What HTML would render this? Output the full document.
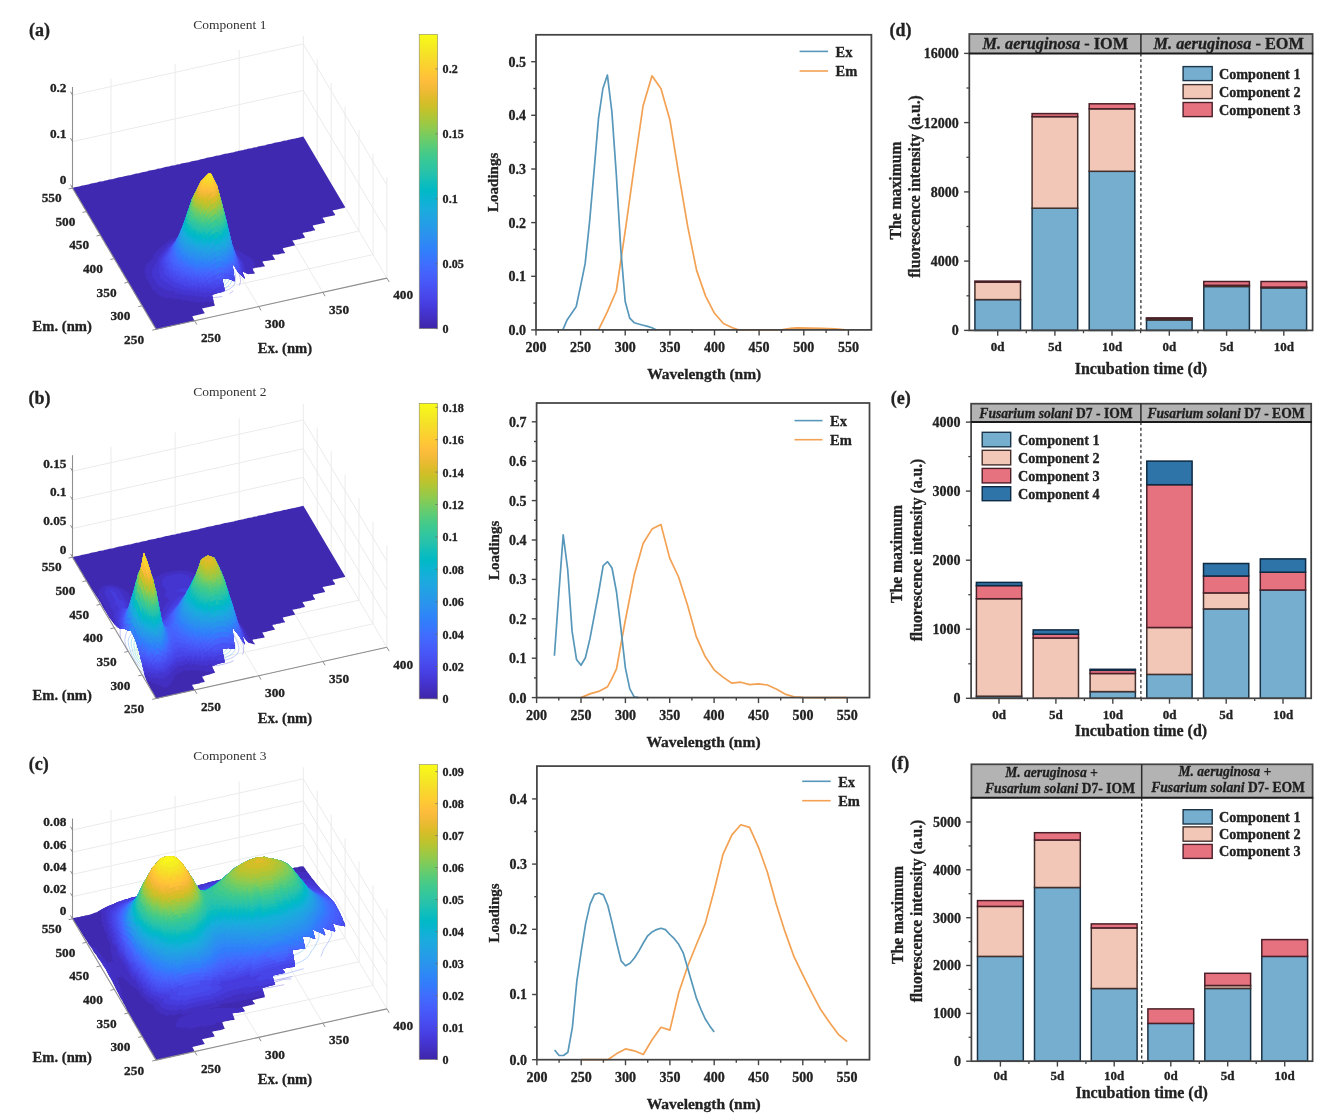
<!DOCTYPE html>
<html><head><meta charset="utf-8"><title>Figure</title>
<style>html,body{margin:0;padding:0;background:#fff;}svg{display:block;filter:blur(0.45px);}text{font-family:"Liberation Serif",serif;stroke:#222;stroke-width:0.3px;}text.n{stroke:none;}</style></head>
<body>
<svg width="1326" height="1119" viewBox="0 0 1326 1119" font-family="Liberation Serif, serif">
<g stroke-width="1"><line x1="111" y1="179.5" x2="111" y2="78.5" stroke="#ebebeb" stroke-width="1" /><line x1="111" y1="179.5" x2="194.6" y2="320.8" stroke="#ebebeb" stroke-width="1" /><line x1="175.1" y1="165.2" x2="175.1" y2="64.2" stroke="#ebebeb" stroke-width="1" /><line x1="175.1" y1="165.2" x2="258.7" y2="306.5" stroke="#ebebeb" stroke-width="1" /><line x1="239.2" y1="151" x2="239.2" y2="50" stroke="#ebebeb" stroke-width="1" /><line x1="239.2" y1="151" x2="322.8" y2="292.3" stroke="#ebebeb" stroke-width="1" /><line x1="303.3" y1="136.8" x2="303.3" y2="35.8" stroke="#ebebeb" stroke-width="1" /><line x1="386.9" y1="278.1" x2="386.9" y2="177.1" stroke="#ebebeb" stroke-width="1" /><line x1="156.1" y1="329.3" x2="386.9" y2="278.1" stroke="#ebebeb" stroke-width="1" /><line x1="373" y1="254.6" x2="373" y2="153.6" stroke="#ebebeb" stroke-width="1" /><line x1="142.2" y1="305.8" x2="373" y2="254.6" stroke="#ebebeb" stroke-width="1" /><line x1="359" y1="231" x2="359" y2="130" stroke="#ebebeb" stroke-width="1" /><line x1="128.2" y1="282.2" x2="359" y2="231" stroke="#ebebeb" stroke-width="1" /><line x1="345.1" y1="207.5" x2="345.1" y2="106.5" stroke="#ebebeb" stroke-width="1" /><line x1="114.3" y1="258.6" x2="345.1" y2="207.5" stroke="#ebebeb" stroke-width="1" /><line x1="331.2" y1="183.9" x2="331.2" y2="82.9" stroke="#ebebeb" stroke-width="1" /><line x1="100.4" y1="235.1" x2="331.2" y2="183.9" stroke="#ebebeb" stroke-width="1" /><line x1="317.2" y1="160.4" x2="317.2" y2="59.4" stroke="#ebebeb" stroke-width="1" /><line x1="86.4" y1="211.6" x2="317.2" y2="160.4" stroke="#ebebeb" stroke-width="1" /><line x1="72.5" y1="188" x2="303.3" y2="136.8" stroke="#ebebeb" stroke-width="1" /><line x1="303.3" y1="136.8" x2="386.9" y2="278.1" stroke="#ebebeb" stroke-width="1" /><line x1="72.5" y1="141.6" x2="303.3" y2="90.4" stroke="#ebebeb" stroke-width="1" /><line x1="303.3" y1="90.4" x2="386.9" y2="231.7" stroke="#ebebeb" stroke-width="1" /><line x1="72.5" y1="95.1" x2="303.3" y2="43.9" stroke="#ebebeb" stroke-width="1" /><line x1="303.3" y1="43.9" x2="386.9" y2="185.2" stroke="#ebebeb" stroke-width="1" /></g>
<g><polyline fill="none" stroke="#9997f1" stroke-width="0.6" points="233.8,264.1 235.8,266.9 237.4,269.7 238,271.7 239.3,274.6 240.2,277.6 240.5,279.7 240.5,281.8 239.8,284.1 239,285.6"/>
<polyline fill="none" stroke="#9997f1" stroke-width="0.6" points="233.4,290.7 231.4,292.3 229.4,293.8"/>
<polyline fill="none" stroke="#9997f1" stroke-width="0.6" points="222.2,296.4 218.3,297.1 214.2,297.5 211.4,297.7 207.5,297.6 204.5,297.3 201.1,297.4 198.2,297.4 195.1,297.2 191.9,296.8 188.7,296.1 185.3,295.3 182.5,294.7 180.2,294 177,292.7 174.2,291.2 171.8,289.6 169.9,287.9 167.9,285.6 166.4,283.3 165.3,281.1 164.2,278.5 163.3,275.5 163,273.4 163.2,271.3 163.7,269 164.3,267.2 165.2,265.5 166.6,263.6 167.8,261.7 168.7,259.9 170.4,257.9 171.9,256.5 173,254.9 174.8,253 176.7,251.4 178.8,250 180.9,248.6 183.2,247.6 186.7,246.1 190.4,245 192.8,244.3 195.7,244.2 199.1,244.1 202.3,244.5 205.6,244.8 208.2,245.3 211.6,246.5 213.6,247.5 216.6,248.8 219.4,250.3 221.9,251.7 224.2,253.4 226.2,255.1 228,256.9 230.4,259.5 232.4,262.3 233.8,264.1"/>
<polyline fill="none" stroke="#97abfd" stroke-width="0.6" points="228.7,263.1 230.8,265.8 232.7,268.6 234.1,271.5 235.2,274.1 235.5,276.5 235.4,278.7 235.3,280.8 234.8,283.1 234.1,284.6 232.5,286.8 230.5,288.3 228.3,289.6 226,290.6 222.4,291.9 218.6,292.8 214.7,293.5 210.6,294 207.9,294.3 203.6,294.2 200.5,294 197.3,293.6 194.6,293.1 192.3,292.4 188.7,291.3 186.8,290.5 184.1,289 181.3,287.5 178.8,285.9 176.8,284.2 174.5,281.5 173.4,278.6 172.8,276.6 172.6,273.9 172.8,271.8 172.9,269.5 173.3,267.6 173.9,265.7 175.1,263.4 175.9,262 177.4,259.9 179.1,258.1 180.7,256.7 182.8,255.2 185.4,253.8 187.8,252.9 191.2,251.4 193.6,250.6 197.4,249.8 200.5,249.9 203.4,249.8 206.4,250.1 209.7,250.7 213,251.7 215.2,252.7 217.6,253.9 220,255.5 222.2,257.2 224.8,259.1 227.2,261.3 228.7,263.1"/>
<polyline fill="none" stroke="#8bbff8" stroke-width="0.6" points="229.4,269.3 230.4,271.2 231.6,274.2 232,276.2 232.1,278.7 231.8,280.7 231,282.9 229.7,284.5 227.8,286.2 225.8,287.7 223.4,288.8 220,290.2 216,290.9 212,291.4 209.2,291.6 205.5,291.7 202.1,291.4 199.3,291 196.8,290.4 193.4,289.4 191.1,288.5 188.1,287 185.4,285.6 183.4,283.8 181.7,282.1 179.9,279.3 179.1,277.3 178.3,274.3 177.9,272.2 178.1,270.1 178.7,267.8 179.4,265.8 180.2,264.3 181.7,262.2 183.2,260.4 184.8,259 186.7,257.5 189.6,256.1 191.9,255 195.6,253.9 199.5,253.1 202.4,253.1 205.9,253.3 208.6,253.8 212,254.7 214.6,255.6 217.4,257.1 219.9,258.7 222,260.3 223.8,262.1 226.1,264.7 228.2,267.5 229.4,269.3"/>
<polyline fill="none" stroke="#82d0ed" stroke-width="0.6" points="225.8,268 227.8,270.8 228.4,272.8 229.4,275.8 229.2,277.9 228.7,280.2 228,281.6 226.3,283.7 224.5,285.4 222.2,286.6 219.9,287.6 216.1,288.6 212.3,289.1 209.3,289.3 206.3,289.4 202.8,289.1 200.2,288.6 196.7,287.7 194.2,286.8 191,285.4 188.7,283.8 186.7,282 184.9,280.3 184.1,278.3 182.9,275.4 182.5,273.4 182.2,270.4 182.6,268.7 183.5,266.7 184.6,264.8 185.9,263 187.1,261.6 189.2,260.1 192.5,258.4 194.8,257.5 198.5,256.3 202.6,255.9 205.6,256 208.8,256.5 211.5,257.3 214.2,258.3 216.6,259.4 219.1,261 221.2,262.6 223.7,265.3 225.3,267.2"/>
<polyline fill="none" stroke="#7cdbd8" stroke-width="0.6" points="222.1,266.7 224.2,269.4 225.8,272.3 226.3,274.3 226.7,277 226.1,278.6 224.8,281 223.9,282.3 222,283.8 219,285.5 216.3,286.4 213,286.8 209.5,287.1 206.6,287.1 202.9,286.9 200.3,286.3 196.7,285.1 194.8,284.4 192.3,282.9 189.8,280.9 187.9,278.6 186.9,275.9 186.3,273.6 186.2,271.5 186.2,269.3 187.3,267 188.1,265.7 189.8,263.6 191.9,262.3 194,261 197.5,259.6 199.9,258.7 202.6,258.4 205.7,258.6 208.9,259 212.3,260.1 214.4,260.9 217.5,262.4 219.4,264.1 221.9,266.5"/>
<polyline fill="none" stroke="#9ae2bc" stroke-width="0.6" points="219.5,267.3 221.7,270 223.3,272.8 223.6,274.9 223.8,277 222.6,279.4 221.7,280.8 219.7,282.3 217.5,283.7 213.8,284.6 211.1,284.9 207.1,285 203.7,284.8 200.8,284.2 198.7,283.6 195.8,282.1 193.7,280.5 191.3,277.8 190.2,274.8 189.9,272.8 189.9,270.7 190.1,268.5 191.4,266.4 193.4,264.9 195.5,263.5 197.8,262.4 201.3,261.1 205,260.9 208.1,261.3 210.8,261.8 214.1,263.1 216.4,264.8 218.5,266.4"/>
<polyline fill="none" stroke="#cae197" stroke-width="0.6" points="218.2,269.7 220.5,272.4 220.6,274.5 220.7,276.7 219.7,279 217.8,280.4 215.7,282 213.7,282.4 209.8,282.8 206.9,282.8 203.7,282.5 200.6,282.1 198.2,280.5 195.9,278.9 194.2,276.1 193.6,274.1 193.3,272 193.6,269.8 195,267.6 197,266 199.2,264.8 202.1,263.7 204.8,263.1 207.7,263.5 210.4,264 213.3,265.5 215.5,267.1 217.7,269.1"/>
<polyline fill="none" stroke="#f3d98d" stroke-width="0.6" points="216.1,271.2 217.7,274.1 217.2,275.7 216.5,277.5 215.1,279.5 213.9,280.2 209.9,280.5 206.9,280.7 203.5,279.5 201.5,278.7 198.1,277.4 197.9,275 197.8,272.3 198.5,270.9 200,268.6 202.1,267.3 204.2,266 207.2,266.1 210.1,267.2 212.9,268.5 215.3,270.4"/>
<polyline fill="none" stroke="#fce78c" stroke-width="0.6" points="213.5,273.9 212.8,275.7 210.7,276.9 207.7,276.7 204.6,276.4 203.7,275 205,272.6 205.9,271.2 207.7,269.4 210.1,271.1 212.5,273.1"/></g>
<g stroke="none"><g transform="scale(.1)"><path fill="#3f29b1" d="M1563 3295l-5-2-6-16-24-34-10-23-20-27-10-23-10-10-23-47-10-10-7-16-6-7-10-23-10-10-20-40-24-34-10-23-10-10-6-17-7-6-10-24-10-10-23-46-10-10-20-40-10-10-7-17-7-7-10-23-10-10-23-47-7-3-23-47-10-10-20-40-10-10-23-46-10-10-10-24-7-6-7-17-10-10-23-47-10-10-20-40-10-10-23-46-10-10-24-47-10-10-23-47-10-10-7-16-23-34-10-23-23-33-10-24-24-33-20-40-10-10-43-80 22-8 46-7 30-10 14 0 3-3 43-7 30-10 60-10 14-7 46-6 17-7 13 0 30-10 30-3 60-17 47-7 13-6 30-4 4-3 26-3 60-17 17 0 43-13 47-7 13-7 77-13 13-7 30-3 60-17 14 0 3-3 13 0 17-7 43-6 17-7 30-3 13-7 77-13 30-10 60-10 30-10 30-4 30-10 60-10 30-10 30-3 60-17 30-3 3-3 57-10 17-7 13 0 17-7 13 0 17-6 13 0 17-7 13 0 17-7 43-6 17-7 30-3 13-7 77-13 13-7 47-7 30-10 60-10 30-10 30-3 16-7 14 0 13-6 47-7 3-3 27-4 46-13 419 708-5 5-10 0-4 4-13 0-60 16-30 4-5 5 23 33 4 7-2 5-123 26 1 9 7 6 17 34-125 28 5 15 20 30-5 5-14 0-30 10-13 0-3 3-57 10-5 5 17 24 8 21-37 7-16 7-14 0-16 6-44 7 29 48-125 29 11 28 14 17-5 5-30 3-34 10-56 3-2 5 3 7 7 7 7 16 10 10-5 5-47 4-3 3-64 7-6 3-2 5 23 40-1 5-34 3-3 4-20 0-23 6-20 0-4 4-20 0 12 28 10 13 2 15-57 0-7 4-56-27-2 8 23 57-1 8-69-71-55-89 25 182-8 2-10-4-17-10-30-10-20 0-3-3-20 0-3-3-15 1 26 127-25 5-10 7-23 3-68 25 0 10 10 27 0 13 6 13 0 10 10 30-1 5-127 27 28 48-125 29 12 28 13 17-8 5-43 6-30 10-60 10-14 7-76 13-14 7-46 7-4 3-10 0-30 10-16 0-17 7-13 0z"/>
<path fill="#422fc1" d="M2017 3032l-7-17-20 10-17 3-10-13-16 10-7 0-7-13-23 10-7-14-23 10-10-13-10 3-7-10-23 10-10-13-10 7-7-17-23 10-7-13-13 10-10 0-3 3-7-13-23 6-7-13-20 10-13-10-24 7-6-10-10 3-7-10-13 3-7-10-10 4-13-20-14 6-18-38-5-5-10 7-5-2-40-77-40-60 0-3 10-7 0-6-23-34 0-3 10-7-10-16 10-4 0-6-7-10 10-7-3-7 10-3-4-7 10-6-3-7 40-33-3-4 1-5 10 0 12-8-3-3 10-7-4-7 10-6-10-14 10-6 2-9 18-8 0-7 10-6-3-4 10-6-2-9 20-6-1-9 18-5 5-5-3-3 10-7-4-3 5-5 14-3 6-14 7 0 12-8-2-5 20-7-2-5 5-5 17-3-2-5 5-5 37-10 7-3 3-7 10 0 22-8 26-57 0-7 20-43 4-17 6-10 4-16 6-10 74-224 6-6 4-14 6-6 7-20 7-7 60-123 68-69 27-3 65 125 6 20 4 23 13 37 3 23 7 14 3 23 17 50 3 23 7 14 0 10 13 43 0 13 4 4 0 10 6 16 0 10 4 4 0 10 6 16 54 224 6 10 7 26 18 12 10 0 7 7 13 0 10 13 14 0 13 17 10 0 13 16 10 0 7 7 13 0 14 17 10-4 13 20 10-3 8 8 10 24 17 23-10 7 2 8-12 2 13 20-5 5-21 1 10 17-10 3 10 20-14 4 5 11-33 0-7 4-23-10-7-7-6 0-17-10-5 2 3 16 20 47-1 8-69-71-55-89 25 182-8 2-10-4-17-10-30-10-60-6-1 8 3 3 0 14 13 46 10 57-25 5-10 7-23 3-67 23-1 12 6 13 4 27 3 3 0 7-5 5-30 7-13 6-7-20z"/>
<path fill="#4435d1" d="M2047 2982l-5-2-5-15-24 10-10-17-20 14-5-2-5-12-6 0-17 10-7-13-13 7-7-14-23 17-7-23-33 16-8-5-2-11-23 13-10-17-10 7-7-17-23 17-10-13-12 5-7-24-5-5-10 10-6-13-17 10-10 0-7-10-10 3-6-10-14 4-6-10-10 3-7-10-13 3-10-23-14 10-13-23-10 6-5-5-10-26-47-70 2-5 12-5-17-24 10-6-10-14 10-6 0-7 10-10-3-3 10-7-4-7 10-6-3-4 10-6-3-7 10-7 0-6 10-10-10-7 0-3 10-7-4-7 10-10-6-10 11-5 9-11 10-7-4-3 10-7-3-7 10-6-3-4 23-13-3-3 10-10-4-4 9-5 10-13 11-5 0-7 10-6-3-4 10-6-2-5 17-7 7-10 26-10 4-7 20-6 11-9 0-6 10-14 30-63 0-7 20-43 4-17 6-10 4-16 6-10 74-224 6-6 4-14 6-6 7-20 7-7 60-123 68-69 27-3 65 125 6 20 4 23 13 37 3 23 7 14 3 23 17 50 3 23 7 14 0 10 13 43 0 13 4 4 0 10 6 16 0 10 4 4 0 10 6 16 54 224 6 10 14 46 10 20 16 17 4 10 23 20 27 47 13 16 10 24-3 10 16 33-1 5-9-2 10 17 0 7-11-2-17-10-5 2 3 16 20 47-1 8-69-71-55-89 25 182-8 2-10-4-17-10-30-10-60-6-1 8 3 3 0 14 13 46 10 57-25 5-10 7-23 3-67 23-1 12 3 7-18 11-9-1-5-19z"/>
<path fill="#463cde" d="M2167 2935l-9-2-3-20-5-5-7 7-26 7-24 13-5-2-5-18-33 20-7 0-1-12-9-5-20 17-5-18-11 5-10-17-24 20-13 3-2-15-5-8-23 17-7-24-20 17-8-5-2-12-26 14-7-17-23 13-7-16-13 6-7-13-10 7-7-14-13 7-7-13-10 10-6-14-14 10-10-26-13 13-13-27-10 4-7-10-13 3-9-22-15 5-16-30-15 5-10-23-10-10 10-13-7-14-13-13 0-3 10-7 0-7-7-10 10-6-10-14 13-6-10-10 10-14-10-13 10-10-6-10 10-10-4-7 10-6-3-7 10-7-3-3 16-20 0-7 10-6-3-4 20-16 17-20-4-4 10-6-3-7 20-17-3-3 11-5 10-13 20-10-1-5 10-7-4-3 19-9 11-15 0-6 10-14 30-63 0-7 20-43 4-17 6-10 4-16 6-10 74-224 6-6 4-14 6-6 7-20 7-7 60-123 68-69 10-3 17 0 5 5 60 120 10 43 6 14 0 10 7 13 3 23 7 14 3 23 7 13 3 24 7 13 3 23 7 14 0 10 13 43 0 13 4 4 0 10 6 16 0 10 4 4 0 10 6 16 54 224 6 10 14 46 16 40 17 17 13 20 34 60 0 3-5-1-2 5 13 30-10 0 10 23-13-3 10 20-3 13 13 37-2 8-55-58-55-89 25 182-8 2-10-4-17-10-30-10-60-6-1 8 3 3 0 14 13 46 10 57-25 5-10 7-23 3z"/>
<path fill="#4744e8" d="M2127 2895l-5-2-4-16-5-5-33 20-5-2 0-10-5-8-23 20-7-24-37 27-6-33-37 30-5-9 0-13-5-5-23 23-7-26-23 20-5-9 0-10-15 9-7-17-23 17-7-20-13 10-2-12-8-5-7 7-7-17-10 10-5-2-5-15-10 10-6-13-14 10-10-30-13 13-8-25-5-5-10 14-5-5 0-7-14-20-5-15-8 12-7 3-10-23-26-37 10-20-24-33 10-17-13-10 0-7 10-10-3-3 10-10 0-3-10-7 10-10-4-3 34-47-4-3 10-7-3-3 10-10-3-4 36-36 17-27 33-30 34-63 0-7 16-30 0-7 20-43 4-17 6-10 4-16 6-10 74-224 6-6 4-14 6-6 7-20 7-7 60-123 68-69 10-3 17 0 5 5 60 120 10 43 6 14 0 10 7 13 3 23 7 14 3 23 7 13 3 24 7 13 3 23 7 14 0 10 13 43 0 13 4 4 0 10 6 16 0 10 4 4 0 10 6 16 54 224 6 10 37 110 13 16 20 44-10 0 14 26-4 7 7 3-3 7 13 33 0 7-7 0 7 23-10-3 3 3-1 12-29-28-55-89 25 182-8 2-10-4-17-10-30-10-60-6-1 8 3 3 0 14 13 46 4 27-9 5-5-2-5-25-36 14-10 0z"/>
<path fill="#484cef" d="M2043 2868l-5-8 0-20-5-12-36 34-5-32-5-2-34 34-6-27-24 23-5-5 0-13-5-5-10 10-5-18-11 8-10-20-10 13-7-20-23 20-10-16-10 13-5-18-12 8-10-17-10 14-8-19 0-13-5-5-10 13-7-13-13 10-17-40-13 13-2-1-17-34 0-6-20-27-3-10-20-23 13-17-23-20 13-13-8-5-2-5 10-10-3-7 17-23 0-4-7-3 27-30 10-17-10 0 33-43 37-40 40-73 0-7 16-30 0-7 20-43 4-17 6-10 4-16 6-10 74-224 6-6 4-14 6-6 7-20 7-7 60-123 68-69 27-3 65 125 6 20 4 23 13 37 3 23 7 14 3 23 17 50 3 23 7 14 0 10 13 43 0 13 4 4 0 10 6 16 0 10 4 4 0 10 6 16 54 224 6 10 14 46 6 10 4 17 6 10 7 27 13 26 17 50-3 10 10 27 0 10-7 0 3 3-1 5-9-5 7 34 3 3-1 5-19-18-55-89 9 75 3 4 3 40 4 3 0 17-10 0 0 20 3 3-2 18-50-20-60-6-1 8 10 33-5 9-20 3-50 20-5-5 0-10-5-8-47 23-5-5 0-10-5-8z"/>
<path fill="#4854f5" d="M2083 2838l-5-1-5-42-50 43-6-36-24 23-5-8 0-17-5-8-23 26-7-30-23 27-5-8-2-15-13 13-2-2-5-21-23 30-5-9-3-26-5-12-14 17-1-12-5-5-5 8-19 15-6-20-10 10-5-1 0-10-9-22-13 10-7-13-10 13-8-15 0-13-5-5-10 13-20-33-10 13-8-12 0-6-27-34 10-16 0-10-12-9-11-15 0-6 10-10-10-7 10-17-10-3 13-13-3-4 10-10-4-3 17-23-3-4 10-13-4-7 7-6 3-14 50-63 34-63 0-7 16-30 0-7 20-43 4-17 6-10 4-16 6-10 74-224 6-6 4-14 6-6 7-20 7-7 60-123 68-69 27-3 65 125 6 20 4 23 13 37 3 23 7 14 3 23 17 50 3 23 7 14 0 10 13 43 0 13 4 4 0 10 6 16 0 10 4 4 0 10 6 16 54 224 6 10 37 110 13 26-3 4 3 3 0 10 7 13 0 10 7 10 0 7-7 0 7 17 0 10-4 0-5-9 2 12-10-3 7 20 0 13 3 3-2 9-60-94 9 75 3 4 3 40 4 3-2 18-47-23 4 50-14-7-60-6 2 21-25 9-5-22-12-2-20 7-73 37z"/>
<path fill="#475cfa" d="M2063 2802l-5-5 0-24-5-11-31 35-5 1-7-36-23 26-7-33-23 27-5-2 0-13-5-9-24 30-5-25-1-1-10 13-5-5 0-13-5-5-10 16-7-23-13 17-2-15-5-5-10 16-5-5-2-11-10 10-5-2 0-10-5-5-10 10-13-37-10 14-5-5-2-12-13 13-13-26-10 13-5-5-17-43-10-17-27-30 14-17-24-20 14-16-4-4 10-13-6-3 16-24-3-3 10-17-10 0 10-13-3-3 13-14-3-3 10-17 36-50 0-6 10-14 30-63 0-7 20-43 4-17 6-10 4-16 6-10 74-224 6-6 4-14 13-20 0-6 7-7 60-123 68-69 27-3 65 125 6 20 4 23 13 37 3 23 7 14 3 23 17 50 3 23 7 14 0 10 13 43 0 13 4 4 0 10 6 16 0 10 4 4 0 10 6 16 54 224 6 10 14 46 6 10 4 17 6 10 14 40-4 10 7-3-3 13 6 17 0 10-3 0-2-5-1 8 6 23-10-6 4 6-2 9-5-12-3 0 6 20 0 17 4 3-2 12-47-74 9 75 3 4 0 16 3 7-8-2-27-20-5 2 4 3 1 35-26-13-34-7 0 57-30-7-20 10-10 0-26 10-7-53-43 23z"/>
<path fill="#4464fd" d="M2100 2775l-7-50-50 47-6-40-37 40-5-12 0-17-5-5-23 30-5-28-4 0-8 12-5-9-2-18-13 17-7-27-23 33-7-23-13 17-2-15-5-9-10 17-5-5-8-35-10 17-5-2 0-7-5-5-10 14-8-35-5-5-10 13-7-17-13 17-17-43-5 8-10 7-7-20-30-37 7-17 7-6-17-10 10-17-10-13 13-14-5-1-1-5 6-7-3-3 10-17-5-2-2-5 7-6 3-7-3-3 10-14-3-6 10-10 3-10 23-34 0-6 10-14 30-63 0-7 20-43 4-17 6-10 4-16 6-10 74-224 6-6 4-14 6-6 7-20 7-7 60-123 68-69 10-3 17 0 5 5 60 120 6 20 4 23 13 37 3 23 7 14 3 23 17 50 3 23 7 14 0 10 13 43 0 13 4 4 0 10 6 16 0 10 4 4 0 10 6 16 54 224 6 10 14 46 16 37 0 13 7 17-3 17 6 16-1 9-5-12-4 0 7 30-3 0-2-5-3 10-2-5-3 0 0 13 6 20-1 19-32-52-3 0 10 63-2 2-20-20 0 40-33-27 0 47-10 0-14-7-13 0-17-6-16 0-10 6-17 4-17 10-13 3z"/>
<path fill="#406dfe" d="M2153 2745l-5-8 0-27-3-3-2-15-23 13-23 20-10 3-17 17-5-12 0-23-5-8-25 31-12 9-1-25-5-12-24 30-6-33-24 33-5-8 0-17-5-5-10 17-6-30-10 16-5-1 0-17-5-5-10 17-7-27-10 17-5-5 0-14-5-5-10 20-7-20-13 24-2-12-6-10 3-7-5-15-13 24-7-20-10 13-5-5 0-10-8-15-10 13-5-1-15-39-5 9-10 6 0-6-10-10 13-17 0-7-13-16-14-10 0-7 10-10 0-7-13-6 10-17-2-5-8-2 13-23-10 0 10-17-6-3 3-10 17-27 0-6 16-24 0-6 10-14 30-63 0-7 20-43 4-17 6-10 4-16 6-10 74-224 6-6 4-14 6-6 7-20 7-7 60-123 68-69 10-3 17 0 5 5 60 120 6 20 4 23 13 37 3 23 7 14 3 23 17 50 3 23 7 14 0 10 13 43 0 13 4 4 0 10 6 16 0 10 4 4 0 10 6 16 54 224 6 10 14 46 10 20-4 7 7 3-3 7 3 17-2 1-3-6-5 11 2 5 1-5 4 0-4 10 0 14 4 3-2 12-2-9-3 0 7 44-10-7 3 30-3 0-19-32 2 25-10-6 0 16 3 4-1 15-34-30 0 40-40-17-8 2 5 51-17-6-16 0z"/>
<path fill="#3876fe" d="M2110 2715l-5-2 0-26-3-4-2-18-23 17-27 30-7-40-23 30-5-12 0-20-5-5-12 22-11 11-2-21-5-12-23 37-5-15 0-17-4 0-11 15-2-18-5-9-10 20-7-26-13 20-5-25-3 0-9 15-5-5-1-15-14 23-8-42-7-3 0 7-8 15-13-44-14 27-11-25 0-10-5-5-9 15-3 0-17-37-23-26 13-17-23-13 13-27-1-5-9 2 7-14-3-13 10-20-4-3 10-7-3-7 7-6 6-20 24-40 0-7 16-30 0-7 20-43 50-150 7-10 10-30 0-10 13-30 14-47 6-6 4-14 6-6 7-20 7-7 60-123 68-69 10-3 17 0 5 5 60 120 6 20 4 23 13 37 3 23 7 14 3 23 17 50 3 23 7 14 0 10 13 43 0 13 4 4 0 10 6 16 0 10 4 4 0 10 6 16 54 224 6 10 7 30 13 33 0 10-6 13 3 24-7-4 7 40-3 0-5-11 1 21-10-6 4 6 0 20 3 4-2 5-8-9-3-13-12-15 0 33-20-20-2 2 0 10 4 3-2 22-23-20-7-3-5 1 5 49-47-17-10 0-33 17-30 10z"/>
<path fill="#317efb" d="M2160 2685l-5-15 0-27-5-11-13 3-57 47-5-2 0-10-3-3-2-29-37 44-5-5 0-24-5-8-23 37-7-40-11 15-12 25-5-12 0-20-3 0-12 15-5-28-3 0-9 15-5-9-1-18-14 23-6-26-10 16-5-5-2-15-13 20-9-25 4-3-4-3 0-14-5-5-8 22-3 0-4-7-1-11-14 26-8-35-10-16 0-10-7-4-6 24-5 1-9-21-6-7 0-7-24-26 14-30-24-10 14-30-10-4 6-10-6-3 5-5 5 2-4-4 7-16-3-4 6-3-3-3 3-10 24-40 0-7 16-30 0-7 20-43 50-150 7-10 10-30 0-10 13-30 14-47 6-6 4-14 6-6 7-20 7-7 60-123 68-69 10-3 17 0 5 5 60 120 6 20 4 23 13 37 3 23 7 14 3 23 17 50 3 23 7 14 0 10 13 43 0 13 4 4 0 10 6 16 0 10 4 4 0 10 6 16 54 224 10 20-4 6 7 4-3 6 6 20-3 17 7-3-7 20 7 40-4 0-5-12-1 12-7-4-2 19-5-12-3 0 3 7 2 31-23-30 0 37-20-23 3 46-13-13-47-20-2 28 4 4 0 20-19-2zM2335 2530l-2-5-1 5z"/>
<path fill="#2e86f7" d="M2117 2652l-5-2 0-27-4-3-1-15-24 17-26 30-7-44-23 30-7-36-23 33-5-5 0-20-5-8-24 43-5-35-3 0-7 13-5 2-1-22-5-5-10 20-7-26-13 23-2-18-5-5-10 20-8-25 0-17-5-8-10 20-5-5-2-15-13 26-15-51-7 3-8 25-2-8-7-7 4-3-10-27-27-33-10-4 13-33-23-7 10-16-3-7 13-23-3-4 6-13 0-10 30-60 0-7 20-43 4-17 6-10 4-16 6-10 74-224 6-6 4-14 6-6 7-20 7-7 60-123 68-69 10-3 17 0 5 5 60 120 6 20 4 23 13 37 3 23 7 14 3 23 17 50 3 23 7 14 0 10 13 43 0 13 4 4 0 10 6 16 0 10 4 4 0 10 6 16 54 224 6 13-3 7 7 20-4 23 7 23-2 9-5-15-3 0 3 10-1 11-5-11-4 0 4 10-2 11-5-11-3 0 0 13 3 3-2 12-18-28-7-4 4 4 3 36-13-10 3 7 2 32-27-27-10-3 2 31 3 4-2 11-6 0-37-20-13 0-54 27-6 0z"/>
<path fill="#2c8ef1" d="M2170 2622l-5-2-3-47-5-5-7 7-23 10-40 37-5-2-5-45-22 22-15 25-5-15 0-24-5-5-20 37-5-2 0-23-5-12-23 40-5-15 0-16-4 0-6 13-5 2-5-29-4 0-8 19-7-27-13 20-2-15-5-8-10 23-5-8-1-15-14 23-1-15-7-10 3-3-3-7 0-17-7 4-8 18-8-22 0-10-5-5-9 25-6 0-17-60-12-8-20-23-11-5 10-17 3-13-17-4 10-20-3-6 13-27 4-20 16-30 0-7 20-43 4-17 6-10 4-16 6-10 74-224 6-6 4-14 6-6 7-20 7-7 60-123 68-69 10-3 17 0 5 5 60 120 6 20 4 23 13 37 3 23 7 14 3 23 17 50 3 23 7 14 0 10 13 43 0 13 4 4 3 23 3 3 27 117 3 3 27 117 3 3 0 14 7 16-3 20 6-3 0 10-3 3 3 24-3 0-2-9-3 14-7-17 0 23-5-15-3 0 3 27-10-7 2 32-20-27 0 37-20-23 0 43-47-27-1 22 3 3 0 27-18-2zM2322 2493l-2-5-2 5z"/>
<path fill="#2895ec" d="M2110 2602l-5-15 0-27-5-8-47 50-5-9 0-26-3-7-3 0-22 35-5-38-7 3-5 12-5-9 0-23-5-5-23 47-5-35-3 0-9 18-5-8-1-22-14 23-5-25-3 0-8 19-5-5-2-19-13 27-9-25 4-3-4-4 0-16-5-5-8 21-3 0-4-6-1-12-14 27-11-32 0-10-7-10 0-10-7-3-8 25-5-2 0-7-13-10 0-10 13-30-18-15-12-1 13-30-16-4 6-13-3-7 7 0-4-3 4-17 16-33 0-7 20-43 4-17 6-10 4-16 6-10 74-224 6-6 4-14 6-6 7-20 7-7 60-123 68-69 10-3 17 0 5 5 60 120 6 20 4 23 13 37 3 23 7 14 3 23 7 13 3 24 7 13 3 23 7 14 0 10 13 43 0 13 4 4 3 23 3 3 27 117 27 97-4 6 7 7-3 10 6 3-6 17 3 30-3 0-2-8-3 16-7-16 2 25-10-7 3 27-10-7 0 13 3 4-1 18-20-27 0 40-10-13-20-13-5 1 0 17 3 3-2 25-30-13-6-7-70 37zM2312 2433l-2-5-2 5z"/>
<path fill="#259ce7" d="M2033 2575l-5-42-6 4-5 11-5-5 0-23-5-12-24 47-5-35-6 3-5 15-5-5 0-20-5-5-10 24-7-34-13 24-2-19-7-3 0 7-8 15-7-24-13 27-8-52-7 4-8 21-9-15-8-35-5 5-8 25-2-8-7-7 4-3-4-13-30-27 0-10 10-23-16-4 13-26-8-2-4 3-1-5 6-13-3-3 13-24 0-10 20-43 14-43 6-10 74-224 6-6 4-14 13-20 0-6 7-7 60-123 68-69 27-3 65 125 10 43 6 14 0 10 7 13 3 23 7 14 3 23 7 13 3 24 7 13 3 23 7 14 0 10 13 43 0 13 4 4 50 210 3 3 0 13 3 4 0 13-3 3 0 10 3 4-1 15-2-9-3 0 3 30 3 4 0 20-3 0-5-15 0 26-18-35-4 0 4 34-4 0-5-12 0 43-18-31-3 0 0 13 3 3-2 32-36-27-10-3 3 53-13-10-37 20-5-51-5-2-30 17-43 40-2-32-3-3-2-15-15 15z"/>
<path fill="#21a3e3" d="M2117 2535l-7-53-50 50-2-15-3-4-2-28-26 40-2-25-5-15-23 43-2-15-3-3 0-17-7 4-3 10-5 1-2-21-5-9-10 24-7-34-13 24-5-25-3 0-9 21-6-26-5 5-9 25-5-35-3-4 0-16-7 3-8 25-8-15 0-10-5-5-10 27-5-5-14-47-8-5-13-17-12-5 10-30-13 0 10-30 0-3-7-3 13-30 4-17 6-10 4-17 6-10 4-16 6-10 74-224 6-6 4-14 6-6 7-20 7-7 60-123 68-69 10-3 17 0 5 5 60 120 10 43 6 14 0 10 7 13 3 23 7 14 3 23 7 13 3 24 7 13 3 23 7 14 10 50 3 3 0 13 4 4 3 23 3 3 27 117 17 57-4 16 7-3-3 23-4 4 0 13 4 3-2 22-2-8-3 0 2 25-5-12-4 0 2 32-23-44 5 42-4 0-8-15 0 40-13-17-14-10-8-1 3 10 0 30 4 3-2 8-40-26-23 16-7 0zM2298 2390l-1-5-2 5z"/>
<path fill="#1ca9df" d="M2157 2512l-5-5 0-34-4-3-1-15-27 13-33 37-5-8 0-30-5-12-19 18-18 32-2-28-3-4-2-15-23 44-5-15 0-20-7 3-8 18-5-38-3 0-9 22-5-12-1-22-14 27-1-22-5-11-10 23-5-5-2-22-13 27-7-27-8 25-5 2-2-18-8-22-5 5-9 28-1-8-7-7 3-3-6-17 0-10-7-10 0-13-5-5-12 32-6-4 13-33-12-8-6-10-9-2 10-37-5-1-10 6-5-1 4-17 10-20 0-10 26-63 30-97 7-10 10-30 0-10 13-30 14-47 6-6 4-14 6-6 7-20 7-7 60-123 68-69 10-3 17 0 5 5 60 120 10 43 6 14 0 10 7 13 3 23 7 14 3 23 7 13 3 24 7 13 3 23 7 14 0 10 13 43 0 13 4 4 3 23 3 3 30 130 4 4 0 16 6 24-1 11-2-8-3 0 6 40-3 0-5-15 0 23-5-11-3 0 0 13 3 3-2 12-5-12-3 0 2 32-9-15-3 0 7 40-4 0-6-10-15-28 3 50-47-37-1 32 3 3 0 20-15-8z"/>
<path fill="#15afd9" d="M2110 2482l-7-57-50 57-5-49-6 4-19 38-5-12 0-23-5-5-8 22-3 0 0-20-4-4-1-15-15 29-7 23-3 0-4-10-1-22-14 27-1-22-5-11-9 15 0 6-6-3 0-20-4-3-3-34-3 0-12 29-2-19-5-8-8 28-5 2-5-12 0-13-7-10 4-3-10-34-4 0-3 7-8 28-5-15-20-13 13-33 0-10-8-9-19 5 10-26 0-7-6 0 0-10 26-63 74-224 6-6 4-14 6-6 7-20 7-7 60-123 68-69 10-3 17 0 5 5 60 120 10 43 6 14 0 10 7 13 3 23 7 14 3 23 7 13 3 24 7 13 3 23 7 14 0 10 13 43 0 13 4 4 3 23 3 3 30 130 4 4 0 13-4 3 4 27-4 0-1-8-4 16-5-15-3 0 3 10-1 15-5-15-4 0 0 14 4 3-2 18-5-15-3 0 3 34-10-7 2 38-9-15-15-11-10-14 0 54-36-30-67 36zM2288 2327l-1-9-2 9zM2285 2347l-2-5-1 5z"/>
<path fill="#08b4d1" d="M2153 2452l-5-2-3-50-5-5-10 10-10 3-40 44-2-15-3-4-2-31-31 35-5 11-5-5 0-26-5-9-9 19-3 0-5-39-8 12 0 7-15 31-5-5 0-23-5-5-9 25-3 0-5-32-5 5-3 17-5 2-2-22-5-5-10 27-12-62-3 0-7 23-5 5-5-28-5-8-13 33-15-52-33-26 10-34-12 5-5-1 10-24-3-10 16-36 74-224 6-6 4-14 6-6 7-20 7-7 60-123 68-69 10-3 17 0 5 5 60 120 10 43 6 14 0 10 7 13 3 23 7 14 3 23 7 13 3 24 7 13 3 23 7 14 0 10 13 43 0 13 4 4 26 116 4 4-4 6 7 7-3 3 0 10 3 4-2 15-1-12-4 0 7 57-3 0-5-15 0 26-5-15-4 0 4 34-4 0-18-42-2 18 4 4 0 16-4 0-6-16-12-12-2 25 4 3 0 20-15-8-20-20-2 22 3 3 0 27-5 1-6-6z"/>
<path fill="#01b9c8" d="M2050 2428l-5-5 0-26-5-15-8 18-4 0-5-42-11 19-10 30-5 1-5-31-4 0-8 21-7-33-5 5-6 20-4 0 0-23-5-9-10 27-5-12-1-18-5 5-9 25-1-18-7-10 3-7-5-15-5 5-8 28-8-18 0-13-9-25-5 5-8 28-5-12-5-1-8-12 13-40-15-12-7 4-5-2 10-30-1-5-7 7-2-5 10-20-3-7 33-100 7-10 10-30 0-10 13-30 14-47 6-6 4-14 6-6 7-20 7-7 60-123 68-69 27-3 65 125 6 20 4 23 13 37 3 23 7 14 3 23 17 50 3 23 7 14 0 10 13 43 0 13 24 84 0 13 6 17 0 13-3 3 3 37-6-3-2 15-5-12-3 0 3 7 0 20-3 0-5-12 0 33-20-40 1 42-23-13 0 16 3 4-1 28-27-27-13-6-47 33-10 3-13 14-5-9 0-30-5-15zM2275 2277l-2-9-1 9zM2272 2310l-2-5-2 5z"/>
<path fill="#09bcbe" d="M2030 2402l-2-15-3-4 0-23-7 3-8 19-5-39-3 0-9 22-5-8-1-25-14 26-6-36-10 26-5-8-2-22-8 12-5 18-2-18-5-12-8 25-5 5-5-25-7-13 0-10-5-8-8 28-7 3-7-33-30-23 10-30-1-5-7 3-5-2 10-23-2-5-5 2 0-7 30-90 7-10 10-30 0-10 13-30 14-47 6-6 4-14 6-6 7-20 7-7 60-123 68-69 27-3 65 125 6 20 4 23 6 14 0 10 7 13 3 23 7 14 3 23 7 13 3 24 7 13 3 23 10 27 0 10 10 30 0 13 24 84 6 43-5 8-5-15-3 0 0 10 3 4-1 11-5-18-4 0 4 27-4 0-5-12-3 23-5-11-3 0 3 10-2 25-8-19-12-11-1 1 5 49-37-34-2 2 4 10 0 30 3 3-2 9-16-10-34 23-5-55-5-2-18 12-23 23-19 25-6-50-22 25zM2275 2277l-2-9-1 9zM2252 2290l-2-5-2 5z"/>
<path fill="#1bc0b4" d="M2100 2365l-7-53-25 28-11 22-5-12 0-30-4-7-3 0-10 14-12 25-5-39-3 0-8 19-5-5 0-24-5-5-24 60-1-21-7-17 3-3-3-30-7-4-8 29-7-30-13 30-10-40-5 5-8 28-9-15 4-7-4-3-6-33-34-24 10-30-10 4 7-20 0-4-5 2-2-5 20-60 7-10 10-30 0-10 13-30 14-47 6-6 4-14 6-6 7-20 7-7 60-123 68-69 10-3 17 0 5 5 60 120 10 43 6 14 0 10 7 13 3 23 7 14 3 23 7 13 3 24 7 13 3 23 7 14 0 10 13 43 0 13 20 70-3 7 7 7-5 8-5-18-4 0 4 30 3 3 0 23 3 4-1 11-5-18-4 0 4 27-4 0-6-14-12-35 0 37-8-22-4 0 4 7 0 30 3 10-27-20 4 10 0 30 3 3-2 9-43-40-33 26-20 10z"/>
<path fill="#29c3aa" d="M2130 2342l-3 0-5-9 0-33-5-12-15 9-32 41-5-1 0-30-5-15-15 25-10 6-5-45-5 5-10 34-8 15-5-5 0-24-5-5-5 19-5 8-2-2 0-16-3-4-2-15-10 24-5-5 0-20-5-5-10 30-5-29-3-3 3-3-7-20-3 0-7 26-5 2-5-25-6-13 3-4-3-3 0-10-7-3-8 31-5-5 0-6-20-14 13-40-12-8-8 5 7-20 0-7-7 0 10-26-3-7 13-30 10-30 0-10 13-30 14-47 6-6 4-14 6-6 7-20 7-7 60-123 68-69 10-3 17 0 5 5 60 120 10 43 6 14 0 10 7 13 3 23 7 14 3 23 7 13 3 24 7 13 3 23 7 14 0 10 13 43 0 13 14 44 3 33 3 3-1 12-5-18-4 0 4 10-2 15-5-15-3 0 0 10 3 3-2 12-5-15-3 0 2 28-5-15-4 0 2 35-8-22-15-15 1 35 4 4-2 11-33-36-2 31 3 4 0 16-18-11z"/>
<path fill="#32c69f" d="M2093 2308l-6-53-37 50-7-47-15 19-8 21-5-1 0-27-5-8-8 25-4 0-5-35-5 5-3 16-7 4 0-24-5-8-10 27-5-12-1-18-5 5-9 28-15-65-3 0-3 7-9 25-8-39-30-16 0-10 10-27-12 8-1-8 10-23-5 1-2-8 10-20 10-30 0-10 13-30 14-47 6-6 4-14 6-6 7-20 7-7 60-123 68-69 27-3 65 125 6 20 4 23 13 37 3 23 7 14 3 23 7 13 3 24 7 13 3 23 7 14 0 10 13 43 0 13 4 4-4 10 7 3-3 7 3 30-3 0-2-9-3 17-5-18-4 0 4 30-4 0-5-15 0 30-5-12-3 0 0 17 3 3-1 18-12-15-10-6 2 45-29-32-11-8-64 43zM2248 2193l-1-5-2 5z"/>
<path fill="#3bc992" d="M2120 2285l-7-57-25 22-11 18-5-8 0-30-5-8-12 21-13 14-7 13-5 2-5-42-3 0-9 22-5-12-1-25-5 5-9 25-1-25-5-15-10 27-5-5-2-25-5 5-8 28-2-12-7-10 4-3-4-3 0-14-6-3-9 32-5-5-3-27-5-8-8 28-5 5-2-12-13-6 0-14 10-30-12-8-8 2 10-30-5 1-2-8 7-13-4-14 7-13 0-10 13-30 14-47 6-6 4-14 13-20 0-6 7-7 60-123 68-69 10-3 17 0 5 5 60 120 10 43 6 14 0 10 7 13 3 23 7 14 3 23 7 13 3 24 7 13 3 23 7 14 10 50 3 3 0 7-6 6 6 60-3 0-5-18 0 33-5-15-3 0 3 27-3 0-7-20-12-12 0 44-33-44 2 55-2 2-2-5-11-8zM2247 2162l0-10 5 5zM2253 2172l-5-2 5-2z"/>
<path fill="#49cb85" d="M2043 2255l-1-28-4-4-1-15-12 15-12 29-5-12-1-25-5 5-9 25-1-25-5-15-9 25-6-3 0-24-9-28-13 33-10-43-5 5-7 30-3 0 0-10-7-10 4-3-4-4 0-13-26-13 13-40-2-5-11 5 6-20 0-4-5 2-1-5 6-13-3-7 7-3-4-7 10-20 14-47 6-6 4-14 6-6 7-20 7-7 60-123 68-69 27-3 65 125 6 20 4 23 13 37 3 23 7 14 3 23 17 50 3 23 7 14-3 6 6 7-3 7 7 6-7 10 7 0-4 10 4 30-4 0-1-8-4 20-5-15-3 0 3 30-3 0-5-15 0 40-18-25-4 0 0 17 4 3-2 25-37-47-36 27-37 33-5-5 0-30-5-11-25 41zM2235 2150l-2-5-1 5z"/>
<path fill="#5ccc76" d="M2113 2228l-6-56-19 15-10 20-8 8-7-47-36 54-5-12 0-27-5-5-10 30-5-38-4 0-8 22-5-5 0-24-5-5-10 34-8-19 0-16-5-9-9 29-5 1-15-65-25-11-8 1 7-20 0-3-5 2-2-5 10-24-3-13 6-10 14-47 6-6 4-14 6-6 7-20 7-7 60-123 68-69 10-3 17 0 5 5 60 120 10 43 6 14 0 10 7 13 3 23 7 14 3 23 7 13 3 24 7 13 0 13 7 17 0 10-4 3 7 4-7 13 4 27-4 0-5-19-1 19 3 10-3 0-5-15-2 28-10-7 3 44-6-4-4-10-25-31-1 8 3 3 0 30 3 10-3 0-12-15zM1905 2073l-2-5-1 5zM2233 2118l-1-8 5-2 1 5zM2215 2127l-2-5-1 5z"/>
<path fill="#6fcd66" d="M2083 2195l-5-15-1-32-24 34-5-5 0-27-5-15-23 40-5-45-7 3-3 17-5 5-2-25-5-12-10 30-5-5 0-10-6 4-9 31-1-11-7-10 3-7-3-3-7-40-3 0-3 6-4 20-5 9-5-19-16-6 10-44-5-5-7 4-2-9 7-13-3-13 6-14-3-10 7-20 6-6 4-14 6-6 7-20 7-7 60-123 68-69 27-3 65 125 6 20 4 23 6 14 0 10 7 13 3 23 7 14 3 23 14 40-4 3 7 7-3 10 6 7-6 13 6 0-3 13 7 4-4 3 4 37-4 0-5-19 0 30-11-35-12-15 5 49-7-4-18-28 2 35 3 3-2 12-26-33-60 46z"/>
<path fill="#84cc56" d="M2110 2168l-5-8 0-30-5-15-15 15-22 35-5-48-6 3-19 32-6-44-15 19-7 23-5 5-8-62-7 4-8 28-9-22 4-3-4-3 0-14-6-3-9 32-8-19 0-16-3-7-30-13 10-30-4-7 4-10-4-10 7 0-3-3 3-10-3-4 6-6 4-14 6-6 7-20 7-7 60-123 68-69 10-3 17 0 5 5 60 120 10 43 6 14 0 10 7 13 3 23 7 14 0 10 13 43 0 13 4 4 0 10-7 10 0 13 3 3-1 15-5-18-4 0 4 30-7-3-15-25-2 28 4 3 0 14-7-4-15-25-2 29 4 3 0 17-4 0-11-15zM2220 2075l-2-8 5-5 2 5z"/>
<path fill="#99c946" d="M2077 2145l-7-53-23 36-5-11-2-32-8 8-15 29-5-2-4-40-3 0-3 7-4 20-5 1-10-43-13 33-10-46-5 5 0 10-8 21-5-18-14-7 14-43-12-5-7 3-1-8 6-13-3-10 7 0-4-4 4-20 6-6 7-20 7-7 60-123 68-69 27-3 65 125 6 20 4 23 6 14 0 10 7 13 3 23 10 27-3 7 7 6-4 10 7 4-3 3 0 10 3 3-3 20 3 4 3 40-3 0-7-20 0-10-11-15 0 40-15-25-7-4 0 20 3 4-1 21-12-18-10-7 3 47-5 5-8 2-3-50-5-2-42 35z"/>
<path fill="#adc638" d="M2107 2112l-5-2-5-48-22 18-15 25-5-5 0-30-5-8-23 43-7-50-8 15-5 2-2-15-5-5-10 33-8-22 0-20-4-6-3 0-8 31-5-5-7-36-23-10 3-20 7-14-2-11-8 5 3-10-3-4 6-6 7-20 7-7 60-123 68-69 10-3 17 0 5 5 60 120 30 107 3 30 3 3-3 20 7-3-5 18-2-8-3 0 0 10 3 3-2 22-20-34 2 42-3 0-19-28-1 18 3 3 0 24-2 1-8-11-5-2z"/>
<path fill="#bfc32d" d="M2073 2085l-5-5 0-30-5-12-23 44-7-50-8 15-5 1-2-15-5-8-10 20-6-23-5 5 0 10-9 21-10-50-5 5-8 32-5-18-7-4 10-43-5-5-10 0-3-3-3 3-2-8 10-30 7-7 60-123 68-69 27-3 65 125 10 43 6 14 0 10 7 13-3 10 6 3-3 14 7 0-4 6 4 27-5 8-5-11-4 0 0 13 4 3-2 25-18-31-4 0 0 13 4 3-2 29-18-32-4 0 4 50 3 3-12 9-5-5-3-47-5-2-20 17z"/>
<path fill="#d1bf27" d="M2053 2055l-1-15-4-3-1-29-14 20-5-25-3 0-8 15-5-5-2-15-13 20-9-48-5-5-10 33-5-18-20-7 14-40-9-1-1-5 60-120 68-69 27-3 65 125 10 43 6 14 4 33 3 3-3 20 3 0 2-5 1 9-5 5-6-10-4 13-5-12-3 0 3 10-1 32-19-32-3 0 3 10 2 42-13-20-37 30-7-53-31 28z"/>
<path fill="#e0bc2b" d="M2137 2025l-2-15-3-3 0-30-5-9-14 17-33 27-5-12 0-30-5-8-23 43-7-27-10 17-5-5 0-13-5-5-10 20-7-24-8 15-5 2-8-48-27-7 13-23-3-7 47-93 68-69 10-3 17 0 5 5 60 120 13 47-3 13 6-3-3 10 3 23-3 0-5-12-2 9 4 10-4 0-5-12 0 20-8-15-3 0 3 7 2 41-19-31-6-4 3 7 3 43z"/>
<path fill="#eeba34" d="M2107 1988l-5-5 0-30-4-3-1-15-29 28-8 19-7-30-13 20-2-19-5-5-10 20-5-25-6 4-9 15-1-15-5-9-10 20-5-21-7-4 0-6 10-20-17-4 14-23-4-7 34-66 68-69 10-3 17 0 5 5 60 120 6 40 4 3-2 15-2-5-6-3 3 3-2 12-5-12-3 0 10 50-7-3-15-32-1 29 3 3 0 17-3 0-4-10-8-9z"/>
<path fill="#fabb3d" d="M2130 1965l-7-53-36 33-5-12-2-18-18 18-9 15-1-18-5-8-10 20-7-27-13 23-5-25-4 0-8 19-5-9 0-13-10-3 13-24-16-6 13-20-7-4 24-46 68-69 10-3 17 0 5 5 60 120 3 23 3 4-1 5-7-10-3 10-7-14 2 19-10-7 6 23 0 17 4 3-2 9-18-35-4 0 4 50z"/>
<path fill="#fec239" d="M2113 1922l-5-5 0-17-5-8-23 23-7-30-18 18-5 12-5-5-2-18-13 20-5-25-3 0-7 13-5 2-2-15-10-7 14-23-17-4 10-20-3-6 10-20 68-69 10-3 17 0 5 5 50 100 0 13 3 4-2 11-5-11-3 0 2 15-5-9-4 0 4 30 3 4-2 11-5-8-3 0 3 17-3 0-8-19z"/>
<path fill="#feca33" d="M2107 1888l-5-11-2-19-23 24-5-5 0-17-5-8-15 15-9 18-6-27-14 20-1-15-4-6-6-4 10-23-14-3 10-20 0-7 62-62 10-3 17 0 5 5 36 73 0 14 4 3-2 8-5-11-3 0 6 46-3 0-5-11 0 20-10-17z"/>
<path fill="#fbd32e" d="M2100 1855l-7-30-23 23-5-11-2-19-18 19-8 18-2-18-3-7-7-3 10-20 0-4-7-3 10-10-3-3 45-49 10-3 17 0 5 5 23 47 0 10 3 3-1 12-5-12-4 0 4 27 3 3 0 17-3 0-9-15z"/>
<path fill="#f7dc2a" d="M2097 1822l-5-5 0-17-5-8-24 23-6-27-14 14-5-2 10-10-3-3 20-24-3-3 10-7-4-3 12-12 27-3 15 25 10 57-4 0-8-19z"/>
<path fill="#f5e526" d="M2090 1788l-5-8 0-17-7-3 10-10-3-3 12-12 10 0 15 25 3 23-3 0-9-15z"/></g></g>
<line x1="72.5" y1="188" x2="72.5" y2="87" stroke="#8e8e8e" stroke-width="1.1" /><line x1="72.5" y1="188" x2="156.1" y2="329.3" stroke="#8e8e8e" stroke-width="1.1" /><line x1="156.1" y1="329.3" x2="386.9" y2="278.1" stroke="#8e8e8e" stroke-width="1.1" /><line x1="72.5" y1="188" x2="70.5" y2="184.6" stroke="#8e8e8e" stroke-width="1" /><line x1="72.5" y1="141.6" x2="70.5" y2="138.1" stroke="#8e8e8e" stroke-width="1" /><line x1="72.5" y1="95.1" x2="70.5" y2="91.7" stroke="#8e8e8e" stroke-width="1" /><line x1="156.1" y1="329.3" x2="152.2" y2="330.2" stroke="#8e8e8e" stroke-width="1" /><line x1="142.2" y1="305.8" x2="138.3" y2="306.6" stroke="#8e8e8e" stroke-width="1" /><line x1="128.2" y1="282.2" x2="124.3" y2="283.1" stroke="#8e8e8e" stroke-width="1" /><line x1="114.3" y1="258.6" x2="110.4" y2="259.5" stroke="#8e8e8e" stroke-width="1" /><line x1="100.4" y1="235.1" x2="96.5" y2="236" stroke="#8e8e8e" stroke-width="1" /><line x1="86.4" y1="211.6" x2="82.5" y2="212.4" stroke="#8e8e8e" stroke-width="1" /><line x1="72.5" y1="188" x2="68.6" y2="188.9" stroke="#8e8e8e" stroke-width="1" /><line x1="194.6" y1="320.8" x2="196.9" y2="324.6" stroke="#8e8e8e" stroke-width="1" /><line x1="258.7" y1="306.5" x2="261" y2="310.4" stroke="#8e8e8e" stroke-width="1" /><line x1="322.8" y1="292.3" x2="325.1" y2="296.2" stroke="#8e8e8e" stroke-width="1" /><line x1="386.9" y1="278.1" x2="389.2" y2="282" stroke="#8e8e8e" stroke-width="1" />
<text x="66.5" y="184.4" font-size="13.3" text-anchor="end" font-weight="bold" font-style="normal" fill="#222" >0</text><text x="66.5" y="138" font-size="13.3" text-anchor="end" font-weight="bold" font-style="normal" fill="#222" >0.1</text><text x="66.5" y="91.5" font-size="13.3" text-anchor="end" font-weight="bold" font-style="normal" fill="#222" >0.2</text><text x="51.7" y="202.1" font-size="13.3" text-anchor="middle" font-weight="bold" font-style="normal" fill="#222" >550</text><text x="65.4" y="225.7" font-size="13.3" text-anchor="middle" font-weight="bold" font-style="normal" fill="#222" >500</text><text x="79.2" y="249.4" font-size="13.3" text-anchor="middle" font-weight="bold" font-style="normal" fill="#222" >450</text><text x="92.9" y="273" font-size="13.3" text-anchor="middle" font-weight="bold" font-style="normal" fill="#222" >400</text><text x="106.6" y="296.7" font-size="13.3" text-anchor="middle" font-weight="bold" font-style="normal" fill="#222" >350</text><text x="120.4" y="320.3" font-size="13.3" text-anchor="middle" font-weight="bold" font-style="normal" fill="#222" >300</text><text x="134.1" y="344" font-size="13.3" text-anchor="middle" font-weight="bold" font-style="normal" fill="#222" >250</text><text x="210.9" y="342.1" font-size="13.3" text-anchor="middle" font-weight="bold" font-style="normal" fill="#222" >250</text><text x="275" y="327.8" font-size="13.3" text-anchor="middle" font-weight="bold" font-style="normal" fill="#222" >300</text><text x="339.1" y="313.6" font-size="13.3" text-anchor="middle" font-weight="bold" font-style="normal" fill="#222" >350</text><text x="403.2" y="299.4" font-size="13.3" text-anchor="middle" font-weight="bold" font-style="normal" fill="#222" >400</text><text x="62.2" y="330.6" font-size="14.6" text-anchor="middle" font-weight="bold" font-style="normal" fill="#222" >Em. (nm)</text><text x="284.9" y="353.4" font-size="14.6" text-anchor="middle" font-weight="bold" font-style="normal" fill="#222" >Ex. (nm)</text><text x="229.9" y="29.1" font-size="13.5" text-anchor="middle" font-weight="normal" font-style="normal" fill="#333" class="n">Component 1</text><text x="39.4" y="35.6" font-size="18" text-anchor="middle" font-weight="bold" font-style="normal" fill="#222" >(a)</text>
<defs><linearGradient id="cba" x1="0" y1="0" x2="0" y2="1"><stop offset="0.0000" stop-color="#f9fb15"/><stop offset="0.0312" stop-color="#f6ef20"/><stop offset="0.0625" stop-color="#f5e327"/><stop offset="0.0938" stop-color="#f9d62d"/><stop offset="0.1250" stop-color="#feca33"/><stop offset="0.1562" stop-color="#febe3c"/><stop offset="0.1875" stop-color="#f1ba37"/><stop offset="0.2188" stop-color="#debc2a"/><stop offset="0.2500" stop-color="#c8c129"/><stop offset="0.2812" stop-color="#afc637"/><stop offset="0.3125" stop-color="#94ca4a"/><stop offset="0.3438" stop-color="#77cc60"/><stop offset="0.3750" stop-color="#5ccc76"/><stop offset="0.4062" stop-color="#44ca8a"/><stop offset="0.4375" stop-color="#34c79c"/><stop offset="0.4688" stop-color="#28c2ab"/><stop offset="0.5000" stop-color="#12beb9"/><stop offset="0.5312" stop-color="#01b9c6"/><stop offset="0.5625" stop-color="#0cb3d3"/><stop offset="0.5938" stop-color="#1aacdd"/><stop offset="0.6250" stop-color="#21a3e3"/><stop offset="0.6562" stop-color="#269ae9"/><stop offset="0.6875" stop-color="#2c90f0"/><stop offset="0.7188" stop-color="#2e85f8"/><stop offset="0.7500" stop-color="#347afd"/><stop offset="0.7812" stop-color="#3f6efe"/><stop offset="0.8125" stop-color="#4562fc"/><stop offset="0.8438" stop-color="#4757f7"/><stop offset="0.8750" stop-color="#484cef"/><stop offset="0.9062" stop-color="#4741e5"/><stop offset="0.9375" stop-color="#4536d5"/><stop offset="0.9688" stop-color="#422ebf"/><stop offset="1.0000" stop-color="#3e26a8"/></linearGradient></defs>
<rect x="419.2" y="34.4" width="18.4" height="294.3" fill="url(#cba)" stroke="#8a8a6a" stroke-width="0.6"/>
<line x1="435.4" y1="328.7" x2="437.6" y2="328.7" stroke="#666" stroke-width="0.7" />
<text x="442.6" y="333.2" font-size="12.1" text-anchor="start" font-weight="bold" font-style="normal" fill="#222" >0</text>
<line x1="435.4" y1="263.8" x2="437.6" y2="263.8" stroke="#666" stroke-width="0.7" />
<text x="442.6" y="268.3" font-size="12.1" text-anchor="start" font-weight="bold" font-style="normal" fill="#222" >0.05</text>
<line x1="435.4" y1="198.8" x2="437.6" y2="198.8" stroke="#666" stroke-width="0.7" />
<text x="442.6" y="203.3" font-size="12.1" text-anchor="start" font-weight="bold" font-style="normal" fill="#222" >0.1</text>
<line x1="435.4" y1="133.9" x2="437.6" y2="133.9" stroke="#666" stroke-width="0.7" />
<text x="442.6" y="138.4" font-size="12.1" text-anchor="start" font-weight="bold" font-style="normal" fill="#222" >0.15</text>
<line x1="435.4" y1="68.9" x2="437.6" y2="68.9" stroke="#666" stroke-width="0.7" />
<text x="442.6" y="73.4" font-size="12.1" text-anchor="start" font-weight="bold" font-style="normal" fill="#222" >0.2</text>
<g stroke-width="1"><line x1="111" y1="548.7" x2="111" y2="446.7" stroke="#ebebeb" stroke-width="1" /><line x1="111" y1="548.7" x2="194.6" y2="690" stroke="#ebebeb" stroke-width="1" /><line x1="175.1" y1="534.4" x2="175.1" y2="432.4" stroke="#ebebeb" stroke-width="1" /><line x1="175.1" y1="534.4" x2="258.7" y2="675.7" stroke="#ebebeb" stroke-width="1" /><line x1="239.2" y1="520.2" x2="239.2" y2="418.2" stroke="#ebebeb" stroke-width="1" /><line x1="239.2" y1="520.2" x2="322.8" y2="661.5" stroke="#ebebeb" stroke-width="1" /><line x1="303.3" y1="506" x2="303.3" y2="404" stroke="#ebebeb" stroke-width="1" /><line x1="386.9" y1="647.3" x2="386.9" y2="545.3" stroke="#ebebeb" stroke-width="1" /><line x1="156.1" y1="698.5" x2="386.9" y2="647.3" stroke="#ebebeb" stroke-width="1" /><line x1="373" y1="623.8" x2="373" y2="521.8" stroke="#ebebeb" stroke-width="1" /><line x1="142.2" y1="675" x2="373" y2="623.8" stroke="#ebebeb" stroke-width="1" /><line x1="359" y1="600.2" x2="359" y2="498.2" stroke="#ebebeb" stroke-width="1" /><line x1="128.2" y1="651.4" x2="359" y2="600.2" stroke="#ebebeb" stroke-width="1" /><line x1="345.1" y1="576.7" x2="345.1" y2="474.7" stroke="#ebebeb" stroke-width="1" /><line x1="114.3" y1="627.9" x2="345.1" y2="576.7" stroke="#ebebeb" stroke-width="1" /><line x1="331.2" y1="553.1" x2="331.2" y2="451.1" stroke="#ebebeb" stroke-width="1" /><line x1="100.4" y1="604.3" x2="331.2" y2="553.1" stroke="#ebebeb" stroke-width="1" /><line x1="317.2" y1="529.6" x2="317.2" y2="427.6" stroke="#ebebeb" stroke-width="1" /><line x1="86.4" y1="580.8" x2="317.2" y2="529.6" stroke="#ebebeb" stroke-width="1" /><line x1="72.5" y1="557.2" x2="303.3" y2="506" stroke="#ebebeb" stroke-width="1" /><line x1="303.3" y1="506" x2="386.9" y2="647.3" stroke="#ebebeb" stroke-width="1" /><line x1="72.5" y1="528.5" x2="303.3" y2="477.3" stroke="#ebebeb" stroke-width="1" /><line x1="303.3" y1="477.3" x2="386.9" y2="618.6" stroke="#ebebeb" stroke-width="1" /><line x1="72.5" y1="499.9" x2="303.3" y2="448.7" stroke="#ebebeb" stroke-width="1" /><line x1="303.3" y1="448.7" x2="386.9" y2="590" stroke="#ebebeb" stroke-width="1" /><line x1="72.5" y1="471.2" x2="303.3" y2="420" stroke="#ebebeb" stroke-width="1" /><line x1="303.3" y1="420" x2="386.9" y2="561.3" stroke="#ebebeb" stroke-width="1" /></g>
<g><polyline fill="none" stroke="#9997f1" stroke-width="0.6" points="120.7,638.7 120.4,636.1 120.1,634 120.2,631.9 120.2,629.7 120.6,627.5 121.1,625.3 121.4,623.1 122,621.3 122.7,619.6 125.6,618.9 128.3,619.6 131.7,620.5 133.9,621.8 136.3,623.3 138.7,624.6 141.1,626.2 143.4,627.8 146.8,629.2 149.2,630.5 151.2,631.4 154.9,632.7 157.9,632.9 161,633.2 162.9,631.5 164.9,630 166.6,628 167.7,626.7 168.9,624.5 169.9,623 171.3,621.2 172.8,619.1 173.8,617.8 175.5,616.1 177.4,614.4 179.2,612.6 180.4,611.1 181.8,609.6 185.2,607.9 187.7,607.2 190.8,606.6 194.3,606.2 197.3,606.4 200.6,607.1 203.9,608 206.2,608.5 209.5,609.7 211.4,610.6 214.4,612 217.1,613.6 219.4,615.2 221.9,616.8 223.9,618.4 225.9,620.4 228.7,622.7 230.4,624.5 232.7,627.2 234.3,628.9 236.7,631.6 237.5,632.6 239,635.3 240.6,638.2 241.9,641.1 243,644.1 243.5,646.1 243.6,648.2 243.4,650.4 243.4,652.5 242.5,654.8"/>
<polyline fill="none" stroke="#9997f1" stroke-width="0.6" points="233.7,660.6 231.5,661.7 227.9,663 224.2,664 220.3,664.9 216.4,665.6 212.6,665.7 209.2,665.7 206.4,665.8 202.2,666.2 199.4,666.3 195.8,666.3 192,666.1 188.9,665.7 185.8,665.3 182.8,665.2 179.8,665 177.6,666.2 174.5,667.8 173.5,669.1 171.7,671 169.7,672.5 167.8,674.2 166,675.9 163.9,677.4 161.7,678.5 157.9,679.4 154.8,679.1 151.4,678.3 148.3,678 145.8,677.3 142.9,675.9"/>
<polyline fill="none" stroke="#97abfd" stroke-width="0.6" points="128.4,651.6 127.4,649.4 126.2,646.5 125.6,644.4 124.9,641.5 124.9,639.4 125.2,637.2 125.7,634.9 126.2,633.3 127,631.4 128.2,629.3 130.5,628.3 133.4,628.9 136.3,629.4 139,630.4 141.2,631.6 143.8,633 146.4,634.6 148.9,636.2 151.6,637.7 154,639.3 156,641 158.3,643.3 160.4,645.3 163.2,646.7 165.6,647.4 168,649 168.9,651.4 169.3,654 169,656.2 168.6,658.4 169,660.5 169.2,662.6 168.9,664.8 167.9,666.9 167.1,668.4 166.2,670.7 165.1,672.1 163.2,673.7 159.7,675.2 157.4,676.1 154.4,676.1 151.4,675.8 148,675.1 145.7,674.2 143.1,672.6 141,670.9 138.5,668.3"/>
<polyline fill="none" stroke="#97abfd" stroke-width="0.6" points="231.3,631.7 233.4,634.5 235,637.3 236.4,640.2 237.3,642.1 238.3,645.1 238.8,647.1 238.9,649.6 238.5,651.5 237.2,653.9 235.8,655.2 233.8,656.8 230.9,658.2 228.5,659.1 224.8,660.2 221.1,661.2 217.2,662 213.2,662.6 210.4,662.8 206.3,662.9 203.2,662.9 200.2,662.7 197.1,662.4 193.8,661.7 191,660.9 188.6,660.2 185.7,658.9 183.2,657.3 180.2,655.9 177.8,654.2 175.6,652.6 173.8,650.9 171.7,648.2 171.6,646 173,643.7 173.8,642.3 173.8,640.1 173.4,637.1 173.6,635 174.1,633.4 174.9,631.5 176,629.2 177,627.8 178.6,626.1 180.5,624.5 182.4,622.8 184.2,621 185.9,619.4 188,617.9 190.6,617.1 194.4,616.1 198.4,615.5 201.1,615.1 204.1,615.4 207.3,615.9 210.8,616.9 213.3,617.6 216.2,618.6 218.4,619.7 220.9,621.3 223.1,623.1 225.7,625.5 227.3,627.3 229.6,630 231.3,631.7"/>
<polyline fill="none" stroke="#8bbff8" stroke-width="0.6" points="159.1,648.8 161.1,651.6 162.6,654.4 163.5,657.1 164.3,659.4 164.2,661.5 164.2,663.7 164.4,665.9 164,668 162.9,670.4 161.6,671.7 158.6,673.3 156.3,674.4 153.2,674 149.9,673.3 147.9,672.6 144.9,671.1 142.5,669.5 140.7,667.8 138.2,665.2 136.2,662.4 134.9,660.6 133.2,657.8 131.6,654.9 131,652.9 130.1,649.9 129.4,647.9 128.5,644.9 128.3,642.9 128.2,640.7 128.7,638.5 129.6,636.6 130.8,634.8 131.8,632.9 135.1,633.5 138.2,634 141,634.7 143.8,636.1 146.2,637.6 148.5,639.5 150.4,641.2 152.7,643.8 154.5,645.6 156.9,647.2 159.1,648.8"/>
<polyline fill="none" stroke="#8bbff8" stroke-width="0.6" points="229.2,633.3 231.2,636 232.7,638.9 233.5,640.8 234.7,643.8 235,645.8 235.1,648.2 234.6,650.2 233.3,652.4 232,654 229.7,655.5 227.2,656.8 224.8,657.7 221.1,658.8 217.2,659.6 213.3,660.3 210.4,660.3 207.4,660.2 204.4,660 201.3,659.6 198,659 194.6,658.1 192.6,657.2 190,655.8 187.4,654.3 185.3,652.2 183,649.9 181,647.2 179.7,645.3 180,643.3 180.4,641.6 180.8,639.7 180.7,637.1 180.7,634.7 181.2,633.1 182.3,630.9 183.3,629.3 185.1,627.3 186.9,625.6 188.7,624.1 190.9,622.6 193.4,621.9 197.2,620.8 201.2,620.3 203.9,619.9 206.9,620.1 210,620.5 213.5,621.4 215.7,622.4 218.5,623.9 220.9,625.5 222.8,627.2 225.4,629.9 227.4,631.5 229.2,633.3"/>
<polyline fill="none" stroke="#82d0ed" stroke-width="0.6" points="153.9,647.8 156.5,650.5 158,653.3 159.5,656.2 160.8,659.1 161.4,661.1 161.8,664.1 161.7,666.3 161.2,667.9 159.5,670 157.5,671.4 155.3,672.6 152,671.9 149.6,671.2 146.4,669.8 144,668.2 142,666.5 140.2,664.7 138.1,662 136.1,659.2 134.3,656.4 133.2,653.5 132.8,651.4 132,648.4 131.5,646.4 131.2,644.1 131.3,641.9 131.6,640 132.7,637.6 133.7,636.2 136.9,636.6 139.7,637.1 142,637.7 144.5,639.3 146.8,640.9 149.5,643.5 151.2,645.2 153.5,647.5"/>
<polyline fill="none" stroke="#82d0ed" stroke-width="0.6" points="227.4,634.7 228.9,637.6 229.9,639.5 230.9,642.5 231.5,644.5 231.4,646.8 231.1,648.8 230,651.2 228.4,652.6 226.1,654.2 223.5,655.4 219.8,656.6 215.9,657.4 212,658.1 208.9,657.8 205.8,657.4 202.6,656.9 199.1,655.9 197.2,655.2 194.2,653.8 191.8,652.2 190,650.5 187.5,647.8 185.5,645.1 185.2,642.3 185.7,640.7 186.6,638.4 186.8,636.3 187.2,634.1 187.9,632.1 189,630.5 190.2,628.7 191.9,626.7 194.1,625.5 197.8,624.4 201.8,623.7 205.9,623.2 209.1,623.9 211.4,624.4 214.3,625.3 216.6,626.5 219.1,628.4 221.7,630.7 224.2,632.3 226.4,633.9"/>
<polyline fill="none" stroke="#7cdbd8" stroke-width="0.6" points="153.8,650 155.7,652.8 157.3,655.6 158.2,657.8 159.2,660.5 159.4,662.6 159.5,665 158.9,667 157.2,668.5 155.2,670 152.5,670.3 149.2,669.1 146.6,667.8 144.2,666 142.2,664.3 140.3,662 138.5,659.8 136.7,657 135.3,654.1 135,652 134.9,649.9 134.2,646.9 133.9,644.8 134.1,642.6 134.7,640.4 135.3,638.8 138.4,639.6 140.4,640.2 144.1,641.5 146.2,643.1 148.1,644.9 150.3,647 152.9,649.1"/>
<polyline fill="none" stroke="#7cdbd8" stroke-width="0.6" points="223.2,634.6 225.4,637.3 226.8,640.2 227.4,642.6 228.1,645.2 227.7,647.4 226.9,649 225.3,651.2 223.3,652.7 220.8,653.5 217.2,654.7 213.2,655.3 209.9,655.7 207,655.2 203.9,654.2 201.4,653.3 198.2,652 195.9,650.2 194,648.5 192,646.3 190.2,644 189.9,642 190.9,639.7 191.6,638.4 192.5,636.1 192.9,633.8 193.5,631.8 194.5,630.3 197.5,628.7 199.9,628 202.6,627.4 206.7,627.1 209.8,627.5 212.3,628.5 215.3,630 218,631.5 220.1,632.6 222.4,634"/>
<polyline fill="none" stroke="#9ae2bc" stroke-width="0.6" points="152.9,651.2 154.1,653.4 155.4,656 156.5,659 157.2,661.2 157.2,663.7 156.4,665.4 155,667.2 153.1,668.9 150.2,667.8 147.6,666.3 145.3,664.7 143.4,662.9 141.1,660.3 139.1,657.5 137.9,655.7 137.2,653.7 137.1,651.6 137.1,649.3 136.7,646.3 136.5,644.2 137,642 138.8,642.4 141.3,643.2 144,644.7 146.5,646.3 148.8,647.9 150.9,649.6 152.9,651.2"/>
<polyline fill="none" stroke="#9ae2bc" stroke-width="0.6" points="221.4,636.1 222.8,639 223.8,641.3 223.9,643.9 223.9,646.2 223.1,647.5 221.5,649.7 219.2,650.6 215.7,652.1 211.6,652.6 208.5,652.8 205.3,651.7 202.9,650.8 200.8,649.2 198.1,647 196.3,644.8 194.2,642.1 195.2,639.7 196,638.4 197.5,636 197.9,634.4 200.8,633.2 203.8,632 206.7,632 210.4,632.1 213,632.9 216.5,634 218.4,634.7 221.4,636.1"/>
<polyline fill="none" stroke="#cae197" stroke-width="0.6" points="150.1,650.8 152.2,653.6 153.6,656.4 154.5,659 154.8,661.5 154,663.1 153,665.1 151.8,666.8 149.7,665.6 147.4,664.1 144.6,661.6 143,659.8 141,657.1 139.1,654.3 139.1,652.2 139.3,650 139.3,647.9 139.2,645.4 141.3,646.5 143.8,647.9 147.3,649.3 149.2,650.1"/>
<polyline fill="none" stroke="#cae197" stroke-width="0.6" points="217.2,637 218,639 219.1,641.9 219,644 218,646.2 216,647.7 213.7,648.8 210.1,649.2 206.7,649.2 204.2,647.3 202,645.7 200.5,643.9 198.4,641.2 199.4,639.3 201.3,637.7 204.4,636.6 207.5,636 210.4,635.8 213.4,635.7 216.8,636.9"/>
<polyline fill="none" stroke="#f3d98d" stroke-width="0.6" points="147.2,651.5 149.6,654.1 150.9,657 151.1,659.1 151.2,661.2 150.6,663.5 148.4,662.9 146.6,661.2 144.1,658.5 142.9,656.7 140.9,653.9 141.1,651.7 141.4,649.5 143.3,649.9 145.5,650.8"/>
<polyline fill="none" stroke="#fce78c" stroke-width="0.6" points="145.6,652.9 146.8,655.8 147.6,657.8 146.9,659 144.7,656.3 142.8,653.5 143.9,652.2"/></g>
<g stroke="none"><g transform="scale(.1)"><path fill="#3f29b1" d="M1563 6987l-5-2-10-16 0-7-10-20-36-60-4-13-23-40-17-50-6-10-14-60-3-4 0-13-13-43 0-14-17-56-3-27-7-13-3-24-17-46-7-34-16-36 0-7-10-17 0-6-30-60-25-2-4 3-36-23-50-3-24-14-35-35-50-66-33-60-27-37-23-47-10-10-10-23-10-10-3-10-10-10-24-40-13-13-3-10-10-10-30-47-10-23-10-10-7-17-23-33-10-24-24-33-20-40-10-10-10-23-23-34-10-23 22-8 46-7 30-10 14 0 3-3 43-7 30-10 60-10 14-7 46-6 17-7 13 0 30-10 30-3 60-17 47-7 13-6 30-4 4-3 26-3 60-17 17 0 43-13 47-7 13-7 77-13 13-7 30-3 60-17 14 0 3-3 13 0 17-7 43-6 17-7 30-3 13-7 77-13 30-10 60-10 30-10 30-4 30-10 60-10 30-10 30-3 60-17 30-3 3-3 57-10 17-7 13 0 17-7 13 0 17-6 13 0 17-7 13 0 17-7 43-6 17-7 30-3 13-7 77-13 13-7 47-7 30-10 60-10 30-10 30-3 16-7 14 0 13-6 47-7 3-3 27-4 46-13 419 708-5 5-10 0-4 4-13 0-60 16-30 4-5 5 23 33 4 7-2 5-123 26 1 9 7 6 17 34-125 28 5 15 20 30-5 5-14 0-30 10-13 0-3 3-57 10-5 5 17 24 8 21-37 7-16 7-14 0-16 6-44 7 22 35 5 15-43 7-4 3-76 17 11 28 14 17-5 5-14 0-3 3-13 0-17 7-40 6-3 4-30 3-2 8 3 7 24 33-82 19-3 3-44 7 25 48-11 5-64 10-3 3-40 4-5 8 10 20 10 10 3 7-1 5-60-17-22-22-38-48 1 18 20 60-1 9-62-95-33-40-29-42-1 12 3 3 0 23 3 4 4 53 3 3 0 24 3 3 0 23 4 4 0 26 3 4 3 40-18 1-3-3-37-3-3-4-65 9 26 133-65 15-61 25 0 7 26 53-1 5-60 20-34 7-23 10-10 0 28 51-5 5-36 7-14 7-70 13-1 8 26 44-8 5-43 6-30 10-60 10-14 7-76 13-14 7-46 7-4 3-10 0-30 10-16 0-17 7-13 0z"/>
<path fill="#422fc1" d="M1650 6877l-7 0-6-10-10 3-7-10-13 4-7-10-10 3-7-10-13 7-7-14-10 4-6-10-14 6-6-13-10 7-14-24-10 7-10-13-15 8-23-63 0-14-3-3-7-40-13-43 0-14-17-56 0-14-10-26-10-47-10-23 0-10-7-14 0-10-16-36 0-7-10-17 0-6-30-60-25-2-4 3-36-23-50-3-24-14-35-35-30-43-13-13-13-27-10-10-7-17-23-33 13-17-23-36-7-17-10-10-10-23-27-37 10-10-6-13 10-7-10-13 10-7-4-3 2-5 20-7-2-8 12-5-2-5 15-9 20-6 44-4 3-3 7 0 6 7 4-4 20 0 6 7 24 0 6 7 14 0 10 13 13 0 7 7 13 0 10 16 13 0 14 17 10 0 25 35 11 25 5-5 7-30 20-57 0-10 10-26 3-24 7-13 13-63 30-67 7-43 7-17 3-33 3-4 7-50 5-5 12 35 6 10 7 27 7 10 10 30 0 10 10 20 35 112 30-7 0-10 10 0 10-7 6 0 5-8 9-5 30-7 8-5-2-5 40-6 17-7 13 0 17-7 27 4 16-7 20 0 4-3 20 0 3-4 7 0 6 7 4-3 53 3 3 7 14 0 6 6 14 0 3 7 13 0 14 17 10 0 5-5 13-44 13-26 24-74 65-41 36 10 7 6 17 4 11 8 4 13 46 90 0 7 27 53 113 340 0 10 17 44 0 10 10 23 3 20 20 27 10 20 9 1 15 15 3 10 17 20 40 77 23 37-5 1-3-3-2 5 13 27-11 1-10-3-22-22-38-48 1 18 20 60-1 9-62-95-33-40-29-42-1 12 3 3 0 23 3 4 4 53 3 3 0 24 3 3 0 23 4 4 0 26 3 4 3 40-18 1-3-3-37-3-3-4-65 9 26 133-65 15-61 25 0 7 26 53-1 5-10 3-10-16-10 6-10 0-14 7-10-13-23 10-7-14-13 4-2-5-8-5-20 10-7-14-23 10-7-16-33 13-3 0-10-13-10 6-10 0-40 14-10-14-4 4-30 3 0 17-46 3 3 17-23 0 0 13-20 3 8 22-10 3 3 4-1 5-9 1 2 12-12-2 7 10-13 4 6 10-13 3 3 7-10 6 4 7-5 5-17 0 0 13-27 4z"/>
<path fill="#4435d1" d="M1623 6797l-6-17-24 10-6-10-14 7-6-13-24 13-6-20-20 13-7 0-7-13-10 10-6-20-10 10-5-2-9-28-13 13-5-1 0-14-3-3-7-40-13-43 0-14-17-56-3-27-7-13-3-24-17-46-7-34-16-36 0-7-10-17 0-6-32-62-23 0-4 3-36-23-50-3-24-14-31-31 13-20-20-24 10-13-13-17 10-13-10-13 13-10-10-10-10-24-30-43 10-13-17-24-23-46-23-34 0-3 10-7-7-6 0-7 10-7-3-6 5-2 5-5-4-3 10-7-3-7 18-8 20 0 7 7 23-4 7 7 10 0 7 7 13 0 32 25 56 96 15 5 12 19 12 8 48-152 0-10 10-26 3-24 7-13 13-63 30-67 7-43 7-17 3-33 3-4 7-50 5-5 12 35 6 10 7 27 7 10 10 30 0 10 10 20 13 40 0 10 30 83 10 54 17 53 0 17 3 3 0 13 3 4 4 30 3 3 3 30 4 3 0 14 3 3 20 113 5 2 5-5-3-7 5-1 5-5-4-4 10-6-6-14 10-6-4-7 10-7-3-6 7-4 3-3-3-3 10-7-4-7 10-6 0-7 10-7-3-3 10-7-3-6 23-10-7-7-10-23-5-5-10 3-18-25 0-3 10-7-3-7 10-3-7-17 10-6-7-7-16-33-5-5-10 3-12-15 2-5 8-2-7-16 10-7-10-17 10-6-3-7 10-3-3-7 21-8-1-5 11-9 14 0 3-3 10 0 30-10 13 0 17-7 17 0 20-6 20 0 3 3 27 0 6 7 30 3 17 20 7 0 11 12 14 26 5 2 35-68 50-144 65-41 36 10 7 6 17 4 11 8 4 13 63 127 0 7 10 16 30 84 0 10 83 246 0 10 17 44 0 10 10 23 0 10 17 50 20 33 11 5 9 12 10 20 0 3-5-1-2 5 27 43 10 20 0 7 6 6 17 37-2 2-18-19-38-48 1 18 20 60-1 9-62-95-33-40-29-42-1 12 3 3 0 23 3 4 4 53 3 3 0 24 3 3 0 23 4 4 0 26 3 4 3 40-18 1-3-3-37-3-3-4-65 9 13 76 3 4 7 43 3 3-1 9-64 13-30 13-16 4-10 6-9-1-5-22-30 10-33 17-7-20-36 16-7-16-23 10-10-17-24 13-6-16-37 20-7-24-20 10-26 7-17 10-63 3-2 5 3 4 2 15-23-4 3 14-20 0-3-4 5 15-14 4 4 13-10 0 3 13-12 2-10-3 0 20-20-4 0 14-20 0-1 5 3 6-5 5-17 0-1 5 3 7z"/>
<path fill="#463cde" d="M1563 6747l-6-23-24 16-10-20-10 14-5-19-11 9-10-17-24 27-6-24-5 9-10 6-17-73-3-3 0-14-17-56-3-27-7-13-3-24-17-46-7-34-16-36 0-7-10-17 0-6-30-60-25-2-4 3-36-23-50-3-29-19 14-20-14-16 10-14 0-3-10-7 14-16-17-14 10-13-7-10 10-10-10-13 14-10-4-4 17-23-7-7-16-33-5-5-14 7-8-12 10-13-7-7 0-7 10-10-16-20-10-23-34-53 10-7-1-8 10 0 16 23 14 0 28 45 3 10-10 3 4 7 15 5 10 13 13 0 7 7 10 0 16 17 12 1 2 9-12 1 17 27-10 3 5 9 23 3 5-5 53-163 0-10 7-14 13-60 7-13 13-63 30-67 7-43 7-17 3-33 3-4 7-50 5-5 12 35 6 10 7 27 7 10 10 30 0 10 10 20 13 40 0 10 30 83 10 54 17 53 6 50 4 3 0 14 3 3 0 13 7 20 0 14 3 3 3 30 4 3 0 14 3 3 10 63 7 20 0 14 5 8 18-8-3-7 5-2 5-5-4-3 14-10-4-3 7-7 0-7 10-6-3-4 10-6-4-7 10-7-3-3 7-7 0-6 13-7-3-7 5-1 5-5-4-4 10-6-3-7 10-7-3-3 23-13-3-7 10-7-2-5 12-5-4-6 19-9 1-8 5-2 7-10 20-10 20-3 0-7 23-3 15-8 22-45-17 3 2 8-10 7 3 7-15 5-10 0-6-10-24 6-6-10-24 7-8-8 5-2 10-13 33-7 4-3 46-7 4 7 13 0 3 3 9-8 70-140 50-144 65-41 60 20 11 8 4 13 46 90 0 7 27 53 113 340 0 10 17 44 0 10 10 23 0 10 17 50 36 60 10 20 0 7 7 6 17 34-4 10 10 16-1 9-22-29-10-6 23 83-3 0-60-93-33-40-29-42-1 12 3 3 0 23 3 4 4 53 3 3 0 24 3 3 0 23 4 4 0 26 3 4 3 40-18 1-3-3-37-3-3-4-64 7-1 12 3 3 10 63 7 17-2 12-33 10-27 3-10 7-5-2-5-22-50 24-5-9 0-10-8-1-44 23-6-20-37 20-10-20-33 23-5-5 0-13-5-12-37 27-7-27-36 24-7-24-50 24-63 3-2 8 3 10-10 0 4 20-35-11 1 28-23-7 3 4 0 10-10-4 4 17-10 0 3 10-2 8-20-10 0 24-56 0-7-4z"/>
<path fill="#4744e8" d="M1570 6714l-7-27-23 20-5-22-15 9-7-20-23 30-5-15 0-17-2-2-8 12-5 2-2-19-5-8-10 17-6-20-12 21-7 0-6-40-17-56-3-27-7-13-3-24-17-46-7-34-16-36 0-7-10-17 0-6-30-60-25-2-4 3-36-23-50-3-5-5 13-27-17-10 14-20-9-2-8-8 10-10 0-7-7-3 10-13-3-4 3-6 7-7-7-10 10-13-10-7 10-10-3-7 13-10-10-6 10-10-3-4 8-8 54 7 11-19 37-113 0-10 13-33 0-10 7-14 0-10 10-26 3-24 7-13 13-63 30-67 7-43 7-17 3-33 3-4 7-50 7-3 10 33 6 10 77 230 10 54 17 53 0 17 3 3 0 13 3 4 0 13 4 3 0 14 3 3 0 13 3 4 0 13 4 3 0 14 3 3 0 13 3 4 0 13 4 3 0 14 3 3 0 13 3 4 0 13 4 3 0 14 3 3 0 13 3 4 0 13 4 3 0 14 3 3 5 28 5-1-2-5 17-7 3-7 10-3 12-12-3-3 10-7-7-10 12-15 18-11-3-4 16-20-3-3 7-7 0-6 11-5-1-5 11-9 17-20 10-3 8-8 0-7 10-7-3-3 10-7-3-3 10-7-4-3 9-8 10-4 6-10 20-6 9-9 43-80 7-6 10-24 6-6 0-7 30-60 7-7 0-6 17-30 13-44 13-26 24-74 65-41 36 10 7 6 23 7 55 108 0 7 17 30 0 7 23 50 17 50 0 10 27 73 0 10 56 163 0 10 17 44 0 10 10 23 0 10 17 50 10 13 0 7 6 7 10 23 7 7 7 20 16 30-1 5-5-2 13 27 0 6-10-6-8-12-2 5 13 37 10 43-3 0-60-93-33-40-29-42-1 12 3 3 3 50 4 3 0 27 3 3 7 80 3 4 0 23 3 3-1 15-17 0-20-6-20 0-3-4-64 7-1 12 3 3 5 38-63 17-37 20-7-23-36 20-10-20-60 36-5-15 0-16-5-5-34 26-5-5 0-16-5-9-36 30-7-26-23 16-7-20-37 24-10-20-36 20-44 0-3-4-2 12 4 10-12 2-10-7-2 12 4 6-5 2-9-5 4 3 1 22-25-12 7 24-2 5-25-15 4 3 1 28-23-16 2 15 3 3-5 2-8-5 6 20-5 1-10-6-10 0 0 23-50-3z"/>
<path fill="#484cef" d="M1567 6684l-5-9 0-13-5-5-12 8-5-21-23 26-5-11 0-24-5-5-24 37-5-32-3 0-8 15-5-8-2-18-13 23-7-23-12 28-6-3 0-14-17-56-3-27-7-13-3-24-17-46-7-34-16-36 0-7-10-17 0-6-30-60-25-2-4 3-36-23-45-5 13-27-2-5-8-1 13-24-1-5-15-1 13-17-10-3 10-20-10-4 13-13-6-3 13-14-3-3 10-10-10-7 13-13-3-3 10-10-4-4 12-11 23 3 15-22 37-113 0-10 13-33 0-10 7-14 0-10 10-26 3-24 7-13 13-63 30-67 7-43 7-17 3-33 3-4 7-50 7-3 10 33 6 10 77 230 10 54 17 53 0 17 3 3 0 13 3 4 4 30 3 3 3 30 4 3 0 14 3 3 0 13 3 4 0 13 7 20 0 13 3 4 17 96 12 32 8-2-3-3 18-25 18-8-3-4 10-10-3-3 13-17 27-23-4-3 10-10-3-4 7-10 10-13 26-23 7-14 10-6-3-4 15-8 5-8 16-14 17-30 33-46 10-24 40-66 0-7 54-103 50-144 65-41 36 10 7 6 23 7 55 108 0 7 17 30 0 7 23 50 17 50 0 10 27 73 0 10 56 163 0 10 17 44 0 10 10 23 0 10 17 50 10 13 0 7 6 7 0 6 24 44 3 13-7 0 17 37-2 5-8-5 7 20-4 16 7 17 0 10-3 0-47-73-33-40-29-42-1 12 3 3 3 50 4 3 0 27 3 3 7 80 3 4 0 23 3 3-1 15-17 0-20-6-20 0-3-4-64 7-1 12 3 3 0 10-8 5-47 10-20 10-5-22-5-1-60 36-7-43-63 47-7-37-36 30-7-27-23 20-5-5 0-13-5-8-24 23-6-23-24 23-10-20-23 13-7-20-23 14-5-15-5-2-7 7-15 1 4 7-2 12-7-4-28 2 7 17-14 3 4 13-10 0 3 7-2 8-21-15 3 24-10-4 0 14 3 3-1 12-7-4-13-16 0 30-20-24 0 40-20-16-2 11 3 10-23 0 0 10 3 4-1 11-24-6-13 0z"/>
<path fill="#4854f5" d="M1530 6654l-5-9 0-23-5-12-23 37-7-40-8 15-5 2-2-22-5-5-10 23-7-30-13 27-10-47-5 5-7 27-6 3-10-53-7-13-3-24-7-13 0-10-10-23 0-10-7-14-6-30-50-106-25-2-4 3-36-23-29-5 14-37-14 0 10-23-8 2-2-5 14-24-9 2-1-5 10-17-4-6 7-7-13-3 10-10 6-20 20-24-3-6 12-12 6 0 15-22 37-113 0-10 13-33 0-10 7-14 0-10 10-26 3-24 7-13 13-63 30-67 7-43 7-17 3-33 3-4 7-50 7-3 10 33 6 10 77 230 10 54 17 53 0 17 3 3 0 13 3 4 4 30 3 3 3 30 4 3 0 14 3 3 0 13 3 4 0 13 7 20 0 13 3 4 17 96 7 24 11 21 10 0 9-8-4-3 10-7-3-3 23-17-3-3 10-7-3-3 10-14-10-3 20-23-4-4 24-20 26-43 37-33 73-110 10-24 40-66 0-7 54-103 50-144 65-41 36 10 7 6 23 7 55 108 0 7 17 30 0 7 23 50 17 50 0 10 27 73 0 10 56 163 0 10 17 44 10 43 20 60 20 40-3 10 13 33-3 7 10 30-2 8-3-6-2 1 7 34-2 1-15-18-20-33-33-40-29-42-1 12 3 3 0 23 3 4 0 23 4 3 0 27 3 3 7 74-9 1-28-8 5 52-33-4-4 4-26 0-4 3-33 0-27 10-23 3-17 14-10 3-5-5-3-40-5-2-33 30-37 24-5-9 0-20-5-8-27 23-10 4-1-19-4-10-5-1-33 36-7-33-23 23-5-8-2-15-23 23-5-5-3-16-12 8-5-5-2-12-13 10-5-15-5-1-20 13-7-20-23 17-10-17-10 7-12 1 4 10-2 9-3-4-32-1 3 16-10 4 4 16-9-5-1 9-7 0 2 18-12-8 3 3 2 22-17-17-8-2 3 20-10-6 4 6 0 17-10-7 0 14 3 3-2 18-15-21-6-4 0 17 3 3-2 25-10-10-36-10 0 27-24-7-10 10-5-8-1-18z"/>
<path fill="#475cfa" d="M1553 6627l-6-53-19 21-18 32-2-18-3-4 0-20-3 0-7 14-5 1-2-25-5-8-10 23-5-11 0-17-6 3-4 14-5 5-1-15-5-9-10 27-5-5-4-27-5-11-5 8-6 30-7-3-3-27-7-13-3-24-7-13 0-10-10-23 0-10-7-14-6-30-50-106-25-2-4 3-36-23-15-2 0-10 13-36-8-2-9 5 10-30-1-5-2 5-3 0 0-7 6-10-5-1-1-5 10-17-7-3 10-17-3-3 3-4-3-6 10-14 0-6 10-10 0-7 20-23 6-14 27-80 0-10 23-66 0-10 7-14 13-60 7-13 13-63 30-67 7-43 7-17 3-33 3-4 7-50 7-3 10 33 6 10 77 230 10 54 17 53 0 17 3 3 0 13 3 4 0 13 4 3 0 14 3 3 0 13 3 4 0 13 4 3 0 14 3 3 0 13 3 4 0 13 4 3 0 14 3 3 0 13 3 4 0 13 4 3 0 14 3 3 13 77 14 26 3 17 5 5 7 0 20 10 11-8-3-7 10-10-7-10 10-10-3-3 10-10-3-4 10-10-4-3 10-13 0-4-6-3 10-13-10-4 6-13 30-33 4-10 16-17 50-67 17-30 33-46 10-24 40-66 0-7 54-103 50-144 65-41 36 10 7 6 23 7 55 108 0 7 17 30 0 7 23 50 17 50 0 10 27 73 0 10 56 163 0 10 17 44 10 43 37 103 0 10 6 14-3 10 3 23-5-2-1 5 3 4 0 13 7 20-7 0-20-33-33-40-29-42-1 12 3 3 3 50 4 3 0 27 3 3 3 50 4 4-2 21-43-10-14-6-66 3-74 23-56 50-7-46-50 40-7-37-36 33-5-11-2-19-23 24-5-5 0-14-5-8-5 8-7 4-5-25-23 26-5-5 0-13-5-5-10 13-2-1-5-22-13 17-2-15-5-5-10 13-7-20-23 17-5-2 0-7-5-5-10 10-5-18-15 5-7-13-10 10-11 1 3 7-2 5-21-2 3 14-10 0 3 16-11-1 1 11-5-1-3 10-5-9-3 0 6 34 4 3-2 8-8-5 3 17-2 2-20-20-1 15-7-4-2 19-5-12-3 0 3 30-10-7 0 10 4 4-2 25-23-27-24-10-1 8 3 4 3 43-5 2-36-14z"/>
<path fill="#4464fd" d="M1590 6604l-7 0-5-5-5-65-36 53-5-15 0-30-7-3-22 41-1-25-5-15-24 50-5-11-6-57-4 0-3 7-5 18-5-2 0-16-7 3-8 28-8-18 0-20-7-7 3-10-5-15-5 5-6 37-5 8-35-125-50-106-25-2-4 3-16-13-25-12 13-46-2-5-6 3-12-2 10-30-7-3 7-17-3-6 6-10-3-7 10-17-5 2-2-5 7-7-3-3 3-7 17-23-5 2-2-5 23-34 27-80 0-10 23-66 0-10 7-14 13-60 7-13 13-63 30-67 7-43 7-17 3-33 3-4 7-50 7-3 10 33 6 10 77 230 10 54 17 53 0 17 3 3 0 13 3 4 0 13 4 3 0 14 3 3 0 13 3 4 0 13 4 3 0 14 3 3 0 13 3 4 0 13 4 3 0 14 3 3 0 13 3 4 0 13 4 3 0 14 3 3 13 77 14 26 3 17 12 8 30 10 10 0 8-8-3-3 10-10-4-4 9-5 11-15-3-6 10-7-10-7 10-16 0-7-5-5-12-2 10-10 4-6-4-4 10-13-10-3 10-10-3-4 10-10 3-10 47-56 47-74 10-10 43-80 7-6 10-24 6-6 0-7 54-103 50-144 65-41 36 10 7 6 23 7 55 108 0 7 17 30 0 7 23 50 17 50 0 10 27 73 0 10 56 163 0 10 17 44 10 43 27 73 0 10 3 4-3 3 6 7-3 6 3 4 7 33-3 0-5-12-4 7-1-5-4 0 10 53-6-3-7-13-33-40-29-42-1 12 3 3 0 23 3 4 4 53 3 3 0 24 3 6-51-18 1 32 4 3-2 15-7-3-66 3-27 10-10 0-20 10-10 0-23 20-5-15 0-27-5-8-10 13-37 30-5-8 0-23-5-9-33 34-5-5 0-20-5-12-22 22-15 21-7-33-23 27-5-9 0-16-2-2-13 13-5-21-12 8-5-8-1-15-27 30-7-20-10 13-5-5-3-23-5-9-5 9-8 5-7-14-10 10-7-16-13 6-7-13-10 10-6-17-14 7-16-37-14 14-6-4-5 2 10 20-10 3 3 4-2 5-8-2 3 13-10 4 4 13-14 0 10 23-1 5-5-1 3 16-7 0-1 12-5-8-4 0 4 3-2 15-2-5-6-3 3 20-10-7 3 10-1 8-5-11-4 0 2 21-5-11-3 0 0 13 3 3-2 12-5-12-6-3 3 3 3 34-6-4-19-28 4 50-37-17-7-6-5 1z"/>
<path fill="#406dfe" d="M1550 6567l-5-12 0-33-5-8-23 43-2-28-3-4-2-15-5 5 0 7-17 37-3 0-3-10-2-22-13 27-2-22-7-13 4-4-4-6 0-17-5-5-10 30-5-8 0-10-3 0-12 38-1-15-7-7 3-10-11-41-12 38 0 13-7-3-26-97-50-106-25-2-4 3-25-18 14-60-27 3 3-20 7-13-2-8-11 8 6-20 0-13 10-20 0-14 10-16-3-7 17-27 33-100 0-10 23-66 0-10 7-14 13-60 7-13 13-63 30-67 7-43 7-17 3-33 3-4 7-50 5-5 12 35 6 10 7 27 7 10 10 30 0 10 10 20 13 40 0 10 30 83 10 54 17 53 0 17 3 3 0 13 3 4 0 13 4 3 0 14 3 3 0 13 3 4 0 13 4 3 0 14 3 3 0 13 3 4 0 13 4 3 0 14 3 3 0 13 3 4 0 13 4 3 0 14 3 3 13 77 14 26 3 17 12 8 25 9 10 16-14 0 10 14 10 23-1 5-9-2 10 20-1 5-7-3-2 5 7 13-3 7 6 0-3 13 7 14-4 20 7 23-2 2-6-10-4 13-1-5-7-3 3 3 2 22-5-9-7-3 4 13-7-3 0 13 3 4 4 30-4 0-5-12-1 15 3 3 0 10-3 0-22-38 2 28 3 4-2 11-18-21-15-12-2 35 4 3 0 17-5 2-34-20zM2097 6437l-5-2 0-23-4-3-1-15-37 36-7-40-36 37-7-33-15 18-12 8-5-25-3 0-8 12-7-27-23 30-5-5 0-13-5-5-2 5-10 7-5-22-8 12-5 1-2-15-5-5-10 17-13-37-10 17-5-5-2-12-13 20-9-28-5-5-10 10-13-27-10 10-5-5-7-20-8-11-10 10-5-5-10-24-7-6-3-14-7-6 10-10-3-4 10-6-3-4 6-6-3-4 13-20-16-10 13-20-8-1-9-9 14-16-4-4 10-13-10 0 17-27-3-3 3-7 13-20 17-16 47-74 10-10 43-80 7-6 10-24 6-6 0-7 54-103 50-144 65-41 36 10 7 6 17 4 11 8 4 13 63 127 0 7 23 50 17 50 0 10 27 73 0 10 73 217 0 10 10 23 0 10 23 70-3 17 7 20-2 8-5-12-3 0 3 7-2 8-5-11-3 0 3 16-10-3 0 13 4 4-2 11-47-63-1 12 3 3 7 67-27-10 3 3 2 42-23-7-7-7-67 0-70 24zM1665 6455l-2-5-1 5z"/>
<path fill="#3876fe" d="M1563 6547l-5-5 0-33-3-4-2-15-23 44-7-50-23 46-5-5 0-23-5-8-8 25-4 0 0-17-3-3-2-15-8 15 0 6-7 4 0-17-3-3 0-17-3-3-2-15-5 5 0 10-8 21-2-15-7-10 4-6-4-4-1-18-5 5-9 38-8-18 0-17-7-6 4-4-12-38-5 12-7 46-6 0-10-40-50-106-30 0 10-64 3-3-25-12-7 4-8-2 13-47-16 7 10-30-4-7 4-13-4-3 7-4-3-3 20-47 33-100 0-10 23-66 0-10 7-14 13-60 7-13 13-63 30-67 7-43 7-17 3-33 3-4 7-50 5-5 12 35 6 10 7 27 7 10 10 30 0 10 10 20 13 40 0 10 30 83 10 54 17 53 0 17 3 3 0 13 3 4 0 13 4 3 0 14 3 3 0 13 3 4 0 13 4 3 0 14 3 3 0 13 3 4 0 13 4 3 0 14 3 3 0 13 3 4 0 13 4 3 0 14 3 3 13 77 14 26 3 17 17 33 0 7 10 17 20 56-2 9-3-7-2 2 7 16-2 9-2-5-3 0 7 33-10-7 3 10-2 9-6-10-4 6-1-8-4 0 7 47-3 0-5-15 0 30-5-15-4 0 4 33-4 0-18-35 0 47-47-34 2 59-12-5zM2133 6404l-6-54-50 54-5-15-2-29-37 40-5-8 0-20-5-8-23 26-7-33-23 33-5-11 0-17-3 0-12 15-5-28-3 0-9 11-5-5-1-18-9 8-6 17-12 12-10-44-13 17-7-20-8 15-5 2-10-34-14 20-15-45-6 4-9 18-28-65-5-5-10 10-12-15 0-7 10-10-10 0 10-20-10-3 14-20-5 2-5-5 10-20-5-5-7 0-2-9 7-6 3-7-3-3 10-14-5-1-2-5 17-30-3-7 13-13 47-74 10-10 43-80 7-6 10-24 6-6 0-7 54-103 50-144 65-41 36 10 7 6 17 4 11 8 4 13 63 127 0 7 23 50 17 50 0 10 27 73 0 10 56 163 0 10 37 110 0 10 3 4-3 6 7 4-4 10 7 16 0 10-3 0-2-5-3 10-4-6-3 10-7-10-1 1 3 24-10-7 0 10 3 3-1 19-29-42-6-3 3 36 3 4 0 23 4 3-2 15-47-26 0 50-3-4-67 0-63 20z"/>
<path fill="#317efb" d="M1543 6507l-6-50-22 42-5 1-2-25-5-11-8 21-3 0-5-38-5 5-9 25-1-18-5-12-9 28-3 0-12-58-5 8-3 24-3 6-4 0 0-16-3-4-5-28-5 8-8 42-2-12-7-6 4-4-14-40 0-13-6-7 3-6-5-15-5 5 0 16-3 4 0 13-4 3-5 29-21-49 0-6-30-60-20-4 13-66-15 1-25-11 13-47-1-5-7 7-8 1 13-43-2-2-8 12-3 0 0-10 6-13-3-4 3-3 0-10 14-27 33-100 10-43 13-33 0-10 7-14 13-60 7-13 13-63 30-67 7-43 7-17 3-33 3-4 7-50 5-5 12 35 6 10 7 27 7 10 10 30 0 10 10 20 13 40 0 10 30 83 10 54 17 53 0 17 3 3 0 13 3 4 0 13 4 3 0 14 3 3 0 13 3 4 0 13 4 3 0 14 3 3 0 13 3 4 0 13 4 3 0 14 3 3 0 13 3 4 0 13 4 3 0 14 3 3 13 77 40 93 0 10 10 13-3 4 3 6 0 10-3 4 3 16-6 0 6 24 0 13-3 0-5-8-5 5 3 30-3 0-2-9-3 17-5-15-3 0 0 10 3 3-2 19-5-12-3 0 3 37-3 0-7-17-11-12 0 54-50-37zM2103 6377l-5-8 0-27-5-12-15 15-10 17-11 8-2-25-5-15-23 30-7-36-23 26-5-1 0-17-5-8-24 33-5-28-3 0-8 11-5-5 0-13-5-5-10 17-7-27-13 20-2-12-5-5-10 17-13-40-10 17-5-5-2-12-13 20-5-22-17-36-3 0-12 18-15-32 0-6-10-14-10-23-13-3 10-17-2-5-3 3-5-1 10-17 3-13 7-7-2-5-10 0-5-5 13-17-10-6 7-14-3-6 10-14-4-3 14-20 0-7 16-20 17-30 33-46 10-24 40-66 0-7 54-103 50-144 65-41 36 10 7 6 17 4 11 8 4 13 46 90 0 7 17 30 0 7 23 50 17 50 0 10 27 73 0 10 83 250-3 3 6 14 0 10-3 3 7 0-4 10 4 20-7-3-2 11-6-13 1 22-10-7 4 27-10-7 3 33-3 0-4-10-15-18 2 32-5 1-18-11 0 20 3 3-2 22-36-20-70 3-60 20zM1655 6392l-2-5-1 5z"/>
<path fill="#2e86f7" d="M1593 6487l-26-20-9 15-3 0 0-10-3-3 0-34-5-5-24 47-5-45-3 0-8 22-5-12-2-28-8 11-5 19-7-37-10 27-5-5 0-20-7 3-8 32-8-29 3-3-3-7 0-16-7-4-8 39-5-5 0-10-4-4 0-16-6-10 3-4-3-3-2-15-5 5 0 10-3 3-4 30-5 2-5-12 0-13-6-7 3-3-3-17-10-16 0-10-7-7-3-20-12-22-13 77-25-48-10-4 3-3 0-17 3-3 7-50-18 8-15-5 3-3 0-13 3-4 7-36-15-5-12 8 7-33 3-4-1-8-12 8 7-16-4-14 7 0-3-6 66-200 0-10 7-14 13-60 7-13 13-63 30-67 7-43 7-17 3-33 3-4 7-50 5-5 12 35 6 10 7 27 7 10 10 30 0 10 10 20 13 40 0 10 30 83 10 54 17 53 0 17 3 3 0 13 3 4 4 30 3 3 3 30 4 3 0 14 3 3 0 13 3 4 0 13 7 20 0 13 3 4 17 96 7 24 10 16 3 17 13 27 7 20-3 3 6 3-3 4 3 16-6-3 3 20-7-3 4 10 0 10-4 3 4 30-4 0-1-8-4 10-3-7-3 17-5-12-4 0 4 10-2 25-5-12-3 0 3 40-37-26zM2127 6350l-7-53-37 43-6-43-37 47-5-12 0-20-5-5-23 30-5-32-2-1-5 8-7 3-5-28-23 33-5-1 0-17-5-8-8 15-4 0-5-22-13 17-7-20-5 11-8 5-8-35-7 4-3 10-5 1-2-15-8-21-14 20-16-44-12 22-3 0-4-17-13-20-10-26-7-10-10-7 14-20-10 0 10-13 0-4-5 2-2-5 10-13-8-2-2-8 10-17-12-5-1-5 16-37-3-3 10-7-3-3 56-83 10-24 40-66 0-7 30-60 7-7 0-6 17-30 13-44 13-26 24-74 65-41 36 10 7 6 17 4 11 8 4 13 63 127 0 7 23 50 17 50 0 10 27 73 0 10 56 163 0 10 17 44 0 10 3 3-3 10 7 3-4 10 7 17 0 10-7-3 4 13-4 0-5-12-1 12 3 7-10-7 2 22-9-15-3 0 3 6 0 20-10-6 4 33 3 3-5 2-8-12 0-6-14-7 0 10 4 3-2 29-47-30 4 50-70 3-60 20z"/>
<path fill="#2c8ef1" d="M1537 6454l-7-54-23 54-5-12-2-28-8 11-5 19-7-37-10 27-5-5 0-20-3-4 0-16-4-4-1-15-9 19 0 10-3 6-3 0 0-16-4-4 0-16-3-4-2-15-5 5 0 14-8 28-8-18 3-4-12-41-5 8-6 47-4 0 0-7-6-7 3-3-3-17-10-16 0-10-7-7 0-10-10-20 0-7-7-6 0-7-16-27 0-10-9-11-20 13-5-2 4-3 10-57-25 2-9-5 14-47-17 10 10-30 0-6-7 0 4-20 56-170 0-10 7-14 13-60 7-13 13-63 30-67 7-43 7-17 3-33 3-4 7-50 5-5 12 35 6 10 7 27 7 10 10 30 0 10 10 20 13 40 0 10 30 83 10 54 17 53 0 17 3 3 0 13 3 4 4 30 3 3 3 30 4 3 0 14 3 3 0 13 3 4 0 13 7 20 0 13 3 4 17 96 37 100-2 9-2-5-3 0 7 20-2 8-5-12-3 0 3 7-3 7 6 6-5 15-1-8-4 0 7 50-7-3-1 15-5-12-4 0 4 33-4 0-6-16-12-12 2 45 3 3-5 2-50-43zM2110 6307l-5-12 0-23-5-8-33 43-5-2 0-23-5-12-24 34-6-37-24 30-5-8 0-17-5-5-5 12-6 3 0-17-5-15-24 37-5-5-1-18-14 20-8-42-5-5-10 20-7-20-13 20-10-37-13 20-12-25-3-16-7 3-8 15-35-75-5-5-5 2 10-20-7 0 7-14-4-6 10-17-10-3 10-20-10-7 10-17-3-10 20-33 0-7 33-46 10-24 40-66 0-7 30-60 7-7 0-6 17-30 13-44 13-26 24-74 65-41 36 10 7 6 17 4 11 8 4 13 46 90 0 7 17 30 0 7 23 50 17 50 0 10 27 73 0 10 56 163 0 10 7 14 0 10 10 30-2 8-1-5-4 0 4 17-7-4 10 54-10-7 2 22-19-32-6-3 3 3 3 30-3 0-8-15 3 40-37-27 4 47-27-17-70 0-37 17-16 3z"/>
<path fill="#2895ec" d="M1587 6427l-27-23-8 18-4 0 0-27-3-3-2-25-5 5-10 33-8 15-5-8 0-30-7-3-8 28-7-40-8 25-5 2-2-25-5-5-10 33-8-28 3-7-3-3 0-17-5-12-10 40-5-5-3-30-4-10-3 0-12 49-5-29-6-13 0-17-7-10 3-3-3-3-2-15-5 5-6 50-5 8-5-8 0-10-7-7 0-10-10-20 0-7-7-6 0-7-16-27 0-10-9-11-13 10-5-2 10-60 3-3-11 8-15-2 10-56-5-2-14 13-1-1 6-34 4-3-2-5-2 5-3 0 7-23-4-10 7 0-3-10 46-140 0-10 7-14 13-60 7-13 13-63 30-67 7-43 7-17 3-33 3-4 7-50 5-5 12 35 6 10 7 27 7 10 10 30 0 10 10 20 13 40 0 10 30 83 10 54 17 53 0 17 3 3 0 13 3 4 4 30 3 3 3 30 4 3 0 14 3 3 0 13 3 4 0 13 7 20 0 13 3 4 17 96 10 27-3 3 6 4 4 10-4 3 10 23 0 10-3 0-2-5-1 5 10 30-4 4 4 3 0 10-4 0-1-8 1 35-3 0-2-9-1 15-7-3 2 28-5-11-4 0 0 26 4 10-7-3-32-35 2 38 3 4zM2123 6294l-5-9 0-30-3-10-3 0-22 32-7-43-36 50-7-37-15 22-12 8-1-22-5-8-9 15-3 0-5-32-8 9-15 28-5-5 0-17-5-5-9 19-3 0 0-10-7-14 4-3-9-22-10 20-6-20-14 24-8-29 0-13-7 3-8 19-8-12 0-10-15-35-9 15-6 3-10-20 0-6-17-27 0-7-7-6 7-14-10 0 10-16-3-7 6-10-1-5-9-2 14-23-10-3 10-17-5 2-2-5 30-54 13-16 10-24 40-66 0-7 30-60 7-7 0-6 17-30 13-44 13-26 24-74 65-41 36 10 7 6 17 4 11 8 4 13 46 90 0 7 17 30 0 7 23 50 17 50 0 10 27 73 0 10 56 163 0 10 7 14 0 10-3 3 6 0-3 10 3 17-6-4 6 37-3 0-5-12 0 27-5-12-3 0 0 14 3 3-2 12-20-37 0 37-25-19 4 4 0 23 3 3-2 12-33-30-2 2 2 51-70 0-37 17-16 3zM1618 6362l-1-5-2 5z"/>
<path fill="#259ce7" d="M1607 6390l-50-53-9 12 0 6-15 32-5-5 0-30-3-10-3 0-9 25-6-40-5 5-9 25-1-25-5-12-10 34-5-12 0-20-7 3-8 35-2-18-3-10-4 0-8 38-5-5-3-30-7-13 3-7-3-3 0-13-5-5-5 28-3 3 0 14-5 5-5-12 0-17-7-10 3-3-3-3 0-14-17-36 0-7-6-7 3-3-3-10-4 0-3 7 0 16-3 4 0 16-4 4-1 15-9-5 0-7-16-27 0-10-9-11-5-2 0-17 4-3 0-17 6-23-1-8-5 8-14 10 10-57-26 4 10-47 3-3-2-2-8 12-3 0 0-10 3-4-3-13 6 0-3-3 3-20 40-120 0-10 7-14 13-60 7-13 13-63 30-67 7-43 7-17 3-33 3-4 7-50 5-5 12 35 6 10 7 27 7 10 10 30 0 10 10 20 13 40 0 10 30 83 10 54 17 53 0 17 3 3 3 30 4 3 0 14 3 3 0 13 7 20 0 14 3 3 0 13 3 4 0 13 7 20 0 13 3 4 17 96 3 4 0 13 10 23-3 10 7 17-4 17 7 0-3 6 3 30-3 0-2-8-3 13-7-20 0 30-5-15-3 0 3 34-13-7 3 3zM2103 6257l-6-43-24 33-5-8 0-24-5-8-23 37-7-37-23 37-5-15 0-20-10 6-5 12-5-32-3 0-9 15-5-8-1-15-14 20-6-20-10 17-5-2-2-15-13 20-9-22 4-3-4-3 0-10-5-5-8 18-7-3-3-14-7-6 4-4-12-28-13 27-35-72 0-7 6-10-6-3 6-10-3-3 7-14-4-6 10-17-1-5-10 0-2-5 10-13-3-4 13-23 0-7 13-16 10-24 40-66 0-7 30-60 7-7 0-6 17-30 13-44 13-26 24-74 65-41 36 10 7 6 17 4 11 8 4 13 46 90 0 7 17 30 0 7 23 50 17 50 0 10 27 73 0 10 46 133 7 40 7 17 0 10-4 3 4 20-4 0-5-11 0 23-5-12-3 0 0 10 3 4-1 15-5-12-4 0 4 27-4 0-3-10-15-19-2 22 4 3 0 17-2 2-15-19-7-3 0 23 4 4-2 18-20-20-10 0-3-3-64 0-16 10-40 13zM2338 6119l-1-5-2 5zM1628 6302l-1-5-2 5z"/>
<path fill="#21a3e3" d="M1513 6367l-6-40-5 5-9 25-1-25-5-12-9 22 0 10-3 0-3-30-4-3 0-27-5-15-8 35-7 3 0-20-3-3-5-28-5 8-7 40-3 0-3-30-12-42-5 12-7 47-3 0 0-14-17-36 0-7-6-7 3-3-7-20-16-33 0-7-10-13-4-14-1-1-15 18-10 7 13-60-15 8-12-2 7-40 3-3-1-8-12 8 7-20-4-17 7-13 0-13 40-124 0-10 10-26 3-24 7-13 13-63 30-67 7-43 7-17 3-33 3-4 7-50 5-5 12 35 6 10 7 27 7 10 10 30 0 10 10 20 13 40 0 10 30 83 10 54 17 53 0 17 3 3 0 13 3 4 4 30 3 3 3 30 4 3 0 14 3 3 0 13 3 4 0 13 7 20 0 13 3 4 7 46 3 4 0 13 7 20 3 30 4 3 0 14 3 3-3 7 6 10-3 6 7 7-5 15-2-12-3 0 6 54-3 0-5-19 0 30-5-15-3 0 0 17 3 3-2 15-33-40-2 25 4 4 0 23-4 0-21-25-9 12 0 6-5 2-1-35-5-15zM2130 6227l-2-15-3-3 0-24-5-8-33 50-5-5 0-23-5-12-24 37-6-37-24 33-5-8 0-20-5-5-5 12-6 3 0-17-5-15-10 17-5-5 0-13-5-5-10 20-7-24-13 20-2-15-5-5-10 20-8-21 3-4-7-20-3 0-12 22-5-18-6-10 0-10-5-5-10 23-9-12-3-16-20-34-7-20-13 7 10-20-3-3 6-10-3-7 7 0-4-3 7-14-3-3 10-17-7-10 10-13-10-3 10-14 30-60 7-6 10-24 6-6 0-7 30-60 7-7 0-6 17-30 13-44 13-26 24-74 65-41 36 10 7 6 17 4 11 8 4 13 46 90 0 7 17 30 0 7 23 50 17 50 0 10 27 73 0 10 46 133-3 10 3 20-6-3 6 33-3 0-5-11 0 26-5-11-3 0 3 10-2 18-5-12-3 0 0 10 3 4-1 21-20-23 0 40-37-33-10 0-2 15 4 3 1 32-60 0-16 10z"/>
<path fill="#1ca9df" d="M1547 6357l-5-2 0-33-4-3 0-10-3 0-8 21-5-15-2-28-5 5-8 28-2-28-5-15-10 30-5-8 0-24-7 4-8 35-7-37-8 35-7 3 0-20-10-33 0-20-5-8-8 28 0 13-5 5-5-28-7-13 0-20-6-7 3-3-5-12-5 5-7 53-6 0-4-13-6-7 3-3-7-20-16-33 0-7-10-13-4-14-13 7 10-60-3 0-12 22-12 1 7-40 7-16-9-2-11 8 0-13 6-17-3-10 3-13-3-3 7-4-4-6 37-114 0-10 10-26 3-24 7-13 13-63 30-67 7-43 7-17 3-33 3-4 7-50 5-5 12 35 6 10 7 27 7 10 10 30 0 10 10 20 13 40 0 10 30 83 10 54 17 53 0 17 3 3 3 30 4 3 0 14 3 3 0 13 7 20 0 14 3 3 0 13 3 4 0 13 7 20 0 13 3 4 17 96 3 4-3 3 7 13-4 4 4 3 3 33 3 4 0 16-3 0 0-10-3 0-2 9-3-10-4 16-5-21-3 0 0 10 3 3-1 28-19-31-3 0 0 16 3 4-1 28-19-25-3 0 3 53-11-8zM2110 6190l-5-41-7 3-18 28-5-11-2-29-26 40-2-25-5-11-23 36-7-33-8 15-5 2-2-15-5-9-10 20-7-26-13 23-2-15-5-8-10 20-5-9-6-36-4 0-6 16-5 2-12-28 0-10-5-5-8 15 0 6-5 2-12-35-20-37-3-13-10 3 6-13-3-3 13-27-6-3 13-24-10 4 10-20-7-4 44-80 6-6 0-7 54-103 50-144 65-41 60 20 6 3 9 12 0 6 46 90 0 7 17 30 0 7 23 50 17 50 0 10 27 73 0 10 33 93 3 27 7 17-2 8-1-5-4 0 4 23-2 2-3-7-4 7-1-5-4 0 2 28-8-18-4 0 4 10-2 22-12-15-10-7 5 42-23-24-2 2 4 10-2 32-10-10-67-4-60 24zM1615 6259l-2-9-1 9z"/>
<path fill="#15afd9" d="M1507 6320l-2-28-5-15-10 30-5-8 0-24-3-3 0-23-4-4-1-18-5 8-4 24-5 5-1-22-7-3-8 41-5-5 0-10-4-3 0-20-6-10 3-7-3-3-2-18-5 5 0 10-3 3-4 30-6-3-4-30-6-7 3-3-13-30 0-14-7-6 3-4-5-11-5 5-6 56-7 4-27-64-10 4 7-40 3-4 0-16 4-4-2-5-17 27-1-12 3-3 7-40-5-2-7 7-8-2 10-46-9 5-5-12 7-3-3-7 6-3-3-4 0-10 30-90 0-10 10-26 3-24 7-13 13-63 30-67 7-43 7-17 3-33 3-4 7-50 5-5 12 35 6 10 7 27 7 10 10 30 0 10 10 20 13 40 0 10 30 83 10 54 17 53 0 17 3 3 3 30 4 3 0 14 3 3 0 13 3 4 10 63 7 20 0 13 3 4 14 80 3 3 0 20 3 3 0 10-5 9-1-9-4 0 7 64-3 0-4-20-15-25 0 43-15-22-6-3 3 47-7-4-18-25-10 24-5-9 0-30-5-5zM2127 6174l-5-2-5-48-24 36-5-8 0-27-5-8-11 25-12 15-2-25-5-15-23 43-5-15 0-20-2-1-13 16-7-26-10 16-5-5-1-15-14 20-6-23-10 20-5-8-7-40-7 3 0 7-8 11-10-30-13 27-19-55-13-27-7 4 0 6-8 15-12-21 10-20-3-7 7-10-4-3 7-10 3-20 10-17-6-3 6-14-6-3 30-57 6-6 0-7 54-103 50-144 65-41 36 10 7 6 17 4 11 8 4 13 46 90 0 7 17 30 0 7 23 50 17 50 0 10 27 73 0 10 23 63 0 10 13 34-1 8-2-5-3 0 6 30-3 0-2-5-3 7-7-14 0 17-5-12-3 0 3 30-1 2-2-5-10-7 3 4 4 33-2 2-2-5-21-22-2 2 3 6 0 24 4 3-2 8-27-26-20-4 0 54-40-4zM2312 6052l-2-5-2 5z"/>
<path fill="#08b4d1" d="M1540 6294l-5-9 0-30-5-5-8 29-4 0 0-24-3-3-2-18-10 30-5-5 0-27-5-5-10 37-6-37-5 8-4 24-6 3 0-20-7-7 3-3 0-10-3-3-2-15-5 5-3 30-3 3 0 10-4 0 0-10-6-10 3-7-3-3 0-17-4-3-5-28-5 8-6 50-4 0 0-13-6-7 3-3-13-30 0-14-7-6 3-4-6-20-32-68-15 18-3 10-4 0 0-16 4-4 3-26-12 5-1-9 10-33 0-13-17 10 0-10 3-4-3-13 7 0-4-7 4-20 23-70 0-10 10-26 3-24 7-13 13-63 30-67 7-43 7-17 3-33 3-4 7-50 5-5 12 35 6 10 7 27 7 10 10 30 0 10 10 20 13 40 0 10 30 83 10 54 17 53 0 17 3 3 3 30 4 3 0 14 3 3 0 13 3 4 10 63 4 3 0 14 3 3 0 13 3 4 0 13 7 20 0 17 7 20 0 10-4 3 7 3-3 17 6 3-5 19-3-10-3 13-2-8-3 0 1 31-21-35-4 0 4 10 0 27 3 3-2 9-18-29-7-3 7 53-3 0-12-15zM2107 6137l-5-2 0-26-5-12-24 40-6-43-24 40-5-9 0-23-10 7-5 11-6-30-10 17-5-5 0-13-5-5-10 20-5-22-4 0-6 13-5 2-2-15-5-5-10 23-8-35-7-13 0-10-7 3-8 19-8-12 0-10-14-33-3 0-12 25-11-25-7-7 0-7-7-6 14-37 10-17-4-6 14-24-10 0 10-13-4-3 10-17-3-3 13-20 0-7 54-103 50-144 65-41 36 10 7 6 17 4 11 8 4 13 46 90 0 7 17 30 0 7 23 50 67 210-2 11-1-8-4 0 4 27-7-4 7 40 3 4-2 8-5-12-3 0 3 30-3 0-18-25 0 37-24-27 2 29 3 3-1 15-14-13-66-7-47 23-13 4z"/>
<path fill="#01b9c8" d="M1570 6244l-27-34-8 29-3 0-4-47-6 3 0 10-9 15-1-28-5-12-10 37-2-15-3-3 0-20-7 3-8 35-2-25-5-12-8 39-5 1-2-15-3-3 0-20-5-12-14 54-5-35-6-17 0-20-7-10 3-3-3-4 0-10-7 4-3 33-8 25-5-8 0-14-7-6 3-4-6-20-7-10 0-6-7-7-10-30-6-7 0-6-10 6-2 5-2-1 9-62-12 28-7 4 0-14 4-3 6-37-20 10 7-23-3-17 6 0-6-10 6-3-3-7 7-13 0-10 13-37 13-60 7-13 13-63 30-67 7-43 7-17 3-33 3-4 7-50 5-5 12 35 6 10 7 27 7 10 10 30 0 10 10 20 13 40 0 10 30 83 10 54 17 53 0 17 3 3 3 30 4 3 0 14 3 3 0 13 3 4 10 63 4 3 0 14 3 3 0 13 3 4 0 13 7 20 0 17 3 6-6 10 0 7 3 0 2-8 5 8-7 7-2 8-5-22-3 0 3 30-10-6 2 41-18-31-7-4 3 4zM2143 6114l-6-54-24 10-8 9-18 35-7-44-12 15-11 25-5-5 0-23-4-7-3 0-8 19-5-12 0-13-7 3-3 10-5 2-2-19-5-8-10 20-7-23-13 20-2-15-5-9-10 20-5-8-3-23-7-10 0-10-6-4-9 22-8-15-8-35-12 18 0 7-5 2-22-49-6-6 16-40 4-17 10-17 0-3-5 2-2-5 17-34-4-3 54-103 50-144 65-41 36 10 7 6 17 4 11 8 4 13 46 90 0 7 17 30 0 7 23 50 17 50 0 10 27 73 0 10 13 33-3 7 6 3-3 7 3 23-6-3 6 40-3 0-5-15 0 23-20-26 0 36-18-21-4 0 0 13 4 3-2 22-10-13-33-4-4-3-1 15 3 3 0 30 3 4-31-2zM1610 6190l-2-5 5-1z"/>
<path fill="#09bcbe" d="M1533 6240l-1-21-4-4 0-23-6 3 0 10-9 15-1-28-5-12-9 35-3 0-5-38-5 5-7 33-3 0 0-23-7-13 4-10-4-4-1-18-5 5-9 42-8-25 3-7-3-3 0-17-5-5-8 48-7 0-3-33-7-10 3-3-13-34 0-10-7-10-1-18-5 5-7 53-3 7-4 0-3-13-7-7 0-7-10-16 0-7-6-7 0-6-10 3 3-7 0-16 3-4 0-16 4-4-2-15-5 12-3 0 6-40-3 0-12 15-5-2 10-46 4-4-12 9-2-5 4-7-4-7 7-3-3-10 6-13 0-10 7-14 13-60 7-13 13-63 30-67 7-43 7-17 3-33 3-4 7-50 5-5 12 35 6 10 7 27 7 10 10 30 0 10 10 20 13 40 0 10 30 83 10 54 17 53 0 17 3 3 3 30 4 3 0 14 3 3 0 13 7 20 10 64 3 3-3 3 10 30-4 7 7 10-7 10 2 5 5-2-3 10 3 30-3 0-5-21 0 33-20-33 0 43-20-30-2 28 3 4 0 16-3 0-12-15zM2100 6090l-5-15 0-26-2-2-8 12-7 3 0-23-3-4-2-15-23 47-5-8-2-19-13 24-5-29-3 0-9 15-5-8-1-15-14 23-6-26-10 20-14-44-13 27-15-48-3 0-12 21-2-11-10-14-6-23-17-27 27-63-4-10 17-33-3-4 40-76 50-144 65-41 36 10 7 6 17 4 11 8 4 13 46 90 0 7 17 30 0 7 23 50 54 170-2 15-2-9-3 0 7 40-7-3-2 12-5-9-3 0 3 24-10-7-11-22 0 44-19-25-3 0 0 13 3 3-1 29-64-10-23 13-37 13z"/>
<path fill="#1bc0b4" d="M1563 6187l-23-40-5 5-7 30-3 0 0-33-5-15-10 33-5-12-2-28-5 5-6 37-4 0 0-27-5-15-8 35-5 5-10-57-5 9 0 13-8 28-5-38-7-20 0-17-5-11-5 11-7 50-3 0 0-10-7-10-3-20-7-10 0-16-6-10-4-17-6-7-4-16-18-32-12 28-3 0 7-40-4 0-5 12-1-12 3-3 0-13 7-24-20 14 3-10-3-10 6-4-3-10 7-3-4-10 4-3 6-37 7-13 3-24 7-13 13-63 30-67 7-43 7-17 3-33 3-4 7-50 5-5 12 35 6 10 7 27 7 10 10 30 0 10 10 20 13 40 0 10 30 83 10 54 17 53 0 17 3 3 20 113 3 4 0 16 4 4 0 13-4 3 7 4-3 16 5-1 1 8-5 12-1-12-4 0 0 10 4 3-2 22-5-12-3 0 0 17 3 3-2 19-18-32-3 0 0 20 3 3zM2187 6047l-7-3-10 3-8-2-5-48-54 23-10 20-6-43-24 43-5-8-1-18-12 21-3 0 0-16-5-15-10 20-5-2 0-17-5-5-9 22-3 0-5-28-5 5-3 13-5 2-2-19-8-21-12 21-3 0-15-51-5 5-7 20-3 0-4-17-13-20-10-30-7-7 27-63-3-3 6-14-3-3 37-73 50-144 65-41 36 10 7 6 17 4 11 8 4 13 46 90 0 7 17 30 0 7 23 50 17 50 0 10 20 53 3 23 4 4-4 6 7 4-3 3 0 10 3 3-2 19-1-9-4 0 4 20-4 0-5-8-3 17-7-10-1 1 3 7-2 18-15-21-6-4 0 10 3 4-2 28-5-8-11-9-45-5 3 4 0 26 3 4zM1355 5969l-2-5-1 5z"/>
<path fill="#29c3aa" d="M1527 6184l-5-49-4 0-8 32-5-12-2-28-5 5-6 37-4 0 0-27-6-17 3-3-3-7 0-20-5-5-10 44-9-25 0-24-5-8-8 28 0 14-7 0-3-34-7-13 0-13-5-5-5 31-3 4 0 16-3 10-4 0-3-20-7-10 0-16-6-10-4-17-6-7-4-16-18-32-5 15-3 0 6-47-3 0-5 19-2-12 10-33-16 10 6-24 0-13 4-3-2-9-2 5-6 4 6-20-3-4 10-26 3-24 7-13 13-63 30-67 7-43 7-17 3-33 3-4 7-50 5-5 12 35 6 10 7 27 7 10 10 30 0 10 10 20 13 40 0 10 30 83 10 54 17 53 0 17 3 3 20 113 3 4 0 10-3 3 7 7 0 6-7 10 0 7 3 0 2-5 5 2-7 10 4 46-4 0-18-38 0 47-20-37-2 18 4 4 0 23-4 0-8-15-5 5zM2107 6020l-7-50-23 44-5-5 0-17-5-8-9 18-3 0-5-25-13 20-2-18-5-9-10 24-7-27-13 20-10-43-13 26-9-18 4-3-7-14-3-20-7 4-8 21-2-8-7-7 0-10-16-26 0-10-10-17 16-37 0-6 10-17-3-3 7-10-4-4 30-63 44-127 65-41 36 10 7 6 17 4 11 8 4 13 46 90 0 7 17 30 0 7 23 50 24 73 0 10 6 13-3 10 7 4-4 16 7 24-2 8-5-8-3 0 0 10 3 3-1 12-5-9-4 0 2 22-20-27 0 27-13-17-12 2 3 7 0 26 4 4-2 11-30-3-20-7z"/>
<path fill="#32c69f" d="M1557 6127l-24-40-5 8-3 20-7-3 0-30-5-5-10 40-6-43-14 43-10-67-5 9-8 41-2-15-6-10 3-10-3-3-2-22-5 5-8 49-9-22 0-13-6-7 3-3-7-17 0-10-6-10 0-13-7-4-7 54-5 11-5-18-6-7-4-16-20-34 0-16 4-4 3-26-3 0-5 15-2-12 3-3 0-10-10 3 10-50-3 0-8 15-2-12 3-6-3-4 7-6-4-4 4-3 6-37 7-13 13-63 30-67 7-43 7-17 3-33 3-4 7-50 5-5 12 35 6 10 7 27 7 10 10 30 0 10 10 20 13 40 0 10 30 83 10 54 17 53 0 17 3 3 13 80 4 3-4 7 7 10-3 10 6 7-3 6 3 27-5 12-5-12-3 0 3 10-1 28-19-38-3 0 0 13 3 4zM2090 5987l-5-2 0-16-5-12-8 18-4 0-5-28-13 23-2-18-5-12-10 24-5-9-1-18-14 27-8-45-7-4 0 7-8 15-8-15 0-13-5-5-10 23-5-5-4-20-20-43-3 0-12 28-11-25 16-37 0-6 10-17 4-17 26-63 7-27 13-26 24-74 65-41 36 10 7 6 17 4 11 8 4 13 46 90 0 7 27 53 43 130-3 7 3 20-10-7 4 20-10-6 3 23-10-7 0 10 3 4-1 11-20-30 0 30-44-6-3-4-23 0-54 27zM1362 5922l-2-5-2 5zM1587 6100l-2-5 5-8 2 8z"/>
<path fill="#3bc992" d="M1523 6117l-5-5 0-30-5-5-8 38-3 0 0-20-4-3-1-18-9 21 0 14-3 6-3 0 0-20-4-3 0-20-3-3-2-19-8 22-3 27-4 0 0-14-6-10 3-10-3-3 0-20-4-3 0-20-5-15-5 8-6 50-4 0-6-10 3-3-7-17 0-10-6-10 0-13-7-7 3-3-3-4 0-10-10-16 0-7-7-7-1-11-5 5-7 56-5 9-8-15 6-60-3 0-5 18-2-12 7-20-3-16 6 0-3-4 3-23-1-2-14 17-1-2 0-13 6-17-3-13 7 0-4-3 0-10 4-4 16-76 30-67 7-43 7-17 3-33 3-4 7-50 5-5 12 35 6 10 7 27 7 10 10 30 0 10 10 20 13 40 0 10 30 83 10 54 17 53 6 50 4 3 0 17 3 3 3 37 4 3-4 20 7 0-5 15-5-15-3 0-2 19-5-12-3 0 3 10-2 32-18-39-3 0 6 54-3 0-12-22zM2113 5964l-6-40-15 8-9 18-5-8-1-22-12 22-3 0 0-17-5-15-9 19-5 1-3-23-13 23-7-26-13 23-15-52-4 0-6 20-5 2-12-42-5-5-13 27-22-48 30-70 7-27 26-63 24-74 65-41 36 10 7 6 17 4 11 8 4 13 46 90 0 7 27 53 27 74 0 10 3 3-3 3 6 7-3 3 7 17-2 8-2-5-3 0-2 15-5-11-3 0 3 26-3 0-5-11-2 11 4 4 0 10-10-7 0 10 3 3-2 15-10-16-33-7-3-3-2 11 3 4 2 25-33-4zM1372 5922l-2-5-2 5z"/>
<path fill="#49cb85" d="M1480 6077l-5-8-3-44-5-11-5 11-4 30-3 7-3 0-4-43-3-4-3-23-7-10 0-17-7 4-6 50-5 1-5-8 0-13-7-7 3-3-3-4 0-10-10-16 0-7-7-7 0-10-15-28-5 18-3 0 3-26 4-4-4-20 7 0-5-8-8 5 6-40 4-3-2-5-8 15-4 0 20-90 30-67 7-43 7-17 3-33 3-4 7-50 5-5 12 35 6 10 7 27 7 10 10 30 0 10 10 20 13 40 0 10 30 83 10 54 17 53 6 50 4 3 0 17 3 3 0 14-3 3 6 3 0 7-5 5-5-12-3 0 2 22-5-12-4 0 0 14 4 3-2 12-5-12-3 0 1 42-26-47-9 35-3 0-5-45-5 8-8 39-2-22-5-8-2 1zM2097 5930l-5-11 0-20-7-4-8 19-5-29-4 0-6 14-5 1-2-18-5-8-10 23-7-27-13 27-10-37-13 27-5-8-10-44-7 4-8 21-9-15 0-6-10-14 0-6-6-7 0-10-4-3 17-40 7-27 6-10 7-27 13-26 24-74 65-41 36 10 7 6 17 4 11 8 4 13 63 127 0 7 23 50 7 33 3 3 0 7-6 0 6 13 0 7-6 0 3 20-3 0-9-15 0 27-5-12-3 0 3 10-1 18-10-16-24-4 4 37-24-3-3-4-20 0z"/>
<path fill="#5ccc76" d="M1517 6064l-7-47-5 8-7 37-3 0 0-20-7-10 4-3 0-14-4-3-1-22-5 5-7 44-3 0 0-14-7-13 3-7-3-3 0-20-5-5-8 48-4 0-6-33-7-10-3-30-12-32-5 15 0 17-3 3 0 17-4 3 0 10-3 0 0-10-10-16 0-7-7-7 0-10-10-16 0-7-6-7 3-30-5-8-5 2 7-34 3-3-2-12-8 5 0-10 7-16-4-10 4-4 10-46 26-57 7-43 7-17 3-33 3-4 7-50 5-5 12 35 6 10 7 27 7 10 10 30 0 10 10 20 13 40 0 10 30 83 10 54 17 53 0 17 6 20-3 6 7 10-4 14 7 6-3 4 3 26-3 0-5-11 0 23-5-12-4 0 4 27-4 0-18-42-2 29 4 3 0 13-7-3-8-15zM2090 5890l-2-15-3-3 0-17-7 4-3 13-5 2-2-19-5-11-10 23-5-8-1-19-14 27-8-18 3-4-3-3 0-10-7-3-8 25-8-15 0-14-5-5-10 27-5-5-14-40-16-33 10-37 26-63 24-74 65-41 36 10 7 6 17 4 11 8 4 13 46 90 0 7 27 53 3 10-3 4 7 3-4 7 7 16 0 10-3 4 3 20-7-4 4 24-10-7 1 25-8-15-15-8 2 25 3 3-2 8-26-3-14-7-13 0zM1378 5869l-1-5-2 5z"/>
<path fill="#6fcd66" d="M1540 6047l-12-18-5-65-5 5-8 38-5-28-3 0-9 38-5-5 0-20-3-3 0-20-3-4-2-15-5 9-7 43-3 0 0-20-7-7 4-3 0-13-4-4-1-18-5 5-7 50-7-3-6-37-7-13 0-10-7-10 0-17-10-17 0-6-6-7-2-12-5 5-7 54-5 8-5-15-6-7 6-20 0-16 4-4 0-13-4 0-1 12-5-12 6-7-3-10 7-6-4-4 4-10-2-8-5 12-7 3 4-23 3-4-3-20 3-3 7-33 26-57 7-43 7-17 3-33 3-4 7-50 5-5 12 35 6 10 7 27 7 10 10 30 0 10 10 20 13 40 0 10 30 83 10 54 17 53 6 63-3 0-5-15 2 25-4 0-5-15 0 27-5-12-3 0 0 14 3 3-1 12-5-12-4 0zM2147 5864l-9-2 0-20-5-15-43 23-7 0-5-35-3 0-8 19-5-5-2-22-12 18 0 7-3 0-5-15-13 27-15-59-4 0-3 14-8 11-2-11-17-27 0-10-10-17 0-6-6-7 26-63 24-74 65-41 36 10 7 6 17 4 11 8 4 13 46 90 7 24 17 33-4 13 7 24-3 0-2-5-2 5 7 23-3 0-5-12 0 27-5-12-4 0 4 30-5 2-37-13-20-4 2 39zM1378 5782l-1-5-2 5zM1385 5845l-2-5-1 5z"/>
<path fill="#84cc56" d="M1510 6007l-5-28-3-4 3-6-3-7 0-23-7-4 0 14-8 28-9-28 0-30-3-7-3 0 0 10-4 3-3 30-5 2-5-35-7-10 0-13-5-5-8 51-5 5-5-21-7-10 0-17-10-17 0-6-6-7 0-10-10-17 0-6-5-5-4 6-5-15 7-3-3-7 3-10-5 2-2-5 10-33-1-9-7 10-2-11 4-4 3-23 23-50 7-43 7-17 3-33 3-4 7-50 5-5 12 35 6 10 7 27 7 10 10 30 0 10 10 20 13 40 0 10 30 83 10 54 17 53 0 20-7-3 0 13-7-3-1 15-5-12-4 0 4 10-2 18-5-15-3 0 3 30-3 0 0-6-9-15-5 5zM2067 5834l-5-5 0-20-9-25-13 26-10-36-8 11-5 19-9-35-16-40-7-4-3 17-9 12-5-15-6-7 26-63 24-74 35-25 30-16 6 0 30 10 7 6 17 4 11 8 4 13 46 90-3 4 20 46-7 0 4 17-7 0 7 23-10-6 3 10-2 18-46-13 1 35-15 1-20 10-5-15 0-20-5-1-36 20zM1548 5932l-1-5-2 5z"/>
<path fill="#99c946" d="M1540 5970l-8-25-15-28-5 8 0 14-7 23-3 0 0-23-4-4 0-23-3-3-2-19-8 22-3 30-4 0 0-23-5-9-5 29-3 3 0 13-5 2-5-35-7-10 0-13-3-4-10-46-3 0-4 10 0 16-3 4 0 16-3 4-2 15-2-12-10-17 0-6-6-7 0-10-10-17 0-6-5-5-2 5-3 0 3-10 0-10-3-4 6-3-3-13 7-7-4-3 0-10 4-4-4-3 7-23-3 0-9 15-1-5 3-4 7-40 16-33 7-43 7-17 3-33 3-4 7-50 5-5 65 182 0 10 30 83 10 54 10 26-2 9-1-5-4 0 4 10-2 8-5-15-3 0 6 60-3 0-5-12zM2093 5807l-5-8 0-20-5-12-15 8-8 25-8-18 0-10-7-10 3-3-3-4 0-13-7 3-8 22-8-18 0-14-7-6 0-10-7 3-8 25-25-52 13-26 24-74 65-41 36 10 7 6 17 4 11 8 4 13 43 87 0 10 10 27 0 10-7-4 7 20-2 9-1-5-4 0 2 11-38-11 3 6 0 20 3 4-1 8-30-7z"/>
<path fill="#adc638" d="M1480 5944l-2-25-6-10 3-4-3-33-7-23-3 0-4 6 0 17-3 3-5 32-12-38 0-10-6-14 0-13-7-7 3-6-18-35-13 70-5-15-7-7 3-7 0-16 4-4 0-13-4-3 2-12 2 8 3 0-3-10 3-26-3 0-2 5-2-12 4-3 3-27 17-43 23-134 5-5 12 35 6 10 7 27 7 10 10 30 0 10 10 20 13 40 0 10 30 83 7 40 3 4 0 10-3 3 6 0-3 13 3 4 4 26-4 0-5-15-1 15 3 10-3 0-5-15-2 22-7-3 0 16-3 0-7-13-3-40-5-8-10 43-5-8-2-19-5 9zM2100 5760l-5-8 0-10-5-5-23 17-7-24-13 27-15-62-4 0-3 7-8 25-12-32-7-6 0-10-10-17 24-67 65-41 36 10 7 6 17 4 11 8 4 13 33 67-3 3 10 27-4 20-10 0 2 22-20-7 0 20-7 0-10-7-10 0zM1528 5912l-1-5-2 5z"/>
<path fill="#bfc32d" d="M1500 5917l-5-8-7-60-3 0-3 10-4 30-5 5-1-22-15-48-5 15-4 33-5 12-5-25-6-14 0-13-7-7 3-6-13-24 0-6-7-7 4-3-10-20-4 0-1 5-5-5 6-10-6-4 0-6 3-4 3-26 10-27 7-43 7-17 0-17 6-20 7-50 5-5 12 35 6 10 7 27 7 10 10 30 0 10 10 20 13 40 0 10 30 83 0 10-3 4 6 0-3 13 7 0-7 17 3 23-3 0-5-15-2 12 4 3 0 13-4 0-5-15 0 30-8-21-7-4zM2143 5720l-6-3-17 3-10-20-13 10-24 10-5-18-13 0-5-18-5 5-8 25-5-22-20-47-7-3-8 28-4 0-5-8 24-67 65-41 36 10 7 6 23 7 9 12 0 6 26 57-3 7 3 10-13 0 3 3 2 15-17-7-8 2 7 17-14 0z"/>
<path fill="#d1bf27" d="M1493 5877l-5-28-3-4 3-6-3-7 0-23-7-4-6 50-5 2-5-12 0-13-7-10 3-3-11-42-5 12-9 51-1-8-7-7 3-6-13-24 0-6-7-7 4-3-17-34 7-6-4-7 4-7-4-3 7-3-3-4 3-6-3-4 3-3 10-63 7-17 0-17 6-20 7-50 5-5 35 92 7 30 23 60 0 10 13 33 4 24 6 16 0 7-6 10 3 27-3 0-5-19 0 34-9-25-6 3 0 13-4 4zM2097 5684l-5-5 0-10-5-9-37 24-5-25-10-17 0-7-7 4-8 25-18-39 10-30 5-5 10-3 20-17 30-16 36 10 7 6 23 7 22 48-2 5-8 2 3 3-1 5-9-1 2 21-20-10-2 12 4 10-15-2zM1527 5820l-2-8 5-8 2 8z"/>
<path fill="#e0bc2b" d="M1517 5854l-12-29 0-26-3-4-2-15-13 54-2-25-7-7 4-10-4-3 0-10-3 0-7 23 0 13-3 4 0 16-3 0-7-13 3-3-3-4-3-26-7-14 0-16-7-10 0-10-10-17 0-7-5-5-13 67-12-22 4-26 3-4-3-10 6-10-3-6 3-7-3-3 3-4 7-46 7-17 0-17 6-20 7-50 5-5 65 182 0 10 13 33-3 7 7 7-4 3 4 10-4 17 7 0-3 6 3 34-3 0-5-19zM2083 5637l-6-13-10 6-5-5-9-21-13 6-7-13-10 7-5-5 0-7 5-5 54-33 36 10 9 8 6 17-1 5-9-2 10 23-13 0 7 10-19-1z"/>
<path fill="#eeba34" d="M1487 5834l-2-25-7-7 4-10-7-17 0-13-7-10 0-20-6-3-7 53-5 5-5-12 0-16-7-10 0-10-10-17 0-7-6-6-4-20-5-9-3 7-2-2 0-13 4-3 6-44 4-3 0-17 6-20 7-50 5-5 35 92 7 30 23 60 3 23 10 30-3 17-7-3 4 6-2 19-8-22-4 0z"/>
<path fill="#fabb3d" d="M1480 5790l-5-28-7-10 0-20-3-3-3-24-2-1-5 8-8 55-9-18 0-10-10-17 0-7-6-6-4-20-10-14 7-13-3-3 3-4 3-30 4-3 0-17 6-20 7-50 5-5 62 172-4 10 7 0-3 13 6 0-3 7 3 20-5 5-5-18-6-4-7 47zM1507 5767l-2-5 5-8 2 8z"/>
<path fill="#fec239" d="M1477 5767l-9-15 0-20-10-30 0-13-13-37-3 0-4 7-8 55-8-5-4-20-6-10 3-10-3-10 6-10-3-7 10-30-3-7 6-20 0-16 4-4 3-30 5-5 12 35 6 10 7 27 7 10 26 87 0 10-3 3 3 17-3 0-5-19-5 5z"/>
<path fill="#feca33" d="M1463 5717l-15-58-6-10-7-24-7-6 4-4-4-6-6 0 6-24 7-50 5-5 12 35 6 10 7 27 7 10 13 50 10 20 0 10-5 8-13-43-9 48z"/>
<path fill="#fbd32e" d="M1460 5690l-5-5-7-26-23-54 7-53 3-3 0-14 5-5 35 92 0 7-7 6zM1483 5670l-8-25 2-15 8 29z"/>
<path fill="#f7dc2a" d="M1440 5640l-15-35 7-53 3-3 0-14 5-5 15 39-7 43-3 3 0 17z"/></g></g>
<line x1="72.5" y1="557.2" x2="72.5" y2="455.2" stroke="#8e8e8e" stroke-width="1.1" /><line x1="72.5" y1="557.2" x2="156.1" y2="698.5" stroke="#8e8e8e" stroke-width="1.1" /><line x1="156.1" y1="698.5" x2="386.9" y2="647.3" stroke="#8e8e8e" stroke-width="1.1" /><line x1="72.5" y1="557.2" x2="70.5" y2="553.8" stroke="#8e8e8e" stroke-width="1" /><line x1="72.5" y1="528.5" x2="70.5" y2="525.1" stroke="#8e8e8e" stroke-width="1" /><line x1="72.5" y1="499.9" x2="70.5" y2="496.5" stroke="#8e8e8e" stroke-width="1" /><line x1="72.5" y1="471.2" x2="70.5" y2="467.8" stroke="#8e8e8e" stroke-width="1" /><line x1="156.1" y1="698.5" x2="152.2" y2="699.4" stroke="#8e8e8e" stroke-width="1" /><line x1="142.2" y1="675" x2="138.3" y2="675.8" stroke="#8e8e8e" stroke-width="1" /><line x1="128.2" y1="651.4" x2="124.3" y2="652.3" stroke="#8e8e8e" stroke-width="1" /><line x1="114.3" y1="627.9" x2="110.4" y2="628.7" stroke="#8e8e8e" stroke-width="1" /><line x1="100.4" y1="604.3" x2="96.5" y2="605.2" stroke="#8e8e8e" stroke-width="1" /><line x1="86.4" y1="580.8" x2="82.5" y2="581.6" stroke="#8e8e8e" stroke-width="1" /><line x1="72.5" y1="557.2" x2="68.6" y2="558.1" stroke="#8e8e8e" stroke-width="1" /><line x1="194.6" y1="690" x2="196.9" y2="693.8" stroke="#8e8e8e" stroke-width="1" /><line x1="258.7" y1="675.7" x2="261" y2="679.6" stroke="#8e8e8e" stroke-width="1" /><line x1="322.8" y1="661.5" x2="325.1" y2="665.4" stroke="#8e8e8e" stroke-width="1" /><line x1="386.9" y1="647.3" x2="389.2" y2="651.2" stroke="#8e8e8e" stroke-width="1" />
<text x="66.5" y="553.6" font-size="13.3" text-anchor="end" font-weight="bold" font-style="normal" fill="#222" >0</text><text x="66.5" y="524.9" font-size="13.3" text-anchor="end" font-weight="bold" font-style="normal" fill="#222" >0.05</text><text x="66.5" y="496.3" font-size="13.3" text-anchor="end" font-weight="bold" font-style="normal" fill="#222" >0.1</text><text x="66.5" y="467.6" font-size="13.3" text-anchor="end" font-weight="bold" font-style="normal" fill="#222" >0.15</text><text x="51.7" y="571.3" font-size="13.3" text-anchor="middle" font-weight="bold" font-style="normal" fill="#222" >550</text><text x="65.4" y="594.9" font-size="13.3" text-anchor="middle" font-weight="bold" font-style="normal" fill="#222" >500</text><text x="79.2" y="618.6" font-size="13.3" text-anchor="middle" font-weight="bold" font-style="normal" fill="#222" >450</text><text x="92.9" y="642.2" font-size="13.3" text-anchor="middle" font-weight="bold" font-style="normal" fill="#222" >400</text><text x="106.6" y="665.9" font-size="13.3" text-anchor="middle" font-weight="bold" font-style="normal" fill="#222" >350</text><text x="120.4" y="689.5" font-size="13.3" text-anchor="middle" font-weight="bold" font-style="normal" fill="#222" >300</text><text x="134.1" y="713.2" font-size="13.3" text-anchor="middle" font-weight="bold" font-style="normal" fill="#222" >250</text><text x="210.9" y="711.3" font-size="13.3" text-anchor="middle" font-weight="bold" font-style="normal" fill="#222" >250</text><text x="275" y="697" font-size="13.3" text-anchor="middle" font-weight="bold" font-style="normal" fill="#222" >300</text><text x="339.1" y="682.8" font-size="13.3" text-anchor="middle" font-weight="bold" font-style="normal" fill="#222" >350</text><text x="403.2" y="668.6" font-size="13.3" text-anchor="middle" font-weight="bold" font-style="normal" fill="#222" >400</text><text x="62.2" y="700.4" font-size="14.6" text-anchor="middle" font-weight="bold" font-style="normal" fill="#222" >Em. (nm)</text><text x="284.9" y="723.2" font-size="14.6" text-anchor="middle" font-weight="bold" font-style="normal" fill="#222" >Ex. (nm)</text><text x="229.9" y="396.3" font-size="13.5" text-anchor="middle" font-weight="normal" font-style="normal" fill="#333" class="n">Component 2</text><text x="39.4" y="403.5" font-size="18" text-anchor="middle" font-weight="bold" font-style="normal" fill="#222" >(b)</text>
<defs><linearGradient id="cbb" x1="0" y1="0" x2="0" y2="1"><stop offset="0.0000" stop-color="#f9fb15"/><stop offset="0.0312" stop-color="#f6ef20"/><stop offset="0.0625" stop-color="#f5e327"/><stop offset="0.0938" stop-color="#f9d62d"/><stop offset="0.1250" stop-color="#feca33"/><stop offset="0.1562" stop-color="#febe3c"/><stop offset="0.1875" stop-color="#f1ba37"/><stop offset="0.2188" stop-color="#debc2a"/><stop offset="0.2500" stop-color="#c8c129"/><stop offset="0.2812" stop-color="#afc637"/><stop offset="0.3125" stop-color="#94ca4a"/><stop offset="0.3438" stop-color="#77cc60"/><stop offset="0.3750" stop-color="#5ccc76"/><stop offset="0.4062" stop-color="#44ca8a"/><stop offset="0.4375" stop-color="#34c79c"/><stop offset="0.4688" stop-color="#28c2ab"/><stop offset="0.5000" stop-color="#12beb9"/><stop offset="0.5312" stop-color="#01b9c6"/><stop offset="0.5625" stop-color="#0cb3d3"/><stop offset="0.5938" stop-color="#1aacdd"/><stop offset="0.6250" stop-color="#21a3e3"/><stop offset="0.6562" stop-color="#269ae9"/><stop offset="0.6875" stop-color="#2c90f0"/><stop offset="0.7188" stop-color="#2e85f8"/><stop offset="0.7500" stop-color="#347afd"/><stop offset="0.7812" stop-color="#3f6efe"/><stop offset="0.8125" stop-color="#4562fc"/><stop offset="0.8438" stop-color="#4757f7"/><stop offset="0.8750" stop-color="#484cef"/><stop offset="0.9062" stop-color="#4741e5"/><stop offset="0.9375" stop-color="#4536d5"/><stop offset="0.9688" stop-color="#422ebf"/><stop offset="1.0000" stop-color="#3e26a8"/></linearGradient></defs>
<rect x="419.2" y="403.3" width="18.4" height="295.6" fill="url(#cbb)" stroke="#8a8a6a" stroke-width="0.6"/>
<line x1="435.4" y1="698.9" x2="437.6" y2="698.9" stroke="#666" stroke-width="0.7" />
<text x="442.6" y="703.4" font-size="12.1" text-anchor="start" font-weight="bold" font-style="normal" fill="#222" >0</text>
<line x1="435.4" y1="666.5" x2="437.6" y2="666.5" stroke="#666" stroke-width="0.7" />
<text x="442.6" y="671" font-size="12.1" text-anchor="start" font-weight="bold" font-style="normal" fill="#222" >0.02</text>
<line x1="435.4" y1="634.1" x2="437.6" y2="634.1" stroke="#666" stroke-width="0.7" />
<text x="442.6" y="638.6" font-size="12.1" text-anchor="start" font-weight="bold" font-style="normal" fill="#222" >0.04</text>
<line x1="435.4" y1="601.7" x2="437.6" y2="601.7" stroke="#666" stroke-width="0.7" />
<text x="442.6" y="606.2" font-size="12.1" text-anchor="start" font-weight="bold" font-style="normal" fill="#222" >0.06</text>
<line x1="435.4" y1="569.3" x2="437.6" y2="569.3" stroke="#666" stroke-width="0.7" />
<text x="442.6" y="573.8" font-size="12.1" text-anchor="start" font-weight="bold" font-style="normal" fill="#222" >0.08</text>
<line x1="435.4" y1="536.9" x2="437.6" y2="536.9" stroke="#666" stroke-width="0.7" />
<text x="442.6" y="541.4" font-size="12.1" text-anchor="start" font-weight="bold" font-style="normal" fill="#222" >0.1</text>
<line x1="435.4" y1="504.5" x2="437.6" y2="504.5" stroke="#666" stroke-width="0.7" />
<text x="442.6" y="509" font-size="12.1" text-anchor="start" font-weight="bold" font-style="normal" fill="#222" >0.12</text>
<line x1="435.4" y1="472.1" x2="437.6" y2="472.1" stroke="#666" stroke-width="0.7" />
<text x="442.6" y="476.6" font-size="12.1" text-anchor="start" font-weight="bold" font-style="normal" fill="#222" >0.14</text>
<line x1="435.4" y1="439.7" x2="437.6" y2="439.7" stroke="#666" stroke-width="0.7" />
<text x="442.6" y="444.2" font-size="12.1" text-anchor="start" font-weight="bold" font-style="normal" fill="#222" >0.16</text>
<line x1="435.4" y1="407.3" x2="437.6" y2="407.3" stroke="#666" stroke-width="0.7" />
<text x="442.6" y="411.8" font-size="12.1" text-anchor="start" font-weight="bold" font-style="normal" fill="#222" >0.18</text>
<g stroke-width="1"><line x1="111" y1="910.3" x2="111" y2="810" stroke="#ebebeb" stroke-width="1" /><line x1="111" y1="910.3" x2="194.6" y2="1051.6" stroke="#ebebeb" stroke-width="1" /><line x1="175.1" y1="896" x2="175.1" y2="795.7" stroke="#ebebeb" stroke-width="1" /><line x1="175.1" y1="896" x2="258.7" y2="1037.3" stroke="#ebebeb" stroke-width="1" /><line x1="239.2" y1="881.8" x2="239.2" y2="781.5" stroke="#ebebeb" stroke-width="1" /><line x1="239.2" y1="881.8" x2="322.8" y2="1023.1" stroke="#ebebeb" stroke-width="1" /><line x1="303.3" y1="867.6" x2="303.3" y2="767.3" stroke="#ebebeb" stroke-width="1" /><line x1="386.9" y1="1008.9" x2="386.9" y2="908.6" stroke="#ebebeb" stroke-width="1" /><line x1="156.1" y1="1060.1" x2="386.9" y2="1008.9" stroke="#ebebeb" stroke-width="1" /><line x1="373" y1="985.3" x2="373" y2="885" stroke="#ebebeb" stroke-width="1" /><line x1="142.2" y1="1036.5" x2="373" y2="985.3" stroke="#ebebeb" stroke-width="1" /><line x1="359" y1="961.8" x2="359" y2="861.5" stroke="#ebebeb" stroke-width="1" /><line x1="128.2" y1="1013" x2="359" y2="961.8" stroke="#ebebeb" stroke-width="1" /><line x1="345.1" y1="938.2" x2="345.1" y2="837.9" stroke="#ebebeb" stroke-width="1" /><line x1="114.3" y1="989.4" x2="345.1" y2="938.2" stroke="#ebebeb" stroke-width="1" /><line x1="331.2" y1="914.7" x2="331.2" y2="814.4" stroke="#ebebeb" stroke-width="1" /><line x1="100.4" y1="965.9" x2="331.2" y2="914.7" stroke="#ebebeb" stroke-width="1" /><line x1="317.2" y1="891.1" x2="317.2" y2="790.8" stroke="#ebebeb" stroke-width="1" /><line x1="86.4" y1="942.3" x2="317.2" y2="891.1" stroke="#ebebeb" stroke-width="1" /><line x1="72.5" y1="918.8" x2="303.3" y2="867.6" stroke="#ebebeb" stroke-width="1" /><line x1="303.3" y1="867.6" x2="386.9" y2="1008.9" stroke="#ebebeb" stroke-width="1" /><line x1="72.5" y1="896.6" x2="303.3" y2="845.4" stroke="#ebebeb" stroke-width="1" /><line x1="303.3" y1="845.4" x2="386.9" y2="986.7" stroke="#ebebeb" stroke-width="1" /><line x1="72.5" y1="874.4" x2="303.3" y2="823.2" stroke="#ebebeb" stroke-width="1" /><line x1="303.3" y1="823.2" x2="386.9" y2="964.5" stroke="#ebebeb" stroke-width="1" /><line x1="72.5" y1="852.2" x2="303.3" y2="801" stroke="#ebebeb" stroke-width="1" /><line x1="303.3" y1="801" x2="386.9" y2="942.3" stroke="#ebebeb" stroke-width="1" /><line x1="72.5" y1="830" x2="303.3" y2="778.8" stroke="#ebebeb" stroke-width="1" /><line x1="303.3" y1="778.8" x2="386.9" y2="920.1" stroke="#ebebeb" stroke-width="1" /></g>
<g><polyline fill="none" stroke="#9997f1" stroke-width="0.6" points="292.2,976.4 288.4,977.3 284.6,978.2 280.8,979.1 276.9,979.9 273,980.7 269.2,981.5 265.3,982.3 261.4,983.1 257.4,983.8 253.5,984.5 249.5,985.1 246.9,985.6 242.9,986.2 239,986.9 235.1,987.6 231.2,988.4 227.4,989.3 223.6,990.4 221,991.4 217.7,992.5 214.1,993.8 213.2,994.7 215.4,996 217.7,997.4 217.3,999.3 215.1,1000.5 212.6,1001.7 209.5,1003.2 206.8,1004.1 203.4,1005.2 199.6,1006.1 195.8,1007 191.9,1007.8 187.9,1008.5 185.2,1008.8 181,1009 178.1,1009 175.1,1008.8 172.6,1007.4 172.5,1005.3 172.5,1003.2 169,1003.5 165.8,1003.6 161.8,1003.5 158.7,1003.2 156.4,1002.5 153.7,1001 151.6,999.3 149.3,997.2 147.3,994.9 145.1,992.2 143.5,990.4 141,987.8 139.2,986 136.8,983.4 135.3,981.6 133.1,978.9 131.2,976.1 130,974.3 128.2,971.5 126.5,968.6 124.8,965.8 123.9,963.9 122.5,961 121.2,958.1 120,955.2 119.3,953.2 118.3,950.2 117.8,948.2 117,945.1 116.4,943.2 115.3,940.2 114.7,938.2 113.8,935.2 113.3,933.2 113,930.8 112.8,928.1 112.9,925.9 113.5,924.3 114.4,922.3 115.5,920.5 117.1,918.5 118.5,917.1 120.1,915.7 122.7,914 125.4,912.7 127.7,911.7 131.3,910.2 133.7,909.5 137.5,908.5 141.4,907.7 144,907.2 148.1,906.8 151.3,906.6 155.1,906.5 158,906.4 161.4,906.5 165.1,906.8 168.5,907.1 171.7,907.5 174.7,907.8 177.6,907.6 181.7,907.2 185.4,906.1 189,904.9 191.4,904 195,902.7 197.5,901.7 200.8,900.3 203.2,899.4 206.7,898 209.5,896.9 212.7,895.9 216.4,894.8 220.1,893.8 223.9,892.8 227.7,891.8 230.2,891.2 232.8,890.7 236.7,889.9 240.7,889.4 244.8,888.8 248.8,888.2 251.4,887.8 255.5,887.3 258.7,887.1 262.5,886.9 265.4,887 268.5,887.2 271.6,887.6 274.8,888.2 278.2,888.9 281.4,889.5 283.8,890.1 286.6,890.9 290.1,891.8 292.4,892.4 295.2,893.2 298.5,894.2 300.6,894.9 304,896.2 306.3,897.2 309.3,898.2 311.6,898.9 315.2,900 317.5,900.7 320.6,901.7 323.1,902.6"/>
<polyline fill="none" stroke="#9997f1" stroke-width="0.6" points="284.1,984.7 280.2,985.5 276.3,986.2 272.4,987 268.4,987.6 264.4,988.2 265.2,987.1 267.4,985.9 269.6,984.6 273,983.1 275.3,982.1 278.9,980.9 281.5,980.1 283.9,979.5 288,979 291.3,979"/>
<polyline fill="none" stroke="#97abfd" stroke-width="0.6" points="329.8,924.6 330.7,926.5 331.5,929.5 331.8,931.6 331.7,933.8 331.5,935.9 330.3,937.8 329.6,939.6 328.4,941.9 327.6,943.2 326.2,945.5 325.2,946.9 323.8,948.9 323.1,950.6 322.4,952.9 321.6,954.9 320.7,956.4"/>
<polyline fill="none" stroke="#97abfd" stroke-width="0.6" points="303.6,968.6 301.1,969.4 297.4,970.4 293.7,971.4 289.9,972.5 286.2,973.5 282.4,974.4 278.5,975.3 274.7,976.1 270.8,976.9 266.9,977.6 262.9,978.3 259,979 255,979.6 252.2,979.8 248,980.1 245.2,980.3 241.1,980.6 238.3,980.9 234.2,981.3 230.8,981.7 227.5,982.2 224,983.2 221.4,984.2 219.2,985.4 217.2,986.9 214.7,988.5 211.8,989.9 209.5,990.9 205.9,992.3 203.5,993.2 199.9,994.3 196.1,995.3 192.3,996.2 188.4,997.1 184.6,997.9 180.6,998.5 176.7,999.1 173.8,999.3 170.1,999.4 166.5,999.3 163.7,998.7 161.5,998.2 157.9,996.9 155.9,996 153.5,994.6 150.7,992.2 148.8,990.3 147.1,988.5 144.5,985.9 142.8,984.2 140.3,981.5 138.8,979.8 136.7,977 134.8,974.3 133,971.5 131.2,968.6 129.6,965.8 128.1,962.9 126.7,960.1 125.4,957.1 124.6,955.2 123.6,952.2 123,950.2 122.2,947.2 121.8,945.2 121.3,942.4 121.1,940 121.1,937.9 121.5,935.6 121.9,933.7 122.5,932.2 123.6,929.8 124.6,928.3 126.2,926.1 127.7,924.7 130,923.1 132.2,921.7 134.6,920.7 138,919.2 140.6,918.6 144.4,917.7 147.7,917 150.9,916.4 155.1,916.3 158,916.1 160.9,916.3 164.4,916.5 167.6,916.9 170.4,917.3 173.5,917.9 176.8,918.6 180.1,919.3 183.3,919.7 186.1,919.6 190.2,919.1 193.8,917.9 196.1,916.9 199.6,915.4 201.9,914.4 205,912.9 207.5,911.6 209.7,910.5 213.1,908.9 215.4,907.9 218.4,906.7 221.4,905.7 225.1,904.6 228.8,903.5 232.6,902.5 235.1,901.9 238.1,901.2 241.6,900.6 245.6,900 249.7,899.6 252.4,899.3 256.5,898.8 260,898.5 263.4,898.2 266.3,898.2 270.7,898.3 273.4,898.7 275.8,899.3 279,900 282.4,901 284.3,901.7 287.9,903 289.9,903.6 293.4,904.9 295.3,905.6 298.8,907 300.9,907.6 304.4,908.9 306.5,909.8 309.7,910.9 312.1,912 314.5,913.1 317.2,914.6 320.1,916.1 322.7,917.6 325,919.3 327.3,920.9 329.1,923.7"/>
<polyline fill="none" stroke="#8bbff8" stroke-width="0.6" points="313.2,922.9 315.5,925.6 317.4,928.4 318.3,931.4 318.9,933.4 318.9,935.6 318.8,937.9 318,940 317,942.3 316.4,943.6 315.2,946 314.3,947.4 312.7,949.6 311.4,951 310.4,953.1 309.4,954.7 308.1,956.5 306.3,958.5 304.2,959.8 302,961.1 299.8,962.2 296.3,963.7 293.9,964.6 290.3,965.8 286.8,967.1 284.4,968 280.6,969 276.8,970 272.9,970.7 269,971.4 265.1,972.1 262.4,972.5 258.3,973 254.7,973.2 251.2,973.3 248.3,973.3 245.1,973.2 241,973.1 238.1,973.1 235.1,973 231.8,973 227.8,973 225.1,973.2 221,973.6 218.6,974.8 215.4,976.5 214.6,977.9 213.1,979.9 211.4,981.8 210.3,983.1 208.7,984.7 206.7,986.2 204.5,987.6 201.6,989.3 199,990.4 195.7,991.6 192.9,992.4 189.1,993.3 185.2,994.1 182,994.7 178.5,995 174.8,995.2 171.2,995 168.2,994.7 165.5,994.1 162.9,993.2 160.2,992.1 157.2,990.6 154.7,989.1 152.3,987.5 150,986.1 147.8,984.8 145.2,982.6 143.3,980.9 141.6,979.1 139.3,976.4 137.2,973.7 135.4,970.9 134.1,969.1 133,967.2 131.4,964.3 130.1,961.4 128.9,958.5 128.2,956.5 127.3,953.5 126.9,951.5 126.5,948.7 126.7,946.6 127,944.7 127.4,942.8 128.1,940.6 129.1,938.5 129.7,937 130.8,934.6 131.7,933 133.5,931.2 135.4,929.5 137.5,928.2 139.8,927.2 143.4,925.8 147.2,924.9 151,924.1 155,923.3 158,923.3 162.2,923.2 165.3,923.7 168.4,924.2 171,924.7 173.5,925.3 177,926.3 179.5,927 182.1,927.6 185.6,928.5 188.7,928.9 191.6,928.8 195.6,928.4 199.3,927.1 201.6,926.2 205,924.6 207.3,923.5 209.5,922.4 212.7,920.7 215.1,919.5 217.3,918.3 219.4,917.1 222.8,915.4 225.1,914.5 228.7,913.2 231.9,912.2 234.9,911.3 238.6,910.3 242.5,909.4 246.4,908.7 249.3,908.4 253.3,908.1 256.5,907.8 260.2,907.5 263.5,907.3 267.3,907.2 270.2,907.2 273.4,907.3 277,907.5 279.5,908.1 282.8,908.9 286.1,909.8 288.2,910.4 291.6,911.6 293.7,912.4 297.2,913.7 299.2,914.6 301.9,915.9 304.5,917.4 307.3,918.9 309.8,920.5 312.1,922.1"/>
<polyline fill="none" stroke="#82d0ed" stroke-width="0.6" points="308.6,930.4 309.2,932.4 310.1,935.4 310.1,937.5 310.1,939.6 309.5,941.8 308.8,943.1 307.2,945.4 306,946.9 304.7,948.5 302.9,950.3 300.9,951.9 298.7,953 295.7,954.5 293.1,955.9 290.9,957 287.4,958.4 285.1,959.4 281.8,960.8 279.3,961.9 275.6,962.9 271.8,963.8 267.8,964.5 263.8,965.1 260.3,965.6 257,965.9 252.8,966.2 249.9,966.1 246.9,965.9 243.9,965.8 240.1,965.8 236.7,965.8 233.8,965.8 230.4,965.8 226.6,966 223.7,966 219.7,966.5 215.8,967.3 213.1,968.6 210.7,970.2 209.6,971.5 207.8,973.4 206.4,975.4 205.5,976.9 203.9,979.1 202.9,980.5 201.3,982 199.4,983.7 197.3,985.1 194.2,986.6 191.6,987.7 187.8,988.6 183.9,989.5 180,990.2 177.2,990.3 172.9,990.4 170,989.9 167.4,989.4 164.6,988.7 161.7,987.5 158.8,986 156.6,984.9 153.9,983.9 151,982.4 148.5,981 146.2,979.6 143.8,978 141.9,975.9 139.7,973.2 138.3,971.2 136.5,968.5 134.9,965.7 133.5,963.1 132.6,960.9 131.6,957.9 131.2,955.9 131,953.8 131.2,951.6 131.6,949.4 132.1,947.1 132.9,944.9 133.5,943.5 134.6,941.2 135.6,939.6 137.4,937.9 139.4,936.2 141.4,934.8 143.6,933.6 146.6,932.2 149.6,931.4 153.4,930.5 156.3,930.1 160.2,929.7 163.1,929.8 166.3,930 169.4,930.3 172.4,930.8 175.7,931.4 179.1,932.3 181.6,933 184.3,933.6 187.8,934.7 189.9,935.4 192.9,935.8 197.1,935.7 199,935.5 202.1,934.4 205.7,933 207.9,931.9 210.3,930.9 213.2,929.1 215.6,927.8 217.8,926.5 219.9,925.3 222.6,923.9 225.5,922.4 227.8,921.5 231.4,920.2 235.1,919 237.5,918.3 241.3,917.2 245,916.2 249,915.5 253,914.9 255.8,914.7 259.9,914.4 262.7,914.2 266.8,913.8 269.6,913.7 273.7,913.6 276.9,913.8 280,914 282.9,914.7 285.2,915.3 288.6,916.3 291.2,917.2 294.2,918.4 296.3,919.5 298.7,920.8 301.1,922.4 303.4,924.1 306.1,926.7 307.9,929.4"/>
<polyline fill="none" stroke="#7cdbd8" stroke-width="0.6" points="298.3,927.3 300.2,930.1 301.8,932.9 302.2,935 302.6,937.6 302.4,939.7 302.1,941.6 301,943.8 299.9,945.2 298,946.8 295.8,948.1 292.5,949.9 290.2,950.9 287.1,952.2 284.3,953.2 280.8,954.5 278.4,955.5 274.8,956.7 271,957.7 267.1,958.5 263.2,959.2 259.2,959.8 255.2,960.4 252.5,960.7 248.3,961 245.4,961 242.5,961 238.3,960.9 235.1,960.7 232.2,960.7 229.2,960.6 225.2,960.6 222,960.6 219.1,960.6 215.3,960.7 212.6,961.2 210.9,962.7 208.1,964.1 207.1,965.7 205.8,967.5 204,969.5 203,970.8 201.5,972.6 199.7,974.4 197.7,976 196.1,977.7 194.8,979.1 192.2,980.7 189.8,982.2 187.2,982.9 183.5,983.9 179.6,984.6 177,985.1 172.9,985 169.6,984.8 167,984.1 164.4,983.5 161.2,982.9 158.1,981.9 155.6,980.9 153.1,979.8 150.1,978.3 147.4,976.8 145.6,975.1 143.8,973.3 141.4,970.6 139.3,967.9 138.8,967 137.2,964.1 136.2,961.1 135.8,959.1 135.5,956.7 135.5,954.1 135.6,952 136.1,950.4 137,948.2 138,946.1 138.8,944.6 140.4,942.9 142.3,941.1 144.3,939.7 146.6,938.6 150.1,937.1 153.8,936.2 157.7,935.4 161.7,934.7 164.6,934.7 168.5,934.8 171.6,935.2 174.2,935.7 177.1,936.2 180.6,937.2 183.3,937.9 185.8,938.6 189.3,939.7 191.3,940.4 194.3,941.9 196.8,942.4 200.4,942.7 203.9,942.4 206.2,941.3 209.6,939.7 211.7,938.3 213.8,936.9 215.8,935.4 217.9,934 220,932.7 222.1,931.4 224.9,929.7 227.6,928.4 229.8,927.2 233.4,925.9 235.8,925.1 239.4,923.9 243.2,922.8 246.9,921.8 250.8,921 254.7,920.3 258.8,920.1 261.7,919.9 265.8,919.5 268.6,919.3 272.8,919.1 275.7,919 278.7,919.2 281.8,919.5 285.1,920.2 287.5,921.2 290.6,922.6 293.1,923.9 295.4,925.4 297.8,927"/>
<polyline fill="none" stroke="#9ae2bc" stroke-width="0.6" points="198.1,949.5 200,952.3 201.5,955.2 202,957.2 202.4,959.4 202.2,961.5 201.9,963.6 200.8,966 199.8,967.3 198.2,969.4 196.3,971.2 194.8,972.7 193.1,974.1 190.3,975.7 188.1,976.8 184.4,978.1 181.9,978.7 178.6,979.5 175.5,980.1 171.3,980.4 168.4,980.4 165.4,980.2 162.1,979.6 158.8,978.9 156.4,978 153.2,976.6 150.8,975.1 148.6,973.3 146.6,971.6 144.4,968.9 142.9,967.1 141.4,964.3 140.3,962.4 139.9,959.3 139.7,957.2 139.8,955 140.1,952.8 140.7,950.7 141.3,949.3 143.1,947.3 144.9,945.5 146.9,944 149.1,942.8 151.3,941.7 155.1,940.7 158.9,939.8 162.9,939.1 165.6,938.9 168.6,939 172.3,939.3 175,939.8 178.1,940.4 181.5,941.2 184.1,942 187.1,943.4 189.1,944.3 191.9,945.6 194.4,947.2 196.9,948.7"/>
<polyline fill="none" stroke="#9ae2bc" stroke-width="0.6" points="291.1,928.9 293.1,931.7 294.5,934.5 294.9,936.8 295,939.4 293.9,941.1 292.6,942.7 291,944.8 288.7,945.9 286.5,947 283,948.5 280.6,949.4 277.1,950.8 274.7,951.7 271.1,952.9 267.3,953.9 263.4,954.6 259.4,955.2 256.7,955.6 252.7,956.1 248.6,956.5 245.7,956.7 242.8,956.6 238.9,956.5 236.6,955.9 233.1,955 230.1,954.2 227.8,953.6 224.9,952.1 222.1,950.6 220.3,948.9 219.7,946.9 219.6,944.3 221.3,942.3 222.6,940.9 223.9,939.4 225.7,937.5 227.6,935.8 229.6,934.3 231.7,932.8 233.8,931.6 236.9,930.3 239.7,929.3 243.4,928.1 247.1,927.1 249.6,926.4 252.4,925.8 256.1,925.1 260.2,924.8 263.1,924.7 267.4,924.6 270.2,924.5 273.2,924.5 276.5,924.7 280,925 282.6,925.5 285.9,926.4 288.4,927.4 291.1,928.9"/>
<polyline fill="none" stroke="#cae197" stroke-width="0.6" points="192.1,950.9 194,953.7 195.5,956.5 195.9,958.6 196.2,961.2 195.9,963.2 195.6,965 194.1,967.5 192.8,968.8 191.4,970.2 189.1,971.8 186,973.4 183.7,974.3 179.9,975.3 176.1,976.2 172.2,976.9 169.3,976.9 165.9,976.9 162.9,976.5 160,975.9 156.5,975 154.1,973.4 151.7,971.6 149.8,969.8 147.8,967.6 146.1,965.3 144.6,962.5 144.1,960.5 144,958.4 143.9,956.2 144.3,954 145.6,951.6 146.3,950.4 148.1,948.4 150.2,947.2 153.2,945.7 156.1,944.8 159.8,943.8 163.8,943.2 166.5,942.7 170.7,942.8 173.8,943 176.8,943.6 179,944.4 182.4,945.6 184.7,946.6 186.9,947.8 189.6,949.3 192.1,950.9"/>
<polyline fill="none" stroke="#cae197" stroke-width="0.6" points="280,933.5 282.6,936.1 281.4,938.4 280.6,939.8 279,941.7 277,943.2 274.9,944.6 272.8,946 270.7,947.3 267.1,948.5 263.3,949.5 259.2,950 256.5,950.3 252.3,950.6 249.4,950.6 246.5,950.5 242.8,950.3 239.7,948.8 237.6,947.8 235.2,946.6 234.6,944.6 233.7,941.7 235,940.3 236.6,938.7 239.2,937.2 242,935.7 244.4,934.7 247.9,933.3 250.4,932.6 254.1,931.5 258,930.9 260.7,930.5 263.8,930.7 267.4,931 271.3,931.2 274.3,931.3 277.4,931.7 279.9,933.4"/>
<polyline fill="none" stroke="#f3d98d" stroke-width="0.6" points="187.1,953 189.1,955.8 190,958 190.3,960.9 190.1,963 189.6,964.7 188.9,966.5 187.4,968.3 185.2,969.6 181.8,971.2 179.3,971.8 175.5,972.8 172.7,973.3 168.8,973.7 165.9,973.7 162.4,973.5 159.4,972 156.9,970.7 154.6,969.2 152.2,967.2 150.5,965.4 149,962.6 148.1,960.6 148.6,958.4 149.2,956.1 150,954.1 151.1,952.5 153.2,951 155.4,949.4 158.2,948.5 162,947.5 166,946.9 168.8,946.5 171.8,946.8 174.9,947.3 178.4,948.2 180.6,949.2 183.6,950.6 186.5,952.1"/>
<polyline fill="none" stroke="#fce78c" stroke-width="0.6" points="180.4,953.5 182.4,956.2 183.9,959.1 183.7,961.3 183.1,963.5 181.9,964.9 180.5,966.5 176.8,967.7 173.1,968.7 169.1,969.3 166.1,969.1 162.8,968.4 160.4,967.5 157.9,965.9 155.9,964.2 155,962.3 153.7,959.4 154.9,957.5 156.7,955.7 158.2,954.1 161,953.1 164.7,952 168.7,951.5 171.5,951.2 174.8,952 178.2,952.8 180.4,953.5"/></g>
<g stroke="none"><g transform="scale(.1)"><path fill="#3f29b1" d="M1563 10603l-5-2-6-16-24-34-10-23-20-27-10-23-10-10-53-100-10-10-10-23-20-27-10-23-10-10-7-17-6-7-4-13-26-43-10-24-10-10-10-23-14-17-33-73-7-7-23-50-7-6-106-214-7-6-43-84-10-10-24-43-40-53-10-20-30-37-16-30-40-53-4-10-46-67-50-83-17-20-7-17-10-10-23-43 5-5 33-4 4-3 30-3 16-7 30-3 4-4 40-6 43-14 10-6 33-10 7-7 97-50 63-23 7-7 6 0 17-10 57-17 30-13 10 0 50-17 13 0 3-3 34-7 28-48 0-7 17-30 10-30 36-56 54-100 46-57 52-55 57-20 70-3 43 30 52 55 10 20 33 43 27 47 20 26 33 60 15 19 23-10 74-17 13-7 133-30 134-116 116-67 7 0 33-17 37-10 27-13 30 0 3-3 30 0 3-4 60 17 50 7 4 3 16 0 14 7 10 0 10 6 30 7 20 13 30 14 1 5 12 5 27 30 20 0 3-4 37-3 20-7 36-3 22 28 3 10 14 14 3 10 13 13 4 10 16 17 4 10 100 123 6 3 29 32 38 32 60 66 63 117 0 7 17 30 7 26 10 17 10 33-9 2-16-7-17 0-3-3-30-3-27-10-23-4 25 72-2 8-87-26-36-17-2 5 13 30 14 40-2 5-70-37-7 0-40-20-6-6-2 8 7 13 0 10 6 14 0 10 14 43-5 2-20-7-40-17-27 0-3-3-32 2 27 120-130 13 3 3 0 17 3 3 0 17 4 3 0 17 3 3 0 17 3 3 0 17 4 3 0 17 3 3 0 17 3 3 0 17 4 7-15 5-37 3-3 3-17 0-3 4-14 0-20 6-13 0-5 5 10 17 17 17-5 5-57 10-13 6-52 12 10 43 17 44-9 5-50 10-13 6-23 4-35 11 26 80-1 12-87 20-3 3-27 4-5 5 7 13 16 17-1 8-14 0-3 3-103 24-2 5 17 23 5 15-24 7-13 0-3 3-14 0-3 3-63 7-5 5 26 57-11 5-34 3-3 3-53 7-24 7 9 31 16 37-48 15-13 0-4 3-56 10-5 5 16 24 9 21-127 27 28 48-125 29 24 46-77 17-3 3-14 0-16 7-30 3-14 7-76 13-14 7-46 7-44 13-16 0-17 7-13 0z"/>
<path fill="#422fc1" d="M1907 10290l-7 0-7-14-26 10-10 0-7-10-17 7-10 0-6-10-24 7-6-10-24 6-11-15 0-3 10-7-10-13 13-7-3-6 10-7-4-7 10-6-3-4 10-6-3-7 18-5 7-13 43-10 0-10 70-17-3-7-10 0-14 7-10 0-56 17-10 0-5-15-9-2-76 27-7 0-5-15-5-2-43 20-5-2-5-11-10 3-7-13-10 6-5-1-5-12-13 7-10-24-7 7-7 0-10-20-15 5-6-17-20-26 1-5 12-5-5-9-13 7-7-13-13 3-4-10-13 7-13-24-10 10-25-51-5-5-10 10-5-2-37-70-5-5-10 3-20-30-10 4-20-30-13 3-17-30-10 7-17-30-13 6-23-40-40 7-22 8 20 40 7 7-14 0 14 20 6 20 7 7-2 5-6-4-2 5 27 47-14 3 20 34-1 5-9 1 17 27-15 2-5-5-33-67-7-7-73-150-7-6-43-84-10-10-7-16-27-37-3-10-27-33-10-20-30-37-16-30-37-50 15-2 17 24 15 1 15 25 13 0 18 32 12 12 12 1 30 50 11 2 5 5 29 42 3-4 13 0 4-3 41-8-20-30 0-7 10-7-20-30 10-13-10-10-3-10 10-7-17-23 2-5 8-2 0-6-6-10 8-5 2-5-10-10-20-37-20-27 13-16-27-37-3-10-10-10-3-10 5-2 5-8-24-33 0-7 5-2 5-8-20-27 0-3 10-7-10-13 9-5 1-5-13-20 13-10-16-20 0-3 10-7-4-7 9-8 60-30 63-23 7-7 6 0 17-10 57-17 30-13 10 0 50-17 13 0 3-3 34-7 28-48 0-7 17-30 10-30 36-56 54-100 46-57 52-55 57-20 70-3 43 30 52 55 10 20 33 43 27 47 20 26 33 60 15 19 23-10 74-17 13-7 133-30 134-116 116-67 7 0 33-17 37-10 27-13 30 0 3-3 30 0 3-4 60 17 50 7 4 3 16 0 14 7 10 0 10 6 30 7 20 13 30 14 3 6 10 4 15 15 42 48 20-3 6 6 24-3 6 7 17 0 7-4 6 7 20 0 7-3 3 6 14 0 31 39 4 10 30 33 3 10 67 80 6 3 29 32 38 32 60 66 63 117 0 7 17 30 7 26 10 17 10 33-9 2-16-7-17 0-3-3-30-3-27-10-23-4 25 72-2 8-87-26-36-17-2 5 13 30 14 40-2 5-70-37-7 0-40-20-6-6-2 8 7 13 0 10 6 14 0 10 14 43-5 2-20-7-40-17-60-3 1 25 7 17 0 13 3 3 7 44 7 20-130 13 3 3 0 17 3 3 0 17 4 3 0 17 3 3 0 17 3 3 0 17 4 3 0 17 3 3 0 17 3 3 0 17 4 7-15 5-37 3-3 3-17 0-3 4-14 0-20 6-13 0-5 5 10 17 17 17-5 5-14 0-3 3-103 23-2 12 27 77-9 5-10 0-3 3-37 7-13 6-57 14-1 5 20 56-2 12-10 0-97 27-13 0-70 20-13 0-30 10-14 0-33 10-17 0-13 6-120 17-15 5 5 18-27 4-3 3-17 0-16 7-34 3-5 5 9 5 3-3 13 0 4-4 13 0 20-6 17 0 3-4 7 7 36-3 4-4 10 0 6 7 27-3 3-4 7 0 7 7 13 0 23-7 7 7 20 0 7-3 6 10 4-4 46-6 7 6 10 0 8 9 9 18-24 7-13 0-3 3-14 0-3 3-63 7-5 5 13 23 0 7-10 3 3 10-8 5-37 4-5 5 7 10-2 5-36 3-20 7-17-4-3 4-14 0-20 6-16 0-2 5 5 12-33 7-4 3-30 3-16 7-14 0-13 7-13 0-4 3-5-15-5-2-40 14-13 0-40 13-10 0z"/>
<path fill="#4435d1" d="M1757 10110l-7 0-10-17-37 17-6-17-24 10-6-13-10 6-10-13-10 7-7-14-13 10-9-25-31-45-10 7-7-17-13 14-9-32-5-5-10 13-6-13-7 7-7 0-10-24-13 10-17-33-10 10-5-2-33-70-5-5-10 14-5-2-20-43-7-7 0-7-10-16-3-14-7-6-3-14-7 4-8 18-42-78-16-24 0-6-7-7-10-23-77-120-13-14-3-10 13-26-13-14-4-10-13-13-30-43 10-20-37-50 10-14 0-6-23-30 10-17-10-10-3-10 10-10-24-27 14-13-14-20 10-13-13-14 0-6 10-10-10-10 10-10-7-7 0-7 7-6 0-7 10-7-3-6 10-7-4-3 10-7-3-7 48-21 7 0 7-7 6 0 17-10 57-17 10-6 43-10 13-7 10 0 14-7 13 0 3-3 34-7 28-48 0-7 17-30 10-30 36-56 54-100 46-57 52-55 57-20 70-3 43 30 52 55 10 20 33 43 27 47 20 26 33 60 15 19 23-10 74-17 13-7 133-30 134-116 116-67 7 0 33-17 37-10 27-13 30 0 3-3 30 0 3-4 60 17 50 7 4 3 16 0 14 7 10 0 10 6 30 7 63 37 113 133 14 0 3-3 7 6 13 0 7 7 56 3 4 7 13 0 7 7 13-4 5 12 67 80 6 3 29 32 38 32 60 66 63 117 0 7 17 30 7 26 10 17 10 33-9 2-16-7-17 0-3-3-30-3-27-10-23-4 25 72-2 8-87-26-36-17-2 5 13 30 14 40-2 5-70-37-7 0-40-20-6-6-2 8 13 37 4 23 10 27-2 5-63-24-60-3 1 25 7 17 0 13 3 3 7 44 7 20-130 13 3 3 0 17 3 3 0 17 4 3 0 17 3 3 0 17 3 3 0 17 4 3 0 17 3 3 0 17 3 3 0 17 4 7-15 5-37 3-3 3-17 0-3 4-14 0-20 6-13 0-5 5 10 17 17 17-5 5-14 0-3 3-103 23-2 12 10 23 0 10 15 45-127 34-1 5 10 26-12 9-2-12-3-7-5-1-50 16-50 10-13 7-24 3-16 7-7 0-10-17-70 20-47 7-8 5 3 13-11 5-64 4-1 5 5 15-87 10 2 18-9 5-20 0-3 3-17 0-20 7-16 0-4 3-50 7-13 7-17 0-16 6-14 0-43 14-23 3-60 20-9-2 0-10-5-8-13 7-10 0zM1130 9806l-10 0-5-5-63-120-10-10-24-43-30-40-1-8 13 3 8 8 17 30 15 15 7 0 15 22 50 87-2 5-3-4-5 2 30 53z"/>
<path fill="#463cde" d="M1763 10063l-6-17-20 10-7 0-7-13-23 13-5-15-5-1-7 3-10-13-10 10-13 3-22-35 2-5 12-5-12-15-23 13-5-5 0-10-5-8-10 10-7-20-13 10-5-18-4 0-8 11-7-16-13 16-5-21-8-12-10 17-5-5-12-32-13 13-2-1-3-14-7-6 0-7-7-10 0-7-5-5-10 14-5-2 0-7-10-13 0-7-23-43 0-7-3 0-12 15-5-5-35-78-5 5-3 13-7 4-13-34-20-30-4-13-36-67-10-10-10-23-10-10-4-10-16-17 0-6-37-50 13-27-23-23-20-27 0-7 10-16-23-27-4-7 10-10 0-6-20-24 14-16-22-25-8-5 13-20-27-30 14-14 0-3-14-10 0-10 10-10-8-5-2-5 10-10-6-10 0-7 6-10-6-6 10-7-4-7 10-6-3-4 22-11-2-5 8-5 2-9 10-6-3-4 21-11-1-5 5-5 16-7 0-7 20-6 0-7 54-20 23-3 37-14 43-6 12-9 40-80 10-30 36-56 54-100 46-57 52-55 57-20 70-3 43 30 52 55 10 20 33 43 27 47 20 26 33 60 28 39 44-10-2-5 15-9 57-13 6-10 10-3 80-17 154-133 116-67 7 0 33-17 37-10 27-13 30 0 3-3 30 0 3-4 60 17 50 7 4 3 16 0 14 7 10 0 10 6 30 7 63 37 150 176 7 0 6 7 44 3 6 7 14 0 3 7 13 0 7 6 13 0 7 7 10 0 7 7 13 0 22 28 6 3 29 32 38 32 60 66 63 117 0 7 17 30 7 26 10 17 10 33-9 2-16-7-17 0-3-3-30-3-27-10-23-4 25 72-2 8-87-26-36-17-2 5 13 30 14 40-2 5-70-37-7 0-40-20-6-6-2 8 13 37 4 23 10 27-2 5-63-24-60-3 1 25 7 17 0 13 3 3 7 44 7 20-130 13 3 3 0 17 3 3 0 17 4 3 0 17 3 3 0 17 3 3 0 17 4 3 0 17 3 3 0 17 3 3 0 17 4 7-15 5-37 3-3 3-17 0-3 4-14 0-20 6-13 0-5 5 10 17 17 17-5 5-14 0-3 3-103 23-2 12 10 23 0 10 15 45-10 4-5-5-3-14-9-1-26 10-10 0-27 10-47 10-23 10-5-15-8-2-70 23-14 0-1-8-9-5-116 33-4 0-10-13-10 0-1 5 5 12-44 6-3 4-27 0 0 16-16 0-4 4-15 1 5 15-46 0 0 20-60 4-2 8 3 10-5 5-26 0-4 3-20 0-3 4-17 0-3 3-17 0-3 3-47 7-43 13-40 7-70 23-7 0-5-5-1-11-7 0z"/>
<path fill="#4744e8" d="M1780 10016l-5-1-5-15-23 10-7-17-20 13-7 0-8-21-13-14 1-5 12-5-7-10-8-5-20 14-5-12 0-13-5-5-20 16-17 7-1-15-5-8-24 20-6-27-14 10-1-12-5-5-10 14-7-17-13 13-10-26-14 16-21-55-4 0-11 22-25-62-4 0-11 15-25-58-2-2-8 12-7 3-32-75-11 22-4 0-6-20-10-13-4-14-33-60-3-13-24-33-10-24-33-46-17-17-3-10-17-17 14-26-34-34 0-6 10-17-23-27 0-6 10-14-27-26 0-7 10-20-26-30 13-20-20-17 0-6 10-10 0-4-10-6 10-20-17-10 14-14-4-6 10-7-6-10 10-7-4-6 20-14 0-6 10-7-3-3 10-7-2-5 20-10 4-7 30-20 6 0 4-10 30-10-2-5 8-5 44-10 23-10 13 0 0-6 10 0 15-12 27-50 0-7 17-30 10-30 36-56 54-100 46-57 52-55 57-20 70-3 43 30 52 55 10 20 33 43 27 47 20 26 33 60 38 55 10 0 30-10 2-5 8-5 10 0 50-16 4-7 23-3 30-10 63-50 124-110 83-47 7-7 13-3 7-7 46-20 37-10 27-13 30 0 3-3 30 0 3-4 60 17 50 7 4 3 16 0 14 7 10 0 10 6 30 7 63 37 55 61 10 17 60 67 10 16 42 49 13 0 7 6 13 0 7 7 10 0 6 7 30 6 7 7 13 0 7 7 10 0 7 6 13 0 7 7 10 0 10 7 10 13 26 20 5 8 37 34 30 36 3 10 14 17 63 127 7 26 10 17 10 33-9 2-16-7-17 0-3-3-30-3-27-10-23-4 25 72-2 8-87-26-36-17-2 5 13 30 14 40-2 5-70-37-7 0-40-20-6-6-2 8 13 37 4 23 10 27-2 5-63-24-60-3 1 25 7 17 0 13 3 3 7 44 7 20-130 13 3 3 0 17 3 3 0 17 4 3 0 17 3 3 0 17 3 3 0 17 4 3 0 17 3 3 0 17 3 3 0 17 4 7-15 5-37 3-3 3-17 0-3 4-14 0-20 6-13 0-5 5 10 17 17 17-5 5-14 0-3 3-103 23-2 12 7 13 0 10-29 9-6 0-10-17-60 20-10 0-24 10-8-2-5-15-27 10-1-8 10-7-4-3 5-5 14-3 5-5-4-4 10-6-3-7 23-7 0-3-8-5-90 30-8-2-4-20-5-5-6 0-44 17-10 0-33 13-10 0-23 10-37 7-27 10-23 0-23 7-54 0-1 8 3 3 2 19-39 1 5 5 14 0 10 17 13 0 8 8 4 7-14 3 7 14-25 1 3 17-36 0 3 17-10 3-37 0 0 20-76 7-17 6-63 10-14 7-26 3-37 14-10 0-30 13-8-2-5-15-7 0z"/>
<path fill="#484cef" d="M1850 9966l-10-20-43 20-9-5 0-6-5-5-10 6-5-8 10-7-10-13 5-5 7 0-2-8 10-7-5-5-6 0-44 20-6-33-60 36-5-1-5-25-37 26-5-8-2-15-16 13-10 4-7-20-5 8-7 3-11-35-10 14-5-2 0-10-9-18-8 15-7 3-15-45-11 22-4 0-25-65-8 11-3 14-4 0-16-34 0-6-7-7 3-3-10-24-3 0-12 15-1-1-4-14-13-23 0-10-8-18-12 21-3 0-17-36 0-7-10-13 0-7-18-32-9 25-6 4-10-27-24-33-10-24-16-20-4-10 14-30-37-43-13-10 0-7 13-23-22-15-8-12 13-20-26-23 10-33-30-27 0-7 10-20-20-16 10-24-14-10 0-6 10-14-13-10 0-6 10-10-8-5-2-5 10-7 7-20 10-7-4-6 10-7-3-3 10-10-3-4 10-6-4-4 15-8 20-23 24-10 16-14 14-3 13-10 60-17 18-15 37-63 0-7 17-30 10-30 36-56 54-100 46-57 52-55 57-20 70-3 43 30 52 55 23 40 27 33 20 37 30 43 6 17 54 80 5 5 10 0 3 3 10 0 40-13 7-4 3-6 10 0 20-10 33-10 90-70 124-110 83-47 7-7 13-3 7-7 13-3 17-10 53-17 27-13 30 0 3-3 30 0 3-4 60 17 50 7 4 3 16 0 14 7 10 0 10 6 30 7 63 37 55 61 10 17 37 43 23 24 68 88 14 3 6 7 24 3 23 10 13 0 7 7 13 0 10 7 44 13 13 10 10 0 55 52 30 36 3 10 14 17 63 127 7 26 10 17 10 33-9 2-16-7-17 0-3-3-30-3-27-10-23-4 25 72-2 8-87-26-36-17-2 5 13 30 14 40-2 5-70-37-7 0-40-20-6-6-2 8 7 13 0 10 6 14 0 10 14 43-5 2-20-7-40-17-60-3 1 25 7 17 0 13 3 3 7 44 7 20-130 13 3 3 3 37 4 3 10 77 3 3-2 9-33 3-3 3-20 0-20 7-17 0-17 7-43 6-3 4-117 26-160 54-5-29-5-1-90 33-10 0-23 10-10 0-10 7-50 10-4 3-60 7-3 3-43-3 3 30-87-7-1 8 3 4 2 25-52 1 5 5 13 0 7 7 10 0 13 17 14 0 1 5-10 3 7 13-2 5-46 0 0 20-50 4-4 3-30 3-16 7-30 3-4 4-50 10z"/>
<path fill="#4854f5" d="M1717 9896l-5-5 0-16-5-12-37 27-2-19-5-11-20 13-16 17-7-27-23 20-5-5 0-10-5-5-10 10-7-17-13 17-9-35-10 7-5 11-16-46-9 15-6 3-7-23-10-17 0-10-5-5-8 22-7 0-10-20-3-20-14-24 0-10-5-5-8 29-7 0-20-60-6-7 3-3-3-10-7 3-8 18-9-11 0-10-23-54-7 4-8 21-8-8 0-7-27-46 0-7-10-10-17-33-30-37 10-17 4-13-12-15-25-22 10-30-5-1-3-7-10-3-2-5-13-10 13-34-27-20 10-33-15-5-5-8 7-10 3-17-20-13 14-24-17-10 10-13 0-7-7-3 10-10-6-10 10-10-4-3 10-10-3-4 10-6-3-4 10-10-4-3 10-7 0-6 5-2 27-30 13-7 4-6 16-7 4-7 13-3 13-10 17-3 7-7 30-10 21-25 27-50 0-7 17-30 10-30 36-56 54-100 46-57 52-55 57-20 70-3 43 30 52 55 23 40 27 33 20 37 30 43 6 17 54 80 5 5 10 0 16 6 20 0 20-6 60-34 100-76 124-110 83-47 7-7 13-3 7-7 13-3 17-10 53-17 27-13 30 0 3-3 30 0 3-4 60 17 50 7 4 3 16 0 14 7 10 0 10 6 30 7 63 37 55 61 10 17 37 43 23 24 67 86 28 22 10 0 47 20 36 10 10 7 20 3 17 10 17 3 16 14 7 0 55 61 30 57 7 7 10 20 0 6 6 7 27 57 10 30-5 1-7-3 5 12-10 3 4 10-14 0 7 13-2 5-50-10-26-10-12 2 7 10 20 60-2 8-87-26-36-17-2 5 13 30 14 40-2 5-70-37-7 0-40-20-6-6-2 8 13 37 4 23 10 27-2 5-63-24-60-3 1 25 7 17 0 13 3 3 7 44 7 20-25 1-4 4-40 0-3 3-27 0-3 3-27 0 9 62 3 3 0 17 3 3-1 15-67 7-17 7-46 6-4 4-26 3-14 7-63 13-13 7-10 0-14 6-10 0-13 7-30 7-10 6-67 20-16 10-7-33-30 13-17 4-10 6-16 4-10 6-40 10-20 10-12-1 0-14-5-11-63 20-24 0-15 5 7 23-8 5-34 0-3-3-30-4 0 30-60-6 3 33-56 0-4-3-66 3 1 25 4 3-2 15-23 0-17 7-33 3-4 4-63 13-23 10-5-15 0-20-9-5-20 10-16 3-64 34z"/>
<path fill="#475cfa" d="M1710 9860l-5-12-2-22-36 30-10-30-24 24-6-27-24 23-6-20-14 14-6-20-14 10-8-35-7 3-8 15-10-30-13 23-24-63-8 15 0 7-7 3-16-53-9-15-5 5-6 23-4 0-25-78-5 5-6 30-10-7 3-3-13-37-7-7 3-3-10-23-6 3 0 7-9 15-5-5 0-7-13-27-7-6 4-4-7-13-7-7-26-53-44-53 0-10 10-17 0-7-18-15-7-10-13-6-5-9 13-40-30-16 14-34-19-8-8-8 13-27-16-7 10-30-20-10 10-16 0-7-5-2-2-5 10-10-7-6 10-10-3-4 10-10-3-6 10-10-4-4 7-10 17-23 8-5 27-30 30-17 3-6 30-10 7-7 6 0 25-22 37-63 0-7 17-30 10-30 36-56 54-100 46-57 52-55 57-20 70-3 43 30 52 55 23 40 27 33 20 37 30 43 6 17 54 80 5 5 40 6 3 4 33-17 7 0 17-13 46-27 80-63 124-110 83-47 7-7 13-3 7-7 13-3 17-10 53-17 27-13 30 0 3-3 30 0 3-4 60 17 50 7 4 3 16 0 14 7 10 0 10 6 30 7 63 37 55 61 10 17 37 43 23 24 68 88 54 37 20 3 30 13 10 0 6 7 7 0 10 7 10 0 13 13 30 10 14 13 13 4 17 20 13 3 32 45 30 57 0 6 10 14-10 3 6 17-10 3 10 20-13 0 7 10-10 3 1 12-11-2 6 14-13 0 3 10-10 3 4 13-9 2-16-7-12 2 17 40-9 2-3-4 2 15-10 0 5 19-14-7-10 0-40-13-36-17-2 5 13 30 14 40-2 5-70-37-7 0-40-20-6-6-2 8 7 13 0 10 6 14 0 10 14 43-5 2-20-7-40-17-60-3 1 25 7 17 0 13 3 3 7 44 7 20-25 1-4 4-40 0-3 3-27 0-3 3-27 0 9 62 3 3-75 9-2 18 4 3 0 14-9 5-46 6-47 14-5-32-12-2-40 14-23 3-13 7-10 0-14 6-10 0-20 10-63 20-17 10-11-1 0-17-5-12-120 50-9-1-3-24-8-1-100 33-57 3 0 30-17-6-30-4 4 30-27-3-3-3-17 0-3-4 1 22 4 3-2 9-87-7-1 8 3 4 2 25-10 0-4 3-46 0-4 3-53 7-43 13-27 4-67 26-5-8 0-23-5-9z"/>
<path fill="#4464fd" d="M1760 9830l-7-37-30 17-20 16-6-33-34 30-5-2-5-25-26 24-5-19-12 9-7-20-13 13-7-20-10 13-5-5-1-11-14 10-10-34-13 24-8-15 0-14-9-21-13 26-8-15-7-30-10-16 0-10-5-5-8 25-7 0-18-62-12 35-3 0-25-78-5 5-7 33-10-7 3-3-3-10-17-27-10-33-16-27 0-6-7-7-7-20-10-10-20-37-50-46 0-14 4-3 6-37-33-16 13-37-26-13 13-30-17-10 14-27-17-3 0-7 10-20-13-7 10-13-2-5-8-2 13-13-7-3 14-14-4-3 10-10-10-3 20-24-3-3 23-20 12-18 33-20 4-7 20-13 13-4 28-25 37-63 0-7 17-30 10-30 36-56 54-100 46-57 52-55 57-20 70-3 43 30 52 55 23 40 27 33 20 37 30 43 6 17 54 80 5 5 40 6 3 4 33-17 7 0 17-13 46-27 80-63 124-110 116-67 7 0 33-17 37-10 27-13 30 0 3-3 30 0 3-4 60 17 50 7 4 3 16 0 14 7 10 0 10 6 30 7 63 37 55 61 10 17 37 43 23 24 68 88 30 20 14 13 20 10 26 7 14 10 20 7 23 16 13 4 10 10 14 3 10 13 13 4 12 11 13 24 8 8 7 0 8 12 0 3-6 3 3 10 13 20 4 14 6 6-13 0 10 20-10 0 10 24-13 0 10 16 0 7-10 0 3 10-10 3 3 14-8-2-2 8 4 4-10 3-2 12-8-2 3 10-10 3 3 10-10 0 4 14-14 0 5 15-23-10 5 15-2 8-36-17-12-1 27 76-19-5-13-10-87-40-6-6-2 8 13 37 4 23 10 27-2 5-63-24-27 0-3-3-32 2 7 36 3 4 0 13 7 17 3 30 7 16-2 5-127 10 5 32-48 5 0 37-20 0-3 3-14 0-20 7-16 0-80 23-12-2-3-30-5-1-14 6-23 4-80 26-70 30-5-8 0-17-8-5-30 17-7 0-47 20-6-23-84 33-8-5-5-15-10 0-33 13-24 0-8 5 3 17-5 5-40 0-3-3 2 15 3 3-2 5-33-7-3-3 1 18 4 4-2 11-47-13 0 33-26-3-4-3-20 0-3-4-17 0-3-3 2 28 3 4-2 8-83 0-3 3-64 10-43 14-13 0-7 6-50 17z"/>
<path fill="#406dfe" d="M1743 9800l-5-12 0-17-5-8-23 20-13 7-2-19-3-10-5-1-34 36-5-25-11 9-10-20-10 13-7-20-13 10-2-12-5-5-10 14-7-20-10 13-5-2 0-6-5-5-10 13-11-28-4-20-5-5-10 23-8-12 0-10-8-21-12 18 0 7-7-4-13-40 0-10-7-10 4-3-9-15-8 28-7 0-3-20-15-41-12 28 0 10-3 0-10-37-7-10 0-10-6-6 0-10-15-29-9 39-3 6-3 0-4-13-16-27 0-6-7-7-7-20-10-10-20-37-16-13 0-17 10-30 0-13-25-22-25-15 13-40-27-10 7-23 7-10-5-5-12-2 10-30-20-6 13-24-10-3 10-17-10-6 14-14-4-6 10-10-10-7 10-10-3-3 10-10 0-7 17-20-4-3 32-39 50-30 17-13 21-25 27-50 0-7 17-30 10-30 36-56 54-100 46-57 52-55 57-20 70-3 43 30 52 55 23 40 27 33 20 37 30 43 6 17 54 80 5 5 40 6 3 4 33-17 7 0 17-13 46-27 80-63 124-110 83-47 7-7 13-3 7-7 13-3 17-10 53-17 27-13 30 0 3-3 30 0 3-4 60 17 50 7 4 3 16 0 14 7 10 0 10 6 30 7 63 37 55 61 10 17 37 43 23 24 67 86 31 22 14 13 30 14 10 10 13 3 13 10 7 0 20 17 7 0 13 13 7 0 28 32 37 66-2 5-8-1 16 33-13 0 10 20-10 3 2 9-9-2 7 30-8-2 1 12-10 0 4 10-10 0 1 15-6-3-5 1 6 14-10 0 4 13-14-3 4 13-5 2-4-4 2 15-10 0 3 20-23-6 10 23-10 0 2 12-7-4-5 2 10 23-2 9-90-44-6-6-2 8 13 37 4 23 10 27-2 5-63-24-27 0-3-3-32 2 7 36 3 4 0 13 7 17 0 13 3 3-2 9-11 1 6 17-1 8-84 7-3 3-63 0 0 37-20 0-4 3-16 0-4 4-46 6-117 34-8-2-4-30-5-2-70 24-50 23-8-5 0-13-5-5-57 26-8-5 0-10-8-5-67 30-5-1-3-17-9-2-76 30-9-5 0-10-5-8-23 10-10 0 0 23-43 0-4 4-13-4 0 20-17-6-5 1 4 10-2 12-13-7-9 2 4 10-2 12-33-10-2 8 3 3 2 22-47-10 0 37-23-7-93 0-4 3-13 0-20 7-17 0-80 23-50 24z"/>
<path fill="#3876fe" d="M1737 9763l-7-37-20 14-17 16-5-8 0-13-5-5-5 8-18 15-7-20-10 10-6-20-14 10-6-20-10 13-5-5-2-15-13 14-7-17-10 13-5-5-2-11-13 16-8-21 0-10-5-5-10 16-5-5-4-16-6-10 3-4-8-15-9 25-6-3-4-17-6-6 3-4-5-11-8 11-5 19-9-19 4-3-17-50-3 0-4 7-8 25-27-87-5 8-6 34-4 0-6-10 0-10-10-17 0-7-7-6 3-4-3-10-20-43-7-7 0-6-6-7-4-13-13-14-3-13-14-17-43-36 13-47-15-8-13 0-5-5 13-37-18-2-5-5 13-30-16-3 13-30-10 0 10-17-10-3 13-13-10-7 17-30-5-2-2-5 10-10-3-3 10-10-3-3 10-10-4-4 32-38 57-40 21-25 27-50 0-7 17-30 10-30 36-56 54-100 46-57 52-55 57-20 70-3 43 30 52 55 23 40 27 33 20 37 30 43 6 17 54 80 5 5 40 6 3 4 33-17 7 0 17-13 46-27 80-63 124-110 116-67 7 0 33-17 37-10 27-13 30 0 3-3 30 0 3-4 60 17 50 7 4 3 16 0 14 7 10 0 10 6 30 7 63 37 55 61 10 17 37 43 23 24 67 86 31 22 14 13 43 24 3 6 14 7 13 13 17 7 16 20 12 5 3 10 10 10 7 17 7 6-14 0 10 14 10 23-1 5-9-2 10 20-5 2-3-3-2 5 14 30-10 0 1 11-8-1 3 13-10 0 4 13-14-3 7 13-5 2-7-3 2 11-10 0 3 14-5 1-3-3-2 8 4 7-10 0 3 17-13-4 6 14-1 5-12-5 7 13-5 2-7-4 0 14-8-5 10 30-14-4 7 14-10 0 3 13-15-2-40-20-6-6-2 8 7 13 0 10 13 40-2 5-6-3-5 2 6 20-21-5-30-14-60-3-2 8 3 4 10 56-48 5-2 5 7 17-8 5-34 0-3 3-30 0-3 4-37 0-3 3-10 0 3 27-17 0-20 6-50 7-76 23-5-8 0-13-9-5-86 26-44 20-8-5 0-13-5-5-57 27-8-5 0-10-5-5-43 20-9-5 0-10-8-5-57 26-5-8-1-15-37 17-30 10-10 0-13 6-5-18-5-2-9 5 4 7-2 12-57 3 0 23-23-10 2 15 3 4-2 5-23-10 2 15 3 3-2 5-20-7 0 24-20-7-5 2 4 3 1 22-46-17 0 37-27-4-3-3-44 0 2 28 3 4-1 8-40 0-4 3-13 0-20 7-17 0-26 10-37 7-20 10-5-15 0-20-5-5-23 13-14 3z"/>
<path fill="#317efb" d="M1777 9736l-5-8 0-17-5-11-14 6-13 14-10 3-7-27-36 30-5-21-15 8-7-20-23 27-7-24-13 10-2-11-5-5-10 13-7-20-13 17-8-35-2-2-13 13-10-36-14 16-8-25-5-5-10 17-5-5-3-20-7-20-5-5-8 25-7-3-3-24-7-6 3-4-5-15-5 5-6 24-7-4-3-6 3-4-7-13 0-13-5-12-5 5-8 35-8-15 3-3-27-77-3 0-3 7-9 38-8-8 3-4-3-10-20-43-7-7 0-6-6-7-4-13-13-14-3-13-14-17-20-16 10-57-36-20 13-40-22-2-1-5 13-33-23 0 13-30-10-3 10-14-7-10 7-6 0-10 7-7 0-3-7-4 13-16-3-4 10-13-7-3 7-10 0-7 17-20-4-3 19-25 50-37 21-25 27-50 0-7 17-30 10-30 36-56 54-100 46-57 52-55 57-20 70-3 43 30 52 55 23 40 27 33 20 37 30 43 6 17 54 80 5 5 40 6 3 4 33-17 7 0 17-13 46-27 80-63 124-110 116-67 7 0 33-17 37-10 27-13 30 0 3-3 30 0 3-4 60 17 50 7 4 3 16 0 14 7 10 0 10 6 30 7 63 37 55 61 10 17 37 43 23 24 67 86 31 22 14 13 10 4 33 23 7 10 25 15 6 17 10 10 10 16 0 7 10 13 0 7 7 10 0 3-7 4 14 30-10 0 10 23-5 2-9-5 7 10 3 16-10 0 4 4-2 11-8-5 3 14-10 0 3 13-5 2-8-5 7 16-14-3 4 13-5 2-4-3 2 15-10 0 3 13-8-5-2 8 4 7-10 0 3 17-8-5-2 8 3 3-5 2-3-3-2 11-10 0 4 10-10 0 10 37-29-12-6-6-2 8 10 27-13 0 6 13-13 0 3 7-1 11-14-6-8 1 3 7-1 12-10-4-27 0-3-3-30 0-2 8 10 34-2 5-73 0-3 3-24 0-1 8 3 4 2 15-100 6-4 4-50 6-3 4-37 6-13 7-10 0-13 7-10 0-14 6-10 0-13 7-10 0-10 7-10 0-30 13-12-2 0-13-3-7-5-1-13 10-40 16-9-5 0-13-5-5-60 33-5-8 0-10-5-5-46 23-10-20-44 20-8-5 0-10-5-5-23 14-30 10-10-4-7-13-20 7-13 0 0 20-47 0 2 18-10 0 3 17-22-9 0 24-20-10 0 23-20-10 0 27-20-10 0 26-33-10 0 27-33-10-14 0 2 28 3 4-1 8-54-3-20 6-36 4-4 3-73 17z"/>
<path fill="#2e86f7" d="M1773 9696l-5-1-5-29-36 27-5-5 0-13-5-5-24 20-6-27-24 27-5-9 0-13-15 8-6-20-10 14-5-9 0-10-2-1-13 13-7-20-8 12-5 1-10-36-14 16-1-11-5-5-10 16-5-5-4-20-5-8-10 17-5-5-3-20-5-9-8 15-7 4-7-34-3-3 0-13-5-9-8 25-4 7-3 0-3-23-7-14 0-13-5-5-8 22 0 10-7-4-18-68-5 5-9 38-8-15 0-10-10-16 0-10-7-7 0-10-26-53 0-7-7-3-12 51-5-11-13-14 3-3 10-57-15-25-45-31 14-47-30-3 13-40-20 0 3-17 7-10 0-3-7-4 10-16-10-4 10-13-3-7 10-13-5 2-2-5 17-27-10-3 13-14-3-3 17-23-4-4 10-10 4-10 21-21 24-17 21-25 27-50 0-7 17-30 10-30 36-56 54-100 46-57 52-55 57-20 70-3 43 30 52 55 23 40 27 33 20 37 30 43 6 17 54 80 5 5 40 6 3 4 33-17 7 0 17-13 46-27 80-63 124-110 116-67 7 0 33-17 37-10 27-13 30 0 3-3 30 0 3-4 60 17 50 7 4 3 16 0 14 7 10 0 10 6 30 7 63 37 55 61 10 17 37 43 23 24 67 86 93 70 43 74 4 13-7 0 0 7 13 26-5 2-8-5 10 20-2 5-6-7-2 5 10 27-13-3 6 13-5 2-6-4 1 12-10 0 4 13-10 0 3 14-10 0 3 13-8-5-2 12-10 0 4 3 0 10-10 0 3 3 0 10-10 0 3 14-5 1-3-3-2 5 4 7-10 0 0 10 3 3-5 2-8-5 6 16-13-3 7 13-14 0 4 4 0 10-9-2 2 15-10 0 3 17-21-9 0 20-14-6-8 1 2 19-34-4 0 27-6 0-4-7-36 4 0 23-97 7 0 26-60 4-20 6-37 4-73 23-10 0-13 7-10 0-40 16-5-5-4-20-5-1-36 13-30 17-9-5 0-14-5-5-43 24-8-5 0-10-5-5-34 20-5-2 0-10-5-8-46 23-5-2 0-10-5-8-24 10-13 10-7-23-60 26-5-1-5-19-36 14-24 0 0 20-35 1 4 17-10 0 3 10-2 8-13-10-8-1 3 16-10 0 2 19-22-9 3 20-13 0 3 4 2 18-33-13 0 26-24-10 4 30-37-13 2 18 3 4-2 8-73-3-3 3-17 0-20 7-17 0-3 3-60 13-7 7-6 0z"/>
<path fill="#2c8ef1" d="M1763 9666l-6-30-24 20-5-8 0-17-5-1-33 30-5-5 0-17-5-5-10 13-7-23-13 13-7-20-10 14-6-20-14 13-5-18-3 0-8 11-5-5-2-11-13 16-10-36-14 16-6-16-9 15-5 1-10-33-8 15-7 3-8-35-12 19-3 0-3-24-9-15-10 34-8-19 0-13-3-3-10-47-2-2-5 9-8 35-5-25-7-14 0-10-7-10 0-10-6-6 3-4-5-8-5 5-7 40-3 0-43-100-17-20-7-17-33-26 10-47 3-3-18-9-15-1 10-40-13-4 10-33-14 0 10-17-1-5-7 7-2-5 10-23 10-14-10 0 10-13-3-3 3-7 7-7-3-6 13-20-3-4 16-23-3-3 63-67 27-50 0-7 17-30 10-30 36-56 54-100 46-57 52-55 57-20 70-3 43 30 52 55 23 40 27 33 20 37 30 43 6 17 54 80 5 5 40 6 3 4 33-17 7 0 17-13 46-27 80-63 124-110 116-67 7 0 33-17 37-10 27-13 30 0 3-3 30 0 3-4 60 17 50 7 4 3 16 0 14 7 10 0 10 6 30 7 63 37 55 61 10 17 37 43 23 24 67 86 66 50 4 10 26 37 0 7 17 30-2 5-3-4-2 5 14 30-10 0 6 20-10 0 10 24-1 5-9-2 4 17-9-5-1 11-10 0 3 10-10 0 3 4 0 10-10-4 4 14-10 0 3 13-10-3 3 16-5 2-8-5 7 20-9-5-5 2 7 16-5 2-8-5 3 13-8-1-2 5 3 6-10 0 4 14-10 0 3 13-5 2-17-10-1 11 3 7-13-3 6 16-13 0 7 17-9 2-3-4-20 0-7-3-1 5 3 3 2 15-10 0-4-3-33 0 0 23-60 0 0 24-13 0-4 3-66 0 0 30-24 0-3 3-53 7-14 7-36 6-27 10-8-1-4-20-11-2-24 10-10 0-26 13-27 7-17 10-5-8 0-10-5-5-43 23-8-5 0-10-5-5-34 20-5-2 0-10-5-8-36 20-7-20-37 17-6-20-37 20-10-20-40 20-7 0-10-17-43 17-30 0 3 20-38 1 7 17-10-3 1 18-11-5 3 7-2 11-6-6-15-5 3 16-10 0 3 17-10 0 4 10-2 8-20-10 0 24-20-10 0 26-33-13 0 27-20-7-14 0 0 30-6-3-40 0-4-4-20 7-40 3-3 4-37 6-13 7-10 0z"/>
<path fill="#2895ec" d="M1773 9630l-5-5 0-14-5-11-13 6-23 20-7-26-23 20-5-9 0-13-5-5-24 27-5-19-3 0-8 12-7-20-13 13-7-20-10 14-5-5-8-35-5 8-9 5-1-12-5-5-10 17-5-5-4-20-5-8-10 16-5-5-3-20-5-8-10 17-10-20-10 20-8-19 3-3-7-20-3 0-7 17-5 1-5-28-5-8-5 8-3 20-5 5-5-25-7-13 0-10-6-10 3-4-3-16-7 3-8 35-9-12 0-10-6-6 3-4-28-68-12 38 0 14-3 0-20-47-17-20-7-17-10-6 10-60-18-12-18-5 10-47-5-5-14 7-8-2 13-36-6-4 0-6 6-10-6-4 6-13-3-10 10-23 7-7-5 2-2-5 7-10 0-7 6-7 0-6 17-20-3-4 13-26 43-47 27-50 0-7 17-30 10-30 36-56 54-100 46-57 52-55 57-20 70-3 43 30 52 55 23 40 27 33 20 37 30 43 6 17 54 80 5 5 40 6 3 4 33-17 7 0 17-13 46-27 80-63 124-110 116-67 7 0 33-17 37-10 27-13 30 0 3-3 30 0 3-4 60 17 50 7 4 3 16 0 14 7 10 0 10 6 30 7 63 37 55 61 10 17 37 43 23 24 67 86 31 22 19 22 10 20 13 10-3 6 6 7 7 23 10 17-2 5-5-2 7 24-10-4 10 24-2 5-8-5 7 26-10-3 3 13-10-3 2 15-9-5 4 17-10-4 3 14-12-5 2 15-10-4 3 17-10 0 4 7-2 8-8-2 3 17-10 0 3 17-5 1-20-13 5 18-8-5-2 12 4 3-14 0 4 4 0 10-10 0 3 13-10 0 3 17-5 1-3-3-27-3 0 20-21-2 3 10-2 12-60 0-1 5 3 3 2 15-74 3 0 24-53 0-3 3-17 0-20 7-17 0-3 3-37 7-10 6-23 4-33 13-10 0-30 13-10 0-5-18-9-2-40 20-16 4-7-20-47 26-10-20-23 10-7-20-36 24-7-20-37 20-10-20-30 16-8-1-3-14-5-1-34 20-5-19-8-1-47 16-10 7-3-3-33 0-2 5 7 13-27 3 3 14-10 0 4 3 0 10-10 0 3 13-10-3 3 17-5 1-13-10-5 2 3 17-10-4 4 17-14 0 7 17-5 1-20-10 3 20-23-10-2 5 7 20-5 2-20-10 0 27-20-7-13 0 1 18 4 4-2 8-3-3-30 0-4-4-66 7-4 3-73 17z"/>
<path fill="#259ce7" d="M1770 9596l-5-1-3-20-5-5-37 26-2-18-5-8-23 20-7-20-10 10-5-5 0-10-5-9-10 14-6-20-14 13-6-20-10 17-7-20-13 16-7-20-10 17-13-37-9 15-6 0-9-35-13 20-2-15-5-5-8 19-3 0-7-20 0-17-5-8-10 20-5-5-2-12-13 23-8-18 3-3-7-17-3-27-7 4-8 35-8-15 3-7-13-40 0-10-5-5-9 35-3 10-3 0-10-23 0-10-17-34-3-16-14-20-6-20-25-35-27-17-8-2 13-50-15-1-3-4-9 2 0-10 10-27-1-5-4 4-5-2 14-23-10 0 10-17-10 0 13-20-8 5-2-5 7-7 10-23-4-3 14-20-4-4 20-26-3-4 27-30 30-46 30-64 10-30 36-56 54-100 46-57 52-55 57-20 70-3 43 30 52 55 23 40 27 33 20 37 30 43 6 17 54 80 5 5 40 6 3 4 33-17 7 0 17-13 46-27 80-63 124-110 116-67 7 0 33-17 37-10 27-13 30 0 3-3 30 0 3-4 60 17 50 7 4 3 16 0 14 7 10 0 10 6 30 7 63 37 55 61 10 17 37 43 23 24 67 86 40 37 20 33-2 5-8-5 16 37-1 5-4-3-1 5 10 23 0 7-7 0 10 26-8-5-4 10-8-5 3 4 7 33-10-3 3 16-10-3 4 17-9-5-3 16-20-16 2 18-10 0 3 3 0 14-10 0 3 16-8-1-13-10 1 21-10 0 4 7-2 8-8-5 3 17-5 2-8-5 6 16-15 2-10-3 4 20-34-7 0 23-3-3-30 0 0 23-73 0-2 5 3 4 2 15-10 3-50 0 0 23-80 10-23 10-47 10-13 7-5-22-9-1-60 20-33 16-5-5 0-10-5-8-37 20-6-23-34 20-5-2-5-18-36 23-7-20-23 13-10-20-24 17-6-23-34 20-8-5 0-10-5-2-43 23-4 0-5-8-1-15-44 13-20 10-26 0-10-3-2 12 3 3 0 10-23 3 3 14-10 0 2 15-8-5 3 16-10-3 0 10 3 3-13 0 3 4 0 10-8-2-13-10 1 18-8-1 2 15-10 0 3 16-5 2-18-8 3 16-10 0 2 25-34-16 0 26-20-6-15 1 0 10 4 4-2 15-33-4-4-3-3 3-60 7-27 10-36 7-7 6z"/>
<path fill="#21a3e3" d="M1773 9560l-5-12-1-18-24 13-10 10-8-5 0-13-5-5-23 26-7-26-23 23-5-8-2-15-13 16-7-20-10 14-13-44-10 14-5-2 0-7-5-5-10 17-7-20-13 20-10-40-14 20-1-15-5-8-9 18-6-3 0-14-9-28-10 20-5-2 0-10-5-5-10 24-11-42-4 0-8 22-5-9-3-26-7-10 3-4-3-3 0-10-5-5-8 38-7-3-3-20-7-7-3-20-7-10 0-10-7-6 4-4-5-11-5 5-7 40-7 3-6-23-14-20-6-20-17-20-3-10-17-14 0-10 10-30 0-13-5-5-25-5 10-47-8-1-12 5 10-20-7-4 10-20-3-3 10-17-7-3 7-10-3-3 10-17-4-3 7-7-3-3 6-7 7-20 57-83 30-64 10-30 36-56 54-100 46-57 52-55 57-20 70-3 43 30 52 55 23 40 27 33 20 37 30 43 6 17 54 80 5 5 40 6 3 4 33-17 7 0 17-13 46-27 80-63 124-110 116-67 7 0 33-17 37-10 27-13 30 0 3-3 30 0 3-4 60 17 50 7 4 3 16 0 14 7 10 0 10 6 30 7 63 37 168 198 34 43 3 10 10 10 13 24 0 6 7 10-2 5-5-1 17 36 0 7-7 0 7 20-10-3 10 30-8-5-2 11-10 0 3 4 0 10-10-4 4 17-9-5-1 8 3 10-10-3 3 20-13-7 7 20-25-15 5 22-5 2-9-5 7 20-5 1-20-13 2 22-10 0 6 16-5 2-20-7 2 19-12 1-10-3 0 20-10-3-36 0 1 15 4 3-49 2 0 23-60 0 0 23-36 0-4 4-56 6-17 7-23 3-10 7-10 0-14 7-10 0-10 6-10 0-40 17-6-23-34 10-30 16-6-23-37 20-7-20-23 13-10-20-10 10-23 14-10-20-24 16-6-20-37 20-7-26-46 26-5-1-4-20-5-2-36 20-27 7-10 6-5-25-5-1-8 5 0 10 3 3-2 12-33 0-3-4-25 2 6 23-13-6 7 23-12-5 2 12-10 0 3 13-10 0 3 7-1 8-4-3-5 1 4 17-14-7 7 17-5 2-17-14-1 12 3 7-13 0 6 16-5 2-8-5 3 20-21-8 0 23-20-10 0 23-17-6-17 0 4 30-4-4-20 0-3-3-27 0-3 3-37 4-3 3-13 0-60 17z"/>
<path fill="#1ca9df" d="M1767 9530l-7-27-37 23-5-8 0-13-15 8-1-15-5-8-24 23-5-8 0-10-11 8-5-5 0-10-5-8-10 16-7-20-13 17-7-20-10 17-5-5-3-27-5-8-10 16-5-5-2-11-13 20-7-24-10 17-5-5 0-13-8-29-14 20-6-20-10 24-14-44-8 15 0 7-7-3 0-14-8-25-5 5-3 14-7 3-7-37-8-18-13 47-5-19-7-10 0-10-7-6 4-4-4-10-10-16 0-7-6-7 0-10-10-16 0-7-35-48-32-12 10-47 3-3-23 0 13-27-10 0 7-10-3-13 13-30-3-3 6-14-3-3 17-27-4-3 10-13 0-7 44-63 30-64 10-30 36-56 54-100 46-57 52-55 57-20 70-3 43 30 52 55 23 40 27 33 20 37 30 43 6 17 54 80 5 5 40 6 3 4 33-17 7 0 17-13 46-27 80-63 124-110 116-67 7 0 33-17 37-10 27-13 30 0 3-3 30 0 3-4 60 17 50 7 4 3 16 0 14 7 10 0 10 6 30 7 63 37 168 198 40 60-3 7 3 10 20 40-1 5-9-5 7 16-2 5-5-1 7 23-8-5-2 8 3 7-10-3 4 16-10-3 3 10-2 8-11-8 6 17-1 5-12-9 7 20-5 2-9-5 4 17-10 0 3 10-2 8-16-13-5 1 3 17-10 0 0 10 3 3-1 12-7-7-27-10-1 15 3 10-12 2-10-3 0 20-33-4 0 20-47 0 0 20-33 0-3 4-17 0-3-4 0 24-47 0 2 21-9 5-60 7-46 17-10 0-5-5 0-10-5-5-7 0-10 6-10 0-10 7-30 7-33 16-7-23-40 17-10 10-7-24-23 14-10-20-30 20-8-2 0-10-5-5-24 17-6-30-50 33-7-27-47 27-5-2-5-21-43 23-8-2-5-21-40 13-10 7-24-4-1 15 3 10-15 2-3-3-17 0 0 23-22-15 4 20-10-3 3 23-10-3 2 18-12-8 3 13-10 0 4 13-5 2-4-3 2 15-10 0 3 16-21-11-2 8 3 10-10 0 4 20-25-12 5 22-5 2-17-10 0 26-3-3-30-3 0 26-27-6-23 6-44 4-23 10-33 6z"/>
<path fill="#15afd9" d="M1777 9493l-5-2 0-13-5-12-37 24-7-27-23 23-5-8 0-10-5-5-2 5-10 7-5-22-23 23-7-20-13 17-8-38-5-5-10 16-7-16-13 16-2-11-5-5-10 16-7-23-10 17-5-5-6-44-7 4-8 18-2-15-5-8-10 20-5-5-3-30-5-12-12 25-3 0 0-13-5-5-10 23-9-18 4-4-9-21-10 26-5-5 0-10-10-20-3-23-10-27-3 0-4 10-8 39-12-32-6-7 0-10-10-16 0-7-24-30-3-10-8-8-15-5 6-24 0-13 7-17-8-5-19 2 0-7 10-20-1-5-7 4-2-5 10-20-6-4 10-20-4-3 4-7-4-3 10-17-3-6 20-44 37-56 30-64 10-30 36-56 54-100 46-57 52-55 57-20 70-3 43 30 52 55 23 40 27 33 20 37 30 43 6 17 54 80 5 5 10 0 16 6 20 4 30-17 7 0 17-13 46-27 80-63 124-110 83-47 7-7 13-3 7-7 13-3 17-10 53-17 27-13 30 0 3-3 30 0 3-4 60 17 50 7 4 3 16 0 14 7 10 0 10 6 30 7 20 13 30 14 3 6 10 4 15 15 67 83 43 47 10 16 27 30 3 10 23 34 7 23 10 17-3 13 6 17-8-5-2 5 14 40-9-5 2 15-10-4 3 14-10 0 4 16-10-3 1 22-20-20-1 1 3 20-13-3 3 3 0 14-10 0 3 6-1 12-20-13 0 23-22-2 3 10-1 15-30-10-17 0 3 27-33 0-3-3-10 0 0 23-47 0 0 23-60-3 3 23-23 0-20 7-37 3-93 30-8-5-2-11-10-4-63 27-5-2-4-16-5-2-33 20-5-8 0-10-5-5-10 10-23 13-5-8 0-10-4-7-5-2-43 34-5-5 0-14-5-8-37 23-6-26-37 23-5-22-5-1-47 26-6-26-14 10-33 10-23 13-57-3-2 5 7 16-15 2-12-8 4 3 0 13-10 0 6 20-5 2-8-5 3 20-23-13 3 20-10 0 2 15-8-5 3 16-10-3 3 17-13-4 7 17-5 2-9-5 4 16-5 2-17-10 0 20-22-8 4 20-10 0 3 10-2 11-43-6-3-4 0 27-24 0-3 3-20 0-3 4-34 3-13 7-37 6z"/>
<path fill="#08b4d1" d="M1787 9456l-9-5 0-13-5-8-36 26-7-26-10 3-13 13-5-8-2-15-23 27-5-5 0-10-5-9-10 14-5-22-2-2-13 14-7-20-10 16-7-20-13 20-5-28-3-3 0-17-10 7-5 11-5-25-7 4-5 11-5-5-2-18-13 20-7-20-10 20-5-2 0-13-5-5-10 23-11-48-4 0-8 22-5-5-3-27-5-12-9 22-5 2-5-25-5-9-8 15-3 17-4 0-20-70-13-23-7-24-6 4 0 13-9 28-11-8-4-10-20-27 4-23 6-17 0-13 4-3-22-5-5-5 10-30-12-2-1-5 10-23-5-2-12 8 10-20 0-13 10-17-3-6 10-20-4-7 7-7 10-20 0-6 27-40 30-64 10-30 36-56 54-100 46-57 52-55 57-20 70-3 43 30 52 55 23 40 27 33 20 37 30 43 6 17 54 80 5 5 40 6 3 4 33-17 7 0 17-13 46-27 80-63 124-110 66-40 30-17 7 0 13-10 7 0 33-17 37-10 27-13 30 0 3-3 30 0 3-4 60 17 50 7 4 3 16 0 14 7 10 0 10 6 30 7 20 13 30 14 3 6 10 4 15 15 67 83 43 47 30 40 23 40 0 6 10 17-1 8-5-1 13 33-2 5-8-5 10 27-10-4 3 7-1 5-10-10 1 15-10-3 4 16-10-3 3 17-10 0 3 16-10 0 4 20-12-5-2-5-8-5-2 12 4 10-10-3 1 21-20-3-13-7 0 27-33-7 0 30-4-3-26 0-4-3-40 0 4 30-60 0 0 20-47 0-3 3-20 0-4 3-33 4-13 6-10 0-14 7-10 0-40 13-30 14-5-2-3-17-5-5-70 34-5-2-5-25-50 30-7-27-36 24-5-9 0-13-5-5-34 27-5-5 0-14-5-8-36 27-7-27-13 10-24 10-10 10-5-2 0-13-5-12-60 30-5-1 0-14-5-11-23 10-13 0 5 25-9 1-3-3-37-3-1 11 3 10-10-3 3 20-10-3 4 20-24-14 4 20-14-6 7 23-13-3 3 20-23-14 3 14-5 1-3-3 1 15-10 0 4 17-5 1-9-5 7 20-5 2-17-13-1 11 3 10-8-5-5 2 6 20-5 2-10-7-11-2 6 20-1 5-14 0-33-10-2 15 4 10-9 5-60 7-56 17z"/>
<path fill="#01b9c8" d="M1700 9423l-5-22-12 9-5-9 0-10-5-5-10 14-6-24-14 10-1-11-5-5-10 13-7-23-10 16-5-5 0-13-5-5-10 20-7-30-13 20-2-18-5-5-10 20-5-22-3 0-7 13-5 2-1-15-5-5-10 23-9-25 0-16-5-9-8 15 0 7-7-3-1-15-14 26-8-21 3-4-3-3 0-13-7-4-8 25-8-11 0-10-7-7 3-3-11-32-9 15-3 17-3 0-4-17-13-23-3-17-24-43-10-10-5-12-10 0-8-5 10-33-8-5-5 1 10-30-5-1-7 3-2-5 10-20-6-10 6-10-3-7 17-36-4-4 47-83 0-7 17-30 10-30 36-56 54-100 46-57 52-55 57-20 70-3 43 30 52 55 23 40 27 33 20 37 30 43 6 17 54 80 5 5 40 6 3 4 33-17 7 0 17-13 46-27 80-63 124-110 66-40 30-17 7 0 13-10 7 0 33-17 37-10 27-13 30 0 3-3 30 0 3-4 60 17 50 7 4 3 16 0 14 7 10 0 10 6 30 7 20 13 30 14 3 6 10 4 15 15 67 83 43 47 33 50 0 6 7 10-2 5-5-1 20 43-1 5-9-5 7 20-2 5-8-5 7 13 0 10-7 0 3 17-13-7 3 4 0 13-10 0 4 7-2 11-13-13-9-2 4 20-10-3 3 20-8-2-7-6-7 0 2 21-23 0 3 10-2 15-23-10-23 0 3 27-60-3 0 30-87-4 4 30-70 7-70 23-10 0-24 10-5-1-3-7 0-17-5-5-37 17-6 0-17 10-7 0-33 20-2-18-5-12-36 23-7-30-37 27-5-8-1-19-37 27-5-8 0-14-5-5-30 24-8-2 0-13-4-7-5-2-43 30-5-1 0-14-5-11-50 30-7-27-6 0-40 20-27-3 2 25-35-2 1 22-10-4 4 7-2 12-20-17 2 18-10-3 3 20-10-3 3 23-11-5-10-13-2 15 3 10-10-4 0 17 4 7-12-5 2 15-5 1-17-13 2 15 3 3-5 2-8-5 3 20-10-3 3 20-21-12 0 23-22-5 0 10 3 4-1 11-34-6-3-4-7 4-16 0 3 30-37 3-50 17-10-30-3 3-10 0-13 13-17 10-8-1 0-14-4-6-5-2z"/>
<path fill="#09bcbe" d="M1757 9380l-9-5 0-14-5-5-20 17-16 7-2-15-5-9-8 12-4 0-5-22-15 19-11 8-7-20-5 8-7 4-5-22-10 10-5-2 0-16-5-9-10 20-6-26-9 15-5 1-1-15-5-8-10 20-5-8-2-15-13 23-5-25-4 0-8 18-5-8-2-15-13 27-2-15-6-10 3-4-3-20-5-5-10 27-9-22 4-3-4-3 0-10-5-9-10 27-5-2-3-20-7-10 0-10-5-5-8 25-7-3-3-17-7-6 0-10-18-45-5 5-7 26-6 0-14-26-10-10 10-47-5-5-21-2 13-33-17 0 10-23 0-4-6-3 10-23-2-5-5 1 7-13-4-3 7-10 10-34 17-26 30-64 10-30 36-56 54-100 46-57 52-55 57-20 70-3 43 30 52 55 23 40 27 33 20 37 30 43 6 17 54 80 5 5 40 6 3 4 33-17 7 0 63-40 80-63 124-110 66-40 30-17 7 0 13-10 7 0 33-17 37-10 27-13 30 0 3-3 30 0 3-4 60 17 50 7 4 3 16 0 14 7 10 0 10 6 30 7 20 13 30 14 3 6 10 4 15 15 40 46 10 17 57 63 3 10 20 27-2 5-5-2 17 37-2 5-5-2 10 30-10-3 7 23-8-5 1 12-10-3 4 10-2 8-8-5 3 20-10-3 3 20-13-7 3 20-5 2-16-10 3 26-37-10 4 27-17-7-30-3 0 30-10 0-3-3-40 0-7-4-2 9 4 3 1 22-13 0-3-4-47 0-10-3 0 33-10 0-3-3-24 7-43 3-20 10-33 7-24 10-8-2-3-27-5-1-10 6-50 17-7 7-30 13-5-5 0-17-5-8-47 33-5-5 0-13-5-12-36 30-7-30-33 27-5-2-5-25-37 27-5-8 0-14-5-5-23 20-10 4-5-5 0-14-5-8-27 20-10 3-7-26-6 6-67 30-40-6 3 26-16 0-10-3-5-8-4 0 4 20-10-4 1 22-11-8 6 23-13-7 3 20-10-3 4 20-2 2-20-20 2 21-10-3 3 27-2 1-20-20-1 15 3 4 0 10-10-4 3 17-11-5-10-10-2 12 3 10-8-5-5 1 7 17-2 5-13-10-10 0 3 23-25-5 5 25-20-6-70 6-13 7-24 3-10 7-10 0z"/>
<path fill="#1bc0b4" d="M1760 9346l-7-26-36 26-5-5 0-13-5-5-24 20-5-22-1-1-10 13-10-20-24 27-1-19-5-11-10 13-7-27-13 20-5-28-4 0-8 18-5-5-2-18-13 23-5-25-3 0-9 19-5-5-1-19-14 24-1-15-7-14 3-3-3-3 0-14-5-5-10 24-7-20-13 26-2-11-6-10 3-4-10-33-3 0-7 13-5 19-12-35 0-10-11-22-9 28-6 0-20-50-24-33-10-7 14-33-24-3 14-34-14 4 4-17 6-10-10 0 14-33-4-4 54-110 10-30 36-56 54-100 46-57 52-55 57-20 70-3 43 30 52 55 23 40 27 33 20 37 30 43 6 17 54 80 5 5 40 6 3 4 53-24 20-16 30-17 80-63 124-110 116-67 7 0 33-17 37-10 27-13 30 0 3-3 30 0 3-4 60 17 50 7 4 3 16 0 77 27 7 6 30 14 3 6 10 4 15 15 83 100 24 36 6 24 10 16 0 7-6 0 13 40-8-5 0 10-9-5 7 27-10-4 3 10-1 9-9-5 2 21-20-20 0 27-22-8 0 13 4 3-2 12-22-8 0 13 4 3-2 12-47-10 0 30-10-3-60-4 0 30-60-3 0 30-70 7-73 23-8-2-5-28-47 17-67 33-5-12-1-18-37 23-5-5 0-13-3-7-5-1-17 16-17 7-6-27-37 30-7-30-33 27-5-2-5-25-33 27-9-5 0-13-5-5-23 16-13 4-2-15-5-9-10 4-13 13-7 0-17 10-10-20-23 10-7 7-23 0-7-4 0 17-21-2 3 10-2 15-10 0-5-8-6-3 3 20-10-7 3 23-8-5-2 12 4 10-10-3 3 20-2 1-20-20-1 15 3 7-13-7 3 4 0 16-10-3 3 7-1 18-20-20 0 27-22-15 3 26-10 0 4 10-2 9-8-5 1 21-13-10-7 0 0 24-30-10-5 1 0 10 4 4-2 11-3-3-27 0-3 3-44 4-66 20z"/>
<path fill="#29c3aa" d="M1777 9310l-12-2-5-25-37 27-5-9-1-15-27 17-2-15-5-8-23 30-7-34-23 30-5-8 0-17-5-5-10 17-5-28-3 0-7 13-5 2-2-19-5-5-10 20-6-26-10 20-5-2 0-13-5-9-10 24-7-24-13 20-2-15-7-6 4-4-4-23-6 3-9 25-1-15-7-13 3-3-3-10-7-4-8 29-5-5-12-45-5 5-8 25-8-15-4-17-13-23 3-4-10-23-31-42-15-1 10-30-2-5-12-2 0-7 10-20-8 5-2-5 14-26-9 1-1-5 3-3-3-3 5-2-2-5 7-3-4-4 4-10 40-80 10-30 36-56 54-100 46-57 52-55 57-20 70-3 43 30 52 55 23 40 27 33 20 37 30 43 6 17 54 80 5 5 40 6 3 4 13 0 14-10 26-10 4-7 56-37 70-56 124-110 116-67 7 0 33-17 37-10 27-13 30 0 3-3 30 0 3-4 60 17 50 7 4 3 16 0 77 27 7 6 30 14 3 6 10 4 15 15 67 80 30 46 0 7 6 10 0 7-6 0 6 10 7 26-10-3 10 30-8-5-2 5 3 7-8-5-3 10-9-5 4 3 0 13-10 0 3 20-5 2-17-10 0 30-33-13 3 30-3-4-17 0-3-3-27-3 2 18 3 3-1 9-60-4 0 30-74-6 5 28-8 5-60 7-37 13-10 0-20 10-8-5 0-13-5-12-57 20-36 20-9-2-3-23-5-2-47 30-5-11-1-19-37 27-5-8 0-14-5-5-27 24-10 3-1-18-5-9-24 24-13 6-7-26-23 16-7-26-33 23-8-5 0-7-5-5-24 17-6-17-17 10-7 0-6-16-37 16-10-16-3 3-17 0-2 8 4 7-10 3 3 14-12 1-10-3-1 8 3 7-13 3 3 4-2 8-8-5 3 3 0 14-8-5 2 18-10-3 3 20-10-7 3 27-3 0-18-22 1 22-10-4 4 20-14-6 4 3 3 23-2 2-23-23 5 28-8-5-5 2 3 6 0 17-23-13 3 6 0 17 3 3-1 5-24-16-1 5 6 16-5 2-20-7 0 24-26-10-9 1 4 4 1 21-50 4-3 3-13 0-27 10-10 0z"/>
<path fill="#32c69f" d="M1687 9276l-5-11 0-17-5-5-24 30-1-18-5-12-24 30-5-28-1-2-9 12-5 1-1-18-5-8-10 20-7-27-13 23-2-18-5-8-10 20-5-9-2-15-13 24-7-27-10 23-5-5-6-43-4 0-6 20-5 5-17-50-8 25-7 3-3-20-7-20-7-6 4-4-12-25-8 25-4 7-3 0-7-20-30-40 0-10 10-30-20 0 10-27-1-8-4 3-5-1 14-30-14 6 10-23-3-3 3-7-3-3 7-4-4-3 34-67 10-30 36-56 54-100 83-97 15-15 7 0 10-7 40-13 70-3 43 30 52 55 23 40 27 33 20 37 30 43 6 17 54 80 5 5 40 6 13 7 33-13 4-7 6 0 20-10 20-23 10-4 7-10 73-56 124-110 116-67 7 0 33-17 37-10 27-13 30 0 3-3 30 0 3-4 60 17 50 7 4 3 16 0 14 7 10 0 10 6 30 7 20 13 30 14 3 6 10 4 15 15 63 76 24 40 0 7-7 0 13 33-10-3 7 23-10-3 10 33-8-5-2 5 3 7-10-3 4 20-25-9 3 27-33-13 0 26-47-6 0 30-7-4-53-3-2 8 4 4 1 21-70-6-3-4 0 34-63 6-57 20-5-1-3-7-4-20-8-2-17 10-56 20-34 20-6-33-17 7-30 26-5-1-5-29-37 27-5-12 0-13-5-2-33 27-5-8-2-19-13 14-13 6-2-18-5-8-23 16-7-16-23 16-10-16-10 10-7-20-23 16-7-20-17 14-10 3-6-17-24 10-6-13-4 3-10 0-6-10-7 0-13 10-10 0-4-3-1 8 3 4-10 3 3 10-13 0 7 17-9 1-3-3-15-2 10 34-10-7 7 17 0 10-7 0-2 15-8-5 3 3 0 13-23-16 3 3 0 17-10-4 4 20-9-5 2 22-10-3 0 10 3 3-1 12-20-24-2 2 3 27-10-4 2 29-20-20 0 30-22-15 2 31-23-6-10-7 0 27-24-10-50 6-1 5 6 20-8 5-13 0-17 7-5-12 0-13-8-2-14 7-20 3-23 17-7-23z"/>
<path fill="#3bc992" d="M1727 9246l-5-1 0-17-5-15-37 27-7-34-23 30-5-8 0-17-5-5-12 22-11 12-5-29-4 0-8 12-5-8-2-19-13 24-2-19-5-11-10 20-5-5-1-19-14 24-6-27-9 18-5 2-8-48-7 3-8 25-10-37-5 5-8 25-9-15 4-3-17-50-3 0-4 7-8 25-12-32-6-7 3-3-3-10-17-17 0-6-10-14-10-6 10-34-20 0 13-30-8 2-2-5 10-17-1-5-4 4-1-5 6-10-3-7 7-10 3-17 17-30 10-30 36-56 54-100 46-57 52-55 57-20 20 0 3-3 47 0 6 3 37 27 35 35 67 93 20 37 30 43 6 17 54 80 5 5 23 3 10 17 13 3 5 5 4 10 13 17-2 5-8 1 3 10-10 0 4 14-14 0 7 10-2 8-1-5-4 0 7 17 0 10-7 0 7 26-3 0-5-8-2 5 3 7-10-4 4 20-10-3 1 22-5-9-6-3 3 3 3 24-3 0-8-12-2 2 7 26-4 0-8-11-2 1 4 10-2 15-15-18-7-3 4 23-10 0 0 10 3 3-2 12-20-17 0 27-21-15 0 13 3 4-2 15-33-14 0 37-20-10-67 7-36 13-24 3zM2443 9013l-10-30-36 30-2-18-5-12-23 20-7-27-23 20-5-1 0-10-5-5-24 20-6-20-10 6-10-16-10 10-7-20-23 20-7-20-13 10-7-14-10 7-7-13-13 10-7-17-6 7-7 0-7-10-6 3-5-2-14-23 10-13-16-24 28-21 13-17 17-10 13-20 20-13 67-64 20-13 10-13 20-14 17-16 116-67 7 0 33-17 37-10 27-13 30 0 3-3 30 0 3-4 60 17 50 7 4 3 16 0 14 7 10 0 10 6 30 7 63 37 35 38 50 70-2 5-5-2 10 24-1 5-9-5 10 23-1 5-9-5 7 27-8-5 1 11-10 0 4 10-2 9-17-10-5 1 4 10-2 15-22-8 0 10 4 3-2 15-47-10-1 9 3 3 2 18-74-6 0 33-60-10-1 8 6 24-11 5-47 3-60 20-10 0-5-12 0-16-8-2-37 17-17 3-20 13-30 14-5-2-3-7 0-13-5-8z"/>
<path fill="#49cb85" d="M1707 9220l-5-12-2-22-40 30-2-18-5-8-5 8-6 3-5-28-24 30-5-5 0-17-5-5-8 15-3 0-5-28-14 20-1-18-5-9-10 24-7-27-13 23-2-18-5-5-10 23-13-43-14 27-5-25-6-10 0-14-7-3-7 23-5 2-18-55-17-37-25-31-15-2 4-17 6-10-1-5-7 4-2-9 10-20-6 0 0-6 6-10 0-4-5 2-1-5 10-17-4-3 24-50 0-7 36-56 54-100 26-34 72-78 57-20 70-3 43 30 52 55 10 20 33 43 27 47 20 26 33 60 67 94-4 10 14 30 0 6-7 0 7 14 0 13-7 0 7 27-4 0-5-9 0 14-5-9-3 0 3 20-10-3 4 20-10-3 3 20-13-7 3 3 2 25-24-26 5 28-13-3 3 6 0 17-23-17 3 7 0 17 4 3-2 5-23-20 3 30-38-12 3 27 3 3-1 5-24-10-70 7-26 10-10 0-10 7-10 0zM2437 8983l-5-28-9 1-16 14-5-5 0-14-5-8-24 20-6-20-24 20-5-5-1-12-14 14-5-19-5-1-6 6-10-16-24 20-5-19-11 9-14-27-10 7-10-14-10 10-6-13-10 7-25-35 0-4 10-6-7-20 7-4 6-13 20-17 7-13 8-5 24-27 100-86 83-47 7-7 13-3 7-7 13-3 17-10 53-17 27-13 30 0 3-3 30 0 3-4 60 17 50 7 4 3 16 0 77 27 50 30 32 35 26 40 4 16 6 10 0 7-6 0 13 40-3 0-5-8-2 8 3 7-13-4 7 17-14-3 7 16-13 0 3 4-2 11-21-8 5 28-47-10 0 30-7-3-66-7 0 34-60-10 5 31-12 5-50 4-77 26-5-5 0-16-5-12-43 20-7 0-50 27-6-34-24 14z"/>
<path fill="#5ccc76" d="M1700 9186l-7-36-20 13-16 20-5-12-2-18-10 13-5-1 0-17-5-12-23 37-7-30-10 13-5-1 0-20-5-9-10 24-7-27-13 23-7-26-10 23-13-43-13 26-10-36-5 5-9 25-1-9-7-6 3-4-3-3 0-10-10-20 0-10-7-10 0-7-6 4-7 23-5 2-12-29-26-33 13-37-5-1-12 5 14-34-14 0 7-16-5 1-2-5 10-20-3-3 10-20-3-3 10-17 0-7 36-56 54-100 83-97 15-15 57-20 70-3 43 30 35 35 67 93 73 123 53 74 4 10-7 0 13 33-1 5-5-2 10 30-9-5 0 14-8-5 7 26-4 0-5-8 2 22-10-7 3 23-10-3 4 20-4 0-18-22-2 15 4 4 0 10-10-4 3 27-23-17 3 24-8-5-5 1 3 4 2 25-17-14-17-6 0 33-6 0-24-13-40 0-3 3-13 0-2 8 3 4 2 28-17 0-20 7-5-15 0-20-8-2-23 10-10 0zM2490 8946l-5-1 0-17-5-12-17 7-20 17-6-30-37 30-7-20-13 13-5-18-5-2-7 7-5-5-1-12-24 20-5-2-5-15-10 10-5-8 0-10-15 8-13-26-10 10-7-17-10 10-5-5-8-22-13 10-5-5-4-13 10-10-16-23 46-50 4-10 85-75 116-67 7 0 33-17 37-10 27-13 30 0 3-3 30 0 3-4 60 17 50 7 4 3 16 0 14 7 10 0 10 6 30 7 63 37 15 15 23 33 10 20 0 7-6 0 13 36-10 0 3 14-10 0 4 6-2 9-22-9 4 17-10 0 3 13-22-1 0 20-16-7-5 2 0 13 3 3-2 12-40-3-3-4-27 0-3-3-2 5 4 3 0 17 3 7-15 1-3-3-30-3 0 33-20-3-4 3-23 0-3 3-27 0-73 27-5-12 0-16-5-5-10 6-40 14z"/>
<path fill="#6fcd66" d="M1683 9156l-5-8 0-17-5-8-15 12-8 15-7-34-23 34-5-9 0-20-3 0-12 15-5-28-2-2-10 14-5-9-1-18-14 27-1-19-5-11-10 20-5-2-2-18-13 23-9-15 0-13-6-7 3-3-3-17-7 3-8 25-17-53-5 5-8 28-25-65-14-13-3-10-13-10 0-7 10-20-2-5-7 4-5-2 10-27-6-3 0-7 6-10-5 2-1-5 6-10-3-10 7-10 0-7 36-56 54-100 83-97 15-15 57-20 70-3 43 30 52 55 10 20 33 43 27 47 20 26 33 60 43 60-1 5-5-1 10 23-2 5-5-2 7 14 0 10-10-7 6 13 4 20-4 0-5-8-1 5 10 30-4 0-8-12-2 2 4 3 0 17-10-7 3 10-2 15-18-25-3 0 3 27-10-7 0 10 3 4-1 18-5-8-15-15-2 1 3 27-10-3 2 31-13-16-7 0-10-7-5 2 0 13 3 3-1 15-27-13-7 0 0 37-60 3-23 10-10 0-30 10-5-12 0-20-5-5zM2487 8913l-9-5 0-17-5-8-10 3-26 24-5-19-5-1-7 6-5-5-2-11-26 16-5-15-5-1-7 6-7-16-13 10-7-20-10 10-6-14-14 14-5-19-8-11-10 10-7-14-10 10-25-35 0-3 14-10-10-17 33-46 15-12 10-13 20-14 17-16 83-47 7-7 13-3 7-7 13-3 17-10 53-17 27-13 30 0 3-3 30 0 3-4 60 17 50 7 4 3 16 0 14 7 10 0 10 6 30 7 20 13 30 14 18 28 12 5 15 18 3 14-8-5 0 13-12-5 10 23-10 0 3 7-1 5-4-3-5 1 4 14-10 0 3 16-5 2-13-7-9 2 7 17-13 0 5 18-37-7 2 15 3 4-2 5-3-4-43-3 0 30-47-7 0 34-3-4-17 0-3 4-50 3-77 27-5-32-5-2-10 7-40 13-10 10-7 0z"/>
<path fill="#84cc56" d="M1720 9126l-7-36-36 30-5-15 0-17-9 2-15 18-5 2-1-22-5-8-24 36-5-28-3 0-8 12-5-5 0-20-5-5-10 16-7-30-13 27-2-18-5-9-8 25-4 0-6-16 0-14-5-8-14 27-5-25-6-10 0-17-7-3-7 23-5 5-11-25-7-30-13-27-14-13-8-15-7 3-5-1 10-27-13 0 0-7 10-20-5 2-2-5 7-10-3-7 6-10 0-6 94-164 88-98 57-20 20 0 3-3 47 0 6 3 37 27 35 35 67 93 73 123 17 20 16 47-1 8-2-5-3 0 6 17-1 8-2-5-3 0 6 27-10-3 4 3 3 27-10-7 3 3 0 17 4 7-4 0-8-12-2 2 4 6-2 19-18-22-4 0 4 7 0 16-10-3 3 10-2 18-20-20 0 30-10-10-6-3-5 2 0 10 3 3-2 18-23-13-12-2 0 10 4 4-2 18-20-3-3 3-54 3-23 10-33 7zM2577 8870l-9-5 0-17-5-8-6 0-50 26-9-5 0-10-5-5-33 20-5-1 0-10-5-9-23 17-7-17-13 7-7-17-23 20-7-20-10 10-5-1-8-29-14 14-6-14-10 7-5-2-4-16-13-24-13-13-4-13 20-30 39-32 10-13 116-67 7 0 33-17 37-10 27-13 30 0 3-3 30 0 3-4 60 17 50 7 4 3 16 0 14 7 10 0 10 6 30 7 23 13 25 35 13 7-6 3 6 14 0 6-6 4 6 23-5 2-3-4 2 12-10 0 3 17-8 1-14-6-1 8 3 10-12 2-10-4 0 20-33-3 0 20-30-3-3-4-2 5 3 4 2 15-37-7 4 33-7-3-20 0-3 3-24 0-3 4-23 0z"/>
<path fill="#99c946" d="M1627 9096l-5-15 0-16-4 0-11 15-5-29-4 0-8 15-5-28-2-2-8 12-5 2-2-19-5-8-10 23-5-1-1-12-5 5-9 25-15-62-6 4-9 25-11-39-7-10 0-10-5-5-8 25-7 4 0-7-13-27-14-13-10-17 14-33-17 7 0-7 10-20-2-5-3 3-5-1 10-20-3-7 6-13-3-4 50-83 27-53 83-97 15-15 57-20 70-3 43 30 52 55 10 20 40 53 20 37 30 43 6 17 14 16 13 27 3 20 7 10-3 10 3 17-7-4 7 24 0 6-7 0 7 30-10-6 2 25-12-19-10-6 0 16 3 7-13-7 3 4 2 28-23-23 3 33-23-20-2 8 3 4 2 25-37-17 2 22 3 3-1 12-10-7-60 3-47 14-10 6-10 0-13 10-5-5-4-26-5-2-43 40-5-2 0-20-5-11zM2530 8830l-7 0-5-5 0-10-5-5-13 10-23 10-7-20-23 13-7-20-20 17-8-5 0-7-5-5-10 10-7-13-13 6-7-13-10 10-8-25-5-5-10 10-5-5 0-7-14-13-10-17 10-13-6-10 51-48 67-37 7-7 13-3 7-7 13-3 17-10 53-17 27-13 30 0 3-3 30 0 3-4 60 17 50 7 4 3 16 0 14 7 10 0 10 6 10 0 16 14 7 0 25 31 3 7 0 7-6 3 3 10-5 2-7-4-1 5 3 7-10 3 3 10-10 0 4 10-10 4 3 16-15 2-3-3-17 0-2 8 4 10-12 2-10-4 0 20-33-6-2 11 3 10-18-1-3-4 0 24-67 6-53 20-9-1 0-10-3-7-5-2z"/>
<path fill="#adc638" d="M1697 9060l-7-37-37 33-5-11 0-20-5-5-11 18 0 7-12 15-5-32-7 3-5 12-5-8-1-22-14 20-6-33-10 16-5-1-2-15-13 26-9-18 0-13-5-5-10 26-8-18 0-10-7-10-6-30-7 3-8 29-19-49-23-33-7-3 7-27-12 5-1-5 13-27-10 4 10-20-3-4 6-6 17-37 20-30 27-53 83-97 15-15 57-20 70-3 43 30 35 35 23 30 17 30 20 23 27 47 20 26 26 47 4 17 13 30-2 5-5-2 4 13-7 0 7 30-5-1-4 10-6-10 0 13-9-5 4 27-10-7 3 27-10-4 2 29-20-24 0 34-27-17-8-2 1 35-20-10-70 4-43 16-20 4zM2503 8793l-8-2 0-10-5-8-23 13-7-20-17 7-6 7-10-17-10 13-7-16-7 6-6 0-7-10-10 10-8-25-5-5-10 7-5-2 10-16-10-10-10-20 38-35 83-47 7 0 33-17 37-10 27-13 30 0 3-3 30 0 3-4 60 17 80 13 24 27 6 0 5 5 14 20-2 8-3-3-5 2 3 13-10 0 3 7-1 5-25-2 6 13-13 0 5 15-23-3 3 20-10 0-3-3-12 1 3 4 2 15-37-7 2 15 3 3-1 5-60 4-54 16-20 10-8-1 0-10-3-7-5-2z"/>
<path fill="#bfc32d" d="M1633 9036l-5-28-3 0-8 12-5-5 0-20-5-5-9 18-3 0-5-32-10 17-5-2 0-10-5-5-10 20-13-43-9 25-5 2-10-37-11 32-4 0-26-80-29-35-6 6-5-1 13-30-8 5-2-5 10-20-3-7 3-10 10-13 30-60 7-7 10-23 46-57 52-55 57-20 70-3 43 30 35 35 23 30 17 30 20 23 27 47 20 26 10 17 16 47-3 13 7 20-10-7 6 30-10-3 4 3-2 12-7-10-1 2 3 3-2 12-5-9-3 0 3 27-10-7 0 14 4 3-2 12-20-24 0 34-35-19 0 14 3 3-1 18-20-10-40 0-4 4-10 0 2 25 3 3-1 12-25 1-5-38-24 10-30 7-11 15-22 18-5-5 0-20-5-12-28 25zM2543 8750l-6-24-37 17-7-17-20 14-6 0-7-14-10 7-7-17-20 14-6 0-7-14-10 14-5-19-10-10 0-6 10-10-17-24 85-48 7 0 33-17 37-10 27-13 30 0 3-3 30 0 3-4 60 17 30 3 17 24 13 3 9 8 10 20-27 0 7 14-14 0 7 13-13 0 3 13-10 0 3 7-1 8-4-3-18-2 3 10-1 12-4-3-23 0-3 3-47 3-43 17-10 0z"/>
<path fill="#d1bf27" d="M1660 9006l-7-36-23 26-5-1 0-20-5-9-5 12-7 3-5-28-13 20-7-20-10 17-5-5-1-12-14 20-10-43-8 11-3 17-4 0-16-57-7-10 0-10-7-3-3 17-8 11-5-11-27-34 0-10 10-20-2-5-6 7-2-5 13-30-6 0 3-7-3-3 6-3-3-4 47-86 46-57 52-55 57-20 70-3 43 30 35 35 23 30 17 30 20 23 27 47 20 26 16 50-1 9-2-5-3 0 6 23-10-7 10 40-3 0-5-8-3 10-7-7 0 17-2-5-6-3 3 6-2 22-20-23 2 28-5 2-18-9 5 35-37-20-2 9 4 3 1 28-66 4-60 20-7-40zM2570 8696l-7-16-16 3-14 10-6 0-7-13-7 0-26 13-9-5-1-8-14 6-6-16-10 6-5-1 10-14-17-23 12-5-2-8 18-12 7 0 33-17 37-10 27-13 30 0 3-3 30 0 3-4 4 4 23 3 7 10 10 0 23 27 7 0 5 5-10 3 3 10-10 3 3 10-10 4 4 10-9 1-3-3-12 5 4 7-2 8-53 3z"/>
<path fill="#e0bc2b" d="M1700 8970l-5-5 0-20-5-12-37 37-6-37-19 18-5 12-5-12-1-21-14 20-6-20-9 15-6 0 0-14-9-25-10 17-5-2 0-10-5-5-10 20-15-41 0-10-6 3-9 25-8-12 0-10-10-23-13-13-4-10-11-12-4 3-1-5 10-20 0-3-7-3 10-17-3-10 10-7-4-3 34-63 46-57 52-55 57-20 70-3 43 30 35 35 23 30 17 30 20 23 33 53 17 50-3 10 3 17-5-2-3 10-7-10-2 2 10 43-3 0-5-8-3 10-9-5 7 30-2 2-20-20-5 1 4 7 1 28-36-23 1 28 4 4-2 8-10-7-70 4-60 20zM2567 8643l-7-17-13 4-5-5 1-5 9-2 0-7 10-6-4-7 10-7-3-3 2-5 23-3 3 6 14 0 6 7 14 0 3 7 13 0 5 5-10 3 4 13-5 5-34 0z"/>
<path fill="#eeba34" d="M1680 8943l-7-37-36 37-5-12 0-20-5-5-10 20-7-20-10 17-5-5-8-38-14 20-6-20-9 18-6-3 0-10-9-19-13 20-22-65-16-16-4-10-10-10 7-14-5 2-2-5 14-27-4-3 10-13 14-30 46-57 52-55 57-20 70-3 43 30 35 35 23 30 17 30 20 23 23 40 10 30 0 3-5-1-1 5 10 23 0 10-10-3 3 3-2 12-6-10-2 1 3 7-1 8-7-10-2 2 7 23-2 15-16-16-2 1 2 35-34-20 0 37-10-7-70 4-20 10-10 0-30 10z"/>
<path fill="#fabb3d" d="M1760 8903l-5-2-5-38-13 7-10 0-30 10-24 23-6-37-37 37-7-20-8 15-5 2-10-44-13 20-7-20-8 15-5 2-2-15-10-20 0-10-5-5-8 18-5 2-5-18-7-10 0-10-5-5-10 20-8-5 13-24-23-33 6-13-5 1-1-5 6-6-3-4 10-16 0-7 33-47 72-78 57-20 70-3 43 30 35 35 67 93 13 40-2 8-3-6-2 1 7 20-10-3 10 37-7-4-5-8 2 15-10-7 3 17-10 0 4 10-2 8-22-11 0 13 4 3-2 19-20-14-47 0-6 4 5 38-19 2z"/>
<path fill="#fec239" d="M1703 8880l-5-2-5-38-23 23-5-2 0-10-5-8-23 27-5-25-12 8-10-20-10 20-7-23-13 20-5-25-12-29-8 19-5 1-17-43-8 18-7 4-3-7 13-27-20-23-6-3 6-10-3-7 7-10-4-3 14-24 88-98 57-20 70-3 43 30 52 55 10 20 30 40 3 23 7 10-2 8-2-5-3 0 7 20-10-6 6 23 0 13-6 0 3 14-5 1-17-13-1 15 3 7-8-5-5 1 3 4-2 15-20-14-15 2 4 7 0 20 3 3-2 8-53 4z"/>
<path fill="#feca33" d="M1700 8840l-8-2-5-22-24 24-5-9 0-13-15 8-1-15-5-8-24 23-6-20-14 20-5-25-11-28-14 20-16-47-9 19-6 3-4-7 14-23-20-27-5 2-2-5 7-10-4-3 20-34 72-78 57-20 70-3 43 30 52 55 26 43 10 37-6 0 3 13-7 0 4 17-10-4 3 17-10 0 3 20-11-5-10-10-2 12 3 10-5 1-8-5 7 17-2 8-70 4z"/>
<path fill="#fbd32e" d="M1727 8803l-7-27-37 10-13 14-7-24-23 24-10-20-10 13-5-25-15 8-10-30-12 22-3 0 0-10-15-38-12 21-6 0 0-6 10-17 0-10-17-23-5 1-2-5 10-20 72-78 57-20 70-3 43 30 35 35 23 30 14 33-2 5-5-2 7 24-14-7 4 3 0 7-7 0 3 20-8-5-5 2 3 3 0 13-10 0 4 17-12-5-50 3 5 25-18 2z"/>
<path fill="#f7dc2a" d="M1680 8763l-5-2 0-13-5-12-23 24-7-20-13 13-7-17-10 10-7-13-13 13-8-18 3-3-12-32-11 22-7 0 10-30-20-30 65-72 57-20 70-3 43 30 52 55 6 30-5 1-3-3 0 10-8-2 10 30-10-3 1 22-20-17 0 23-63 4z"/>
<path fill="#f5e526" d="M1693 8730l-11-2 0-13-5-9-14 4-10 13-6-17-14 10-10-30-13 14-7-17-10 10-5-5-3-13-13-14-7-13 10-10-3-13 38-42 57-20 70-3 30 20 28 35 13 10-3 3 10 30-10-3 2 15-12-9 10 24-2 8-6-7-29 2 5 25-40 0z"/>
<path fill="#f5ee21" d="M1687 8683l-7-17-23 7-10-17-10 10-7-13-13 10-2-8-23-30 0-10 10-10-7-7 15-15 57-20 70-3 48 45 10 16 0 7-10 0 3 3-1 9-9-5 4 6-2 9-33 0 0 20-27 0-10 6-10 0z"/>
<path fill="#f8f719" d="M1650 8636l-8-1-4-14-10-10 0-6 5-2 5-5-3-3 10-7-3-7 18-5 7-13 20 0 3 7 13-4 10 10 10-3 4 7 13 0 7 6 13 0 5 5-5 5-17 0 0 17-43 3-40 14z"/></g></g>
<line x1="72.5" y1="918.8" x2="72.5" y2="818.5" stroke="#8e8e8e" stroke-width="1.1" /><line x1="72.5" y1="918.8" x2="156.1" y2="1060.1" stroke="#8e8e8e" stroke-width="1.1" /><line x1="156.1" y1="1060.1" x2="386.9" y2="1008.9" stroke="#8e8e8e" stroke-width="1.1" /><line x1="72.5" y1="918.8" x2="70.5" y2="915.4" stroke="#8e8e8e" stroke-width="1" /><line x1="72.5" y1="896.6" x2="70.5" y2="893.2" stroke="#8e8e8e" stroke-width="1" /><line x1="72.5" y1="874.4" x2="70.5" y2="871" stroke="#8e8e8e" stroke-width="1" /><line x1="72.5" y1="852.2" x2="70.5" y2="848.8" stroke="#8e8e8e" stroke-width="1" /><line x1="72.5" y1="830" x2="70.5" y2="826.6" stroke="#8e8e8e" stroke-width="1" /><line x1="156.1" y1="1060.1" x2="152.2" y2="1061" stroke="#8e8e8e" stroke-width="1" /><line x1="142.2" y1="1036.5" x2="138.3" y2="1037.4" stroke="#8e8e8e" stroke-width="1" /><line x1="128.2" y1="1013" x2="124.3" y2="1013.9" stroke="#8e8e8e" stroke-width="1" /><line x1="114.3" y1="989.4" x2="110.4" y2="990.3" stroke="#8e8e8e" stroke-width="1" /><line x1="100.4" y1="965.9" x2="96.5" y2="966.8" stroke="#8e8e8e" stroke-width="1" /><line x1="86.4" y1="942.3" x2="82.5" y2="943.2" stroke="#8e8e8e" stroke-width="1" /><line x1="72.5" y1="918.8" x2="68.6" y2="919.7" stroke="#8e8e8e" stroke-width="1" /><line x1="194.6" y1="1051.6" x2="196.9" y2="1055.4" stroke="#8e8e8e" stroke-width="1" /><line x1="258.7" y1="1037.3" x2="261" y2="1041.2" stroke="#8e8e8e" stroke-width="1" /><line x1="322.8" y1="1023.1" x2="325.1" y2="1027" stroke="#8e8e8e" stroke-width="1" /><line x1="386.9" y1="1008.9" x2="389.2" y2="1012.8" stroke="#8e8e8e" stroke-width="1" />
<text x="66.5" y="915.2" font-size="13.3" text-anchor="end" font-weight="bold" font-style="normal" fill="#222" >0</text><text x="66.5" y="893" font-size="13.3" text-anchor="end" font-weight="bold" font-style="normal" fill="#222" >0.02</text><text x="66.5" y="870.8" font-size="13.3" text-anchor="end" font-weight="bold" font-style="normal" fill="#222" >0.04</text><text x="66.5" y="848.6" font-size="13.3" text-anchor="end" font-weight="bold" font-style="normal" fill="#222" >0.06</text><text x="66.5" y="826.4" font-size="13.3" text-anchor="end" font-weight="bold" font-style="normal" fill="#222" >0.08</text><text x="51.7" y="932.9" font-size="13.3" text-anchor="middle" font-weight="bold" font-style="normal" fill="#222" >550</text><text x="65.4" y="956.5" font-size="13.3" text-anchor="middle" font-weight="bold" font-style="normal" fill="#222" >500</text><text x="79.2" y="980.2" font-size="13.3" text-anchor="middle" font-weight="bold" font-style="normal" fill="#222" >450</text><text x="92.9" y="1003.8" font-size="13.3" text-anchor="middle" font-weight="bold" font-style="normal" fill="#222" >400</text><text x="106.6" y="1027.5" font-size="13.3" text-anchor="middle" font-weight="bold" font-style="normal" fill="#222" >350</text><text x="120.4" y="1051.1" font-size="13.3" text-anchor="middle" font-weight="bold" font-style="normal" fill="#222" >300</text><text x="134.1" y="1074.8" font-size="13.3" text-anchor="middle" font-weight="bold" font-style="normal" fill="#222" >250</text><text x="210.9" y="1072.9" font-size="13.3" text-anchor="middle" font-weight="bold" font-style="normal" fill="#222" >250</text><text x="275" y="1058.6" font-size="13.3" text-anchor="middle" font-weight="bold" font-style="normal" fill="#222" >300</text><text x="339.1" y="1044.4" font-size="13.3" text-anchor="middle" font-weight="bold" font-style="normal" fill="#222" >350</text><text x="403.2" y="1030.2" font-size="13.3" text-anchor="middle" font-weight="bold" font-style="normal" fill="#222" >400</text><text x="62.2" y="1061.6" font-size="14.6" text-anchor="middle" font-weight="bold" font-style="normal" fill="#222" >Em. (nm)</text><text x="284.9" y="1084.4" font-size="14.6" text-anchor="middle" font-weight="bold" font-style="normal" fill="#222" >Ex. (nm)</text><text x="229.9" y="759.6" font-size="13.5" text-anchor="middle" font-weight="normal" font-style="normal" fill="#333" class="n">Component 3</text><text x="38.7" y="770.2" font-size="18" text-anchor="middle" font-weight="bold" font-style="normal" fill="#222" >(c)</text>
<defs><linearGradient id="cbc" x1="0" y1="0" x2="0" y2="1"><stop offset="0.0000" stop-color="#f9fb15"/><stop offset="0.0312" stop-color="#f6ef20"/><stop offset="0.0625" stop-color="#f5e327"/><stop offset="0.0938" stop-color="#f9d62d"/><stop offset="0.1250" stop-color="#feca33"/><stop offset="0.1562" stop-color="#febe3c"/><stop offset="0.1875" stop-color="#f1ba37"/><stop offset="0.2188" stop-color="#debc2a"/><stop offset="0.2500" stop-color="#c8c129"/><stop offset="0.2812" stop-color="#afc637"/><stop offset="0.3125" stop-color="#94ca4a"/><stop offset="0.3438" stop-color="#77cc60"/><stop offset="0.3750" stop-color="#5ccc76"/><stop offset="0.4062" stop-color="#44ca8a"/><stop offset="0.4375" stop-color="#34c79c"/><stop offset="0.4688" stop-color="#28c2ab"/><stop offset="0.5000" stop-color="#12beb9"/><stop offset="0.5312" stop-color="#01b9c6"/><stop offset="0.5625" stop-color="#0cb3d3"/><stop offset="0.5938" stop-color="#1aacdd"/><stop offset="0.6250" stop-color="#21a3e3"/><stop offset="0.6562" stop-color="#269ae9"/><stop offset="0.6875" stop-color="#2c90f0"/><stop offset="0.7188" stop-color="#2e85f8"/><stop offset="0.7500" stop-color="#347afd"/><stop offset="0.7812" stop-color="#3f6efe"/><stop offset="0.8125" stop-color="#4562fc"/><stop offset="0.8438" stop-color="#4757f7"/><stop offset="0.8750" stop-color="#484cef"/><stop offset="0.9062" stop-color="#4741e5"/><stop offset="0.9375" stop-color="#4536d5"/><stop offset="0.9688" stop-color="#422ebf"/><stop offset="1.0000" stop-color="#3e26a8"/></linearGradient></defs>
<rect x="419.2" y="764.6" width="18.4" height="295" fill="url(#cbc)" stroke="#8a8a6a" stroke-width="0.6"/>
<line x1="435.4" y1="1059.6" x2="437.6" y2="1059.6" stroke="#666" stroke-width="0.7" />
<text x="442.6" y="1064.1" font-size="12.1" text-anchor="start" font-weight="bold" font-style="normal" fill="#222" >0</text>
<line x1="435.4" y1="1027.6" x2="437.6" y2="1027.6" stroke="#666" stroke-width="0.7" />
<text x="442.6" y="1032.1" font-size="12.1" text-anchor="start" font-weight="bold" font-style="normal" fill="#222" >0.01</text>
<line x1="435.4" y1="995.6" x2="437.6" y2="995.6" stroke="#666" stroke-width="0.7" />
<text x="442.6" y="1000.1" font-size="12.1" text-anchor="start" font-weight="bold" font-style="normal" fill="#222" >0.02</text>
<line x1="435.4" y1="963.6" x2="437.6" y2="963.6" stroke="#666" stroke-width="0.7" />
<text x="442.6" y="968.1" font-size="12.1" text-anchor="start" font-weight="bold" font-style="normal" fill="#222" >0.03</text>
<line x1="435.4" y1="931.6" x2="437.6" y2="931.6" stroke="#666" stroke-width="0.7" />
<text x="442.6" y="936.1" font-size="12.1" text-anchor="start" font-weight="bold" font-style="normal" fill="#222" >0.04</text>
<line x1="435.4" y1="899.6" x2="437.6" y2="899.6" stroke="#666" stroke-width="0.7" />
<text x="442.6" y="904.1" font-size="12.1" text-anchor="start" font-weight="bold" font-style="normal" fill="#222" >0.05</text>
<line x1="435.4" y1="867.6" x2="437.6" y2="867.6" stroke="#666" stroke-width="0.7" />
<text x="442.6" y="872.1" font-size="12.1" text-anchor="start" font-weight="bold" font-style="normal" fill="#222" >0.06</text>
<line x1="435.4" y1="835.6" x2="437.6" y2="835.6" stroke="#666" stroke-width="0.7" />
<text x="442.6" y="840.1" font-size="12.1" text-anchor="start" font-weight="bold" font-style="normal" fill="#222" >0.07</text>
<line x1="435.4" y1="803.6" x2="437.6" y2="803.6" stroke="#666" stroke-width="0.7" />
<text x="442.6" y="808.1" font-size="12.1" text-anchor="start" font-weight="bold" font-style="normal" fill="#222" >0.08</text>
<line x1="435.4" y1="771.6" x2="437.6" y2="771.6" stroke="#666" stroke-width="0.7" />
<text x="442.6" y="776.1" font-size="12.1" text-anchor="start" font-weight="bold" font-style="normal" fill="#222" >0.09</text>
<polyline fill="none" stroke="#f3a153" stroke-width="1.7" stroke-linejoin="round" points="598.5,329.9 607.4,311.7 616.3,291 625.2,231.2 634.2,166.8 643.1,105.7 652,75.8 661,88.8 669.9,119.9 678.8,174.3 687.7,226.4 696.6,270.4 705.6,296.1 714.5,313.3 723.4,323.5 732.4,327.8 738.6,329.9 781.4,329.9 790.4,328.3 796.6,327.8 821.6,328.3 835,328.8 845.7,329.9"/>
<polyline fill="none" stroke="#5697ba" stroke-width="1.7" stroke-linejoin="round" points="562.8,329.9 567.2,319.7 571.7,313.3 576.2,306.6 580.6,285.9 585.1,263.9 589.5,222.6 594,171.7 598.5,118.6 602.9,88.5 607.4,75.1 611.9,112.1 616.3,174.3 620.8,249.4 625.2,301.5 629.7,318.1 634.2,322.7 638.6,324 643.1,325.2 647.6,326.4 652,327.8 656.5,329.9"/>
<rect x="536" y="34.8" width="335.4" height="295.1" fill="none" stroke="#444" stroke-width="1.75"/>
<text x="536" y="352" font-size="14" text-anchor="middle" font-weight="bold" font-style="normal" fill="#222" >200</text>
<text x="580.6" y="352" font-size="14" text-anchor="middle" font-weight="bold" font-style="normal" fill="#222" >250</text>
<text x="625.2" y="352" font-size="14" text-anchor="middle" font-weight="bold" font-style="normal" fill="#222" >300</text>
<text x="669.9" y="352" font-size="14" text-anchor="middle" font-weight="bold" font-style="normal" fill="#222" >350</text>
<text x="714.5" y="352" font-size="14" text-anchor="middle" font-weight="bold" font-style="normal" fill="#222" >400</text>
<text x="759.1" y="352" font-size="14" text-anchor="middle" font-weight="bold" font-style="normal" fill="#222" >450</text>
<text x="803.8" y="352" font-size="14" text-anchor="middle" font-weight="bold" font-style="normal" fill="#222" >500</text>
<text x="848.4" y="352" font-size="14" text-anchor="middle" font-weight="bold" font-style="normal" fill="#222" >550</text>
<text x="526" y="334.8" font-size="14" text-anchor="end" font-weight="bold" font-style="normal" fill="#222" >0.0</text>
<text x="526" y="281.2" font-size="14" text-anchor="end" font-weight="bold" font-style="normal" fill="#222" >0.1</text>
<text x="526" y="227.5" font-size="14" text-anchor="end" font-weight="bold" font-style="normal" fill="#222" >0.2</text>
<text x="526" y="173.9" font-size="14" text-anchor="end" font-weight="bold" font-style="normal" fill="#222" >0.3</text>
<text x="526" y="120.3" font-size="14" text-anchor="end" font-weight="bold" font-style="normal" fill="#222" >0.4</text>
<text x="526" y="66.6" font-size="14" text-anchor="end" font-weight="bold" font-style="normal" fill="#222" >0.5</text>
<line x1="536" y1="329.9" x2="536" y2="335.4" stroke="#444" stroke-width="1.4" /><line x1="558.3" y1="329.9" x2="558.3" y2="332.9" stroke="#444" stroke-width="1.4" /><line x1="580.6" y1="329.9" x2="580.6" y2="335.4" stroke="#444" stroke-width="1.4" /><line x1="602.9" y1="329.9" x2="602.9" y2="332.9" stroke="#444" stroke-width="1.4" /><line x1="625.2" y1="329.9" x2="625.2" y2="335.4" stroke="#444" stroke-width="1.4" /><line x1="647.6" y1="329.9" x2="647.6" y2="332.9" stroke="#444" stroke-width="1.4" /><line x1="669.9" y1="329.9" x2="669.9" y2="335.4" stroke="#444" stroke-width="1.4" /><line x1="692.2" y1="329.9" x2="692.2" y2="332.9" stroke="#444" stroke-width="1.4" /><line x1="714.5" y1="329.9" x2="714.5" y2="335.4" stroke="#444" stroke-width="1.4" /><line x1="736.8" y1="329.9" x2="736.8" y2="332.9" stroke="#444" stroke-width="1.4" /><line x1="759.1" y1="329.9" x2="759.1" y2="335.4" stroke="#444" stroke-width="1.4" /><line x1="781.4" y1="329.9" x2="781.4" y2="332.9" stroke="#444" stroke-width="1.4" /><line x1="803.8" y1="329.9" x2="803.8" y2="335.4" stroke="#444" stroke-width="1.4" /><line x1="826.1" y1="329.9" x2="826.1" y2="332.9" stroke="#444" stroke-width="1.4" /><line x1="848.4" y1="329.9" x2="848.4" y2="335.4" stroke="#444" stroke-width="1.4" /><line x1="536" y1="329.9" x2="531.2" y2="329.9" stroke="#444" stroke-width="1.4" /><line x1="536" y1="303.1" x2="533.4" y2="303.1" stroke="#444" stroke-width="1.4" /><line x1="536" y1="276.3" x2="531.2" y2="276.3" stroke="#444" stroke-width="1.4" /><line x1="536" y1="249.4" x2="533.4" y2="249.4" stroke="#444" stroke-width="1.4" /><line x1="536" y1="222.6" x2="531.2" y2="222.6" stroke="#444" stroke-width="1.4" /><line x1="536" y1="195.8" x2="533.4" y2="195.8" stroke="#444" stroke-width="1.4" /><line x1="536" y1="169" x2="531.2" y2="169" stroke="#444" stroke-width="1.4" /><line x1="536" y1="142.2" x2="533.4" y2="142.2" stroke="#444" stroke-width="1.4" /><line x1="536" y1="115.3" x2="531.2" y2="115.3" stroke="#444" stroke-width="1.4" /><line x1="536" y1="88.5" x2="533.4" y2="88.5" stroke="#444" stroke-width="1.4" /><line x1="536" y1="61.7" x2="531.2" y2="61.7" stroke="#444" stroke-width="1.4" />
<text x="704.2" y="379.2" font-size="15.5" text-anchor="middle" font-weight="bold" font-style="normal" fill="#222" >Wavelength (nm)</text>
<text x="498" y="182.3" font-size="15" text-anchor="middle" font-weight="bold" font-style="normal" fill="#222" transform="rotate(-90 498 182.3)">Loadings</text>
<line x1="799.6" y1="51.4" x2="828" y2="51.4" stroke="#5697ba" stroke-width="1.6" />
<line x1="799.6" y1="71" x2="828" y2="71" stroke="#f3a153" stroke-width="1.6" />
<text x="835.5" y="56.7" font-size="14.5" text-anchor="start" font-weight="bold" font-style="normal" fill="#222" >Ex</text>
<text x="835.5" y="76.3" font-size="14.5" text-anchor="start" font-weight="bold" font-style="normal" fill="#222" >Em</text>
<polyline fill="none" stroke="#f3a153" stroke-width="1.7" stroke-linejoin="round" points="581,697.6 589.9,693.9 598.7,691.4 607.6,686.7 612,678.3 616.5,668.8 620.9,644.4 625.4,620 634.2,575.1 643.1,543.5 652,529.1 660.9,524.4 669.7,558.1 678.6,577 687.5,605 696.4,636.9 705.2,656.6 714.1,669.8 723,677.1 731.9,683.2 740.7,682.2 749.6,684.6 758.5,683.9 767.4,685 776.2,689 785.1,694.1 794,696.8 802.9,697.4 811.7,697.6 847.2,697.6"/>
<polyline fill="none" stroke="#5697ba" stroke-width="1.7" stroke-linejoin="round" points="554.4,655.8 558.8,594 563.2,534.9 567.7,569.5 572.1,631.4 576.5,659.4 581,665.3 585.4,657.8 589.9,638.9 594.3,615.6 598.7,592 603.2,565.6 607.6,561.7 612,568 616.5,592 620.9,628.3 625.4,668.1 629.8,688.9 634.2,696.8 638.7,697.6"/>
<rect x="536.6" y="403" width="332.9" height="294.6" fill="none" stroke="#444" stroke-width="1.75"/>
<text x="536.6" y="719.7" font-size="14" text-anchor="middle" font-weight="bold" font-style="normal" fill="#222" >200</text>
<text x="581" y="719.7" font-size="14" text-anchor="middle" font-weight="bold" font-style="normal" fill="#222" >250</text>
<text x="625.4" y="719.7" font-size="14" text-anchor="middle" font-weight="bold" font-style="normal" fill="#222" >300</text>
<text x="669.7" y="719.7" font-size="14" text-anchor="middle" font-weight="bold" font-style="normal" fill="#222" >350</text>
<text x="714.1" y="719.7" font-size="14" text-anchor="middle" font-weight="bold" font-style="normal" fill="#222" >400</text>
<text x="758.5" y="719.7" font-size="14" text-anchor="middle" font-weight="bold" font-style="normal" fill="#222" >450</text>
<text x="802.9" y="719.7" font-size="14" text-anchor="middle" font-weight="bold" font-style="normal" fill="#222" >500</text>
<text x="847.2" y="719.7" font-size="14" text-anchor="middle" font-weight="bold" font-style="normal" fill="#222" >550</text>
<text x="526.6" y="702.5" font-size="14" text-anchor="end" font-weight="bold" font-style="normal" fill="#222" >0.0</text>
<text x="526.6" y="663.1" font-size="14" text-anchor="end" font-weight="bold" font-style="normal" fill="#222" >0.1</text>
<text x="526.6" y="623.7" font-size="14" text-anchor="end" font-weight="bold" font-style="normal" fill="#222" >0.2</text>
<text x="526.6" y="584.3" font-size="14" text-anchor="end" font-weight="bold" font-style="normal" fill="#222" >0.3</text>
<text x="526.6" y="544.9" font-size="14" text-anchor="end" font-weight="bold" font-style="normal" fill="#222" >0.4</text>
<text x="526.6" y="505.5" font-size="14" text-anchor="end" font-weight="bold" font-style="normal" fill="#222" >0.5</text>
<text x="526.6" y="466.1" font-size="14" text-anchor="end" font-weight="bold" font-style="normal" fill="#222" >0.6</text>
<text x="526.6" y="426.7" font-size="14" text-anchor="end" font-weight="bold" font-style="normal" fill="#222" >0.7</text>
<line x1="536.6" y1="697.6" x2="536.6" y2="703.1" stroke="#444" stroke-width="1.4" /><line x1="558.8" y1="697.6" x2="558.8" y2="700.6" stroke="#444" stroke-width="1.4" /><line x1="581" y1="697.6" x2="581" y2="703.1" stroke="#444" stroke-width="1.4" /><line x1="603.2" y1="697.6" x2="603.2" y2="700.6" stroke="#444" stroke-width="1.4" /><line x1="625.4" y1="697.6" x2="625.4" y2="703.1" stroke="#444" stroke-width="1.4" /><line x1="647.5" y1="697.6" x2="647.5" y2="700.6" stroke="#444" stroke-width="1.4" /><line x1="669.7" y1="697.6" x2="669.7" y2="703.1" stroke="#444" stroke-width="1.4" /><line x1="691.9" y1="697.6" x2="691.9" y2="700.6" stroke="#444" stroke-width="1.4" /><line x1="714.1" y1="697.6" x2="714.1" y2="703.1" stroke="#444" stroke-width="1.4" /><line x1="736.3" y1="697.6" x2="736.3" y2="700.6" stroke="#444" stroke-width="1.4" /><line x1="758.5" y1="697.6" x2="758.5" y2="703.1" stroke="#444" stroke-width="1.4" /><line x1="780.7" y1="697.6" x2="780.7" y2="700.6" stroke="#444" stroke-width="1.4" /><line x1="802.9" y1="697.6" x2="802.9" y2="703.1" stroke="#444" stroke-width="1.4" /><line x1="825" y1="697.6" x2="825" y2="700.6" stroke="#444" stroke-width="1.4" /><line x1="847.2" y1="697.6" x2="847.2" y2="703.1" stroke="#444" stroke-width="1.4" /><line x1="536.6" y1="697.6" x2="531.8" y2="697.6" stroke="#444" stroke-width="1.4" /><line x1="536.6" y1="677.9" x2="534" y2="677.9" stroke="#444" stroke-width="1.4" /><line x1="536.6" y1="658.2" x2="531.8" y2="658.2" stroke="#444" stroke-width="1.4" /><line x1="536.6" y1="638.5" x2="534" y2="638.5" stroke="#444" stroke-width="1.4" /><line x1="536.6" y1="618.8" x2="531.8" y2="618.8" stroke="#444" stroke-width="1.4" /><line x1="536.6" y1="599.1" x2="534" y2="599.1" stroke="#444" stroke-width="1.4" /><line x1="536.6" y1="579.4" x2="531.8" y2="579.4" stroke="#444" stroke-width="1.4" /><line x1="536.6" y1="559.7" x2="534" y2="559.7" stroke="#444" stroke-width="1.4" /><line x1="536.6" y1="540" x2="531.8" y2="540" stroke="#444" stroke-width="1.4" /><line x1="536.6" y1="520.3" x2="534" y2="520.3" stroke="#444" stroke-width="1.4" /><line x1="536.6" y1="500.6" x2="531.8" y2="500.6" stroke="#444" stroke-width="1.4" /><line x1="536.6" y1="480.9" x2="534" y2="480.9" stroke="#444" stroke-width="1.4" /><line x1="536.6" y1="461.2" x2="531.8" y2="461.2" stroke="#444" stroke-width="1.4" /><line x1="536.6" y1="441.5" x2="534" y2="441.5" stroke="#444" stroke-width="1.4" /><line x1="536.6" y1="421.8" x2="531.8" y2="421.8" stroke="#444" stroke-width="1.4" />
<text x="703.5" y="746.9" font-size="15.5" text-anchor="middle" font-weight="bold" font-style="normal" fill="#222" >Wavelength (nm)</text>
<text x="498.6" y="550.3" font-size="15" text-anchor="middle" font-weight="bold" font-style="normal" fill="#222" transform="rotate(-90 498.6 550.3)">Loadings</text>
<line x1="794.5" y1="420.6" x2="822.5" y2="420.6" stroke="#5697ba" stroke-width="1.6" />
<line x1="794.5" y1="439.7" x2="822.5" y2="439.7" stroke="#f3a153" stroke-width="1.6" />
<text x="830" y="425.9" font-size="14.5" text-anchor="start" font-weight="bold" font-style="normal" fill="#222" >Ex</text>
<text x="830" y="445" font-size="14.5" text-anchor="start" font-weight="bold" font-style="normal" fill="#222" >Em</text>
<polyline fill="none" stroke="#f3a153" stroke-width="1.7" stroke-linejoin="round" points="581.2,1059.7 607.8,1059.7 616.7,1053.6 625.5,1048.9 634.4,1050.8 643.3,1054.5 652.1,1039.7 661,1027.3 669.9,1030.1 678.7,992.7 687.6,966.5 696.5,944.3 705.3,923.4 714.2,890.2 723,854.3 731.9,834.9 740.8,824.7 749.6,827.4 758.5,847.3 767.4,872.2 776.2,904.1 785.1,931.9 794,956.7 802.8,974.9 811.7,992.7 820.5,1009.3 829.4,1022.3 838.3,1034.3 847.1,1041.7"/>
<polyline fill="none" stroke="#5697ba" stroke-width="1.7" stroke-linejoin="round" points="554.6,1050 559.1,1055.5 563.5,1055.5 567.9,1052.2 572.4,1027.3 576.8,981.5 581.2,951.5 585.7,923.4 590.1,904.1 594.5,894.4 598.9,893 603.4,894.9 607.8,905.5 612.2,923.4 616.7,943 621.1,960.9 625.5,965.8 630,963.2 634.4,958 638.8,951.1 643.3,943 647.7,935.8 652.1,931.9 656.6,929.6 661,928.2 665.4,929.6 669.9,934.5 674.3,938.7 678.7,944.3 683.2,952.8 687.6,967.8 692,983 696.5,998.4 700.9,1009.3 705.3,1019 709.7,1025.9 714.2,1032"/>
<rect x="536.9" y="766.1" width="332.6" height="293.6" fill="none" stroke="#444" stroke-width="1.75"/>
<text x="536.9" y="1081.8" font-size="14" text-anchor="middle" font-weight="bold" font-style="normal" fill="#222" >200</text>
<text x="581.2" y="1081.8" font-size="14" text-anchor="middle" font-weight="bold" font-style="normal" fill="#222" >250</text>
<text x="625.5" y="1081.8" font-size="14" text-anchor="middle" font-weight="bold" font-style="normal" fill="#222" >300</text>
<text x="669.9" y="1081.8" font-size="14" text-anchor="middle" font-weight="bold" font-style="normal" fill="#222" >350</text>
<text x="714.2" y="1081.8" font-size="14" text-anchor="middle" font-weight="bold" font-style="normal" fill="#222" >400</text>
<text x="758.5" y="1081.8" font-size="14" text-anchor="middle" font-weight="bold" font-style="normal" fill="#222" >450</text>
<text x="802.8" y="1081.8" font-size="14" text-anchor="middle" font-weight="bold" font-style="normal" fill="#222" >500</text>
<text x="847.1" y="1081.8" font-size="14" text-anchor="middle" font-weight="bold" font-style="normal" fill="#222" >550</text>
<text x="526.9" y="1064.6" font-size="14" text-anchor="end" font-weight="bold" font-style="normal" fill="#222" >0.0</text>
<text x="526.9" y="999.4" font-size="14" text-anchor="end" font-weight="bold" font-style="normal" fill="#222" >0.1</text>
<text x="526.9" y="934.2" font-size="14" text-anchor="end" font-weight="bold" font-style="normal" fill="#222" >0.2</text>
<text x="526.9" y="869" font-size="14" text-anchor="end" font-weight="bold" font-style="normal" fill="#222" >0.3</text>
<text x="526.9" y="803.8" font-size="14" text-anchor="end" font-weight="bold" font-style="normal" fill="#222" >0.4</text>
<line x1="536.9" y1="1059.7" x2="536.9" y2="1065.2" stroke="#444" stroke-width="1.4" /><line x1="559.1" y1="1059.7" x2="559.1" y2="1062.7" stroke="#444" stroke-width="1.4" /><line x1="581.2" y1="1059.7" x2="581.2" y2="1065.2" stroke="#444" stroke-width="1.4" /><line x1="603.4" y1="1059.7" x2="603.4" y2="1062.7" stroke="#444" stroke-width="1.4" /><line x1="625.5" y1="1059.7" x2="625.5" y2="1065.2" stroke="#444" stroke-width="1.4" /><line x1="647.7" y1="1059.7" x2="647.7" y2="1062.7" stroke="#444" stroke-width="1.4" /><line x1="669.9" y1="1059.7" x2="669.9" y2="1065.2" stroke="#444" stroke-width="1.4" /><line x1="692" y1="1059.7" x2="692" y2="1062.7" stroke="#444" stroke-width="1.4" /><line x1="714.2" y1="1059.7" x2="714.2" y2="1065.2" stroke="#444" stroke-width="1.4" /><line x1="736.3" y1="1059.7" x2="736.3" y2="1062.7" stroke="#444" stroke-width="1.4" /><line x1="758.5" y1="1059.7" x2="758.5" y2="1065.2" stroke="#444" stroke-width="1.4" /><line x1="780.7" y1="1059.7" x2="780.7" y2="1062.7" stroke="#444" stroke-width="1.4" /><line x1="802.8" y1="1059.7" x2="802.8" y2="1065.2" stroke="#444" stroke-width="1.4" /><line x1="825" y1="1059.7" x2="825" y2="1062.7" stroke="#444" stroke-width="1.4" /><line x1="847.1" y1="1059.7" x2="847.1" y2="1065.2" stroke="#444" stroke-width="1.4" /><line x1="536.9" y1="1059.7" x2="532.1" y2="1059.7" stroke="#444" stroke-width="1.4" /><line x1="536.9" y1="1027.1" x2="534.3" y2="1027.1" stroke="#444" stroke-width="1.4" /><line x1="536.9" y1="994.5" x2="532.1" y2="994.5" stroke="#444" stroke-width="1.4" /><line x1="536.9" y1="961.9" x2="534.3" y2="961.9" stroke="#444" stroke-width="1.4" /><line x1="536.9" y1="929.3" x2="532.1" y2="929.3" stroke="#444" stroke-width="1.4" /><line x1="536.9" y1="896.7" x2="534.3" y2="896.7" stroke="#444" stroke-width="1.4" /><line x1="536.9" y1="864.1" x2="532.1" y2="864.1" stroke="#444" stroke-width="1.4" /><line x1="536.9" y1="831.5" x2="534.3" y2="831.5" stroke="#444" stroke-width="1.4" /><line x1="536.9" y1="798.9" x2="532.1" y2="798.9" stroke="#444" stroke-width="1.4" />
<text x="703.7" y="1109" font-size="15.5" text-anchor="middle" font-weight="bold" font-style="normal" fill="#222" >Wavelength (nm)</text>
<text x="498.9" y="912.9" font-size="15" text-anchor="middle" font-weight="bold" font-style="normal" fill="#222" transform="rotate(-90 498.9 912.9)">Loadings</text>
<line x1="802.2" y1="781.3" x2="830.7" y2="781.3" stroke="#5697ba" stroke-width="1.6" />
<line x1="802.2" y1="800.7" x2="830.7" y2="800.7" stroke="#f3a153" stroke-width="1.6" />
<text x="838.2" y="786.6" font-size="14.5" text-anchor="start" font-weight="bold" font-style="normal" fill="#222" >Ex</text>
<text x="838.2" y="806" font-size="14.5" text-anchor="start" font-weight="bold" font-style="normal" fill="#222" >Em</text>
<rect x="969.3" y="34" width="343.3" height="19.5" fill="#b3b3b3"/>
<line x1="1140.9" y1="53.5" x2="1140.9" y2="330.4" stroke="#333" stroke-width="1.3" stroke-dasharray="3 2.6"/>
<rect x="974.9" y="299.6" width="45.6" height="30.8" fill="#76aed0" stroke="#1b3346" stroke-width="1.5"/>
<rect x="974.9" y="282.1" width="45.6" height="17.5" fill="#f2c7b8" stroke="#43302c" stroke-width="1.5"/>
<rect x="974.9" y="281.1" width="45.6" height="1" fill="#e7727f" stroke="#4a1f28" stroke-width="1.5"/>
<rect x="1032.1" y="208.2" width="45.6" height="122.2" fill="#76aed0" stroke="#1b3346" stroke-width="1.5"/>
<rect x="1032.1" y="116.7" width="45.6" height="91.5" fill="#f2c7b8" stroke="#43302c" stroke-width="1.5"/>
<rect x="1032.1" y="113.6" width="45.6" height="3" fill="#e7727f" stroke="#4a1f28" stroke-width="1.5"/>
<rect x="1089.2" y="171.3" width="45.6" height="159.1" fill="#76aed0" stroke="#1b3346" stroke-width="1.5"/>
<rect x="1089.2" y="108.8" width="45.6" height="62.5" fill="#f2c7b8" stroke="#43302c" stroke-width="1.5"/>
<rect x="1089.2" y="103.8" width="45.6" height="5" fill="#e7727f" stroke="#4a1f28" stroke-width="1.5"/>
<rect x="1146.5" y="319.9" width="45.6" height="10.5" fill="#76aed0" stroke="#1b3346" stroke-width="1.5"/>
<rect x="1146.5" y="318.5" width="45.6" height="1.5" fill="#f2c7b8" stroke="#43302c" stroke-width="1.5"/>
<rect x="1146.5" y="317.9" width="45.6" height="0.5" fill="#e7727f" stroke="#4a1f28" stroke-width="1.5"/>
<rect x="1203.8" y="286.5" width="45.6" height="43.9" fill="#76aed0" stroke="#1b3346" stroke-width="1.5"/>
<rect x="1203.8" y="285.4" width="45.6" height="1.1" fill="#f2c7b8" stroke="#43302c" stroke-width="1.5"/>
<rect x="1203.8" y="281.5" width="45.6" height="3.8" fill="#e7727f" stroke="#4a1f28" stroke-width="1.5"/>
<rect x="1261" y="287.9" width="45.6" height="42.5" fill="#76aed0" stroke="#1b3346" stroke-width="1.5"/>
<rect x="1261" y="287.1" width="45.6" height="0.8" fill="#f2c7b8" stroke="#43302c" stroke-width="1.5"/>
<rect x="1261" y="281.5" width="45.6" height="5.6" fill="#e7727f" stroke="#4a1f28" stroke-width="1.5"/>
<rect x="969.3" y="34" width="343.3" height="296.4" fill="none" stroke="#444" stroke-width="1.75"/>
<line x1="968.6" y1="53.5" x2="1313.3" y2="53.5" stroke="#1a1a1a" stroke-width="2.0" />
<line x1="1140.9" y1="34" x2="1140.9" y2="53.5" stroke="#2a2a2a" stroke-width="1.5" />
<line x1="969.3" y1="330.4" x2="964.1" y2="330.4" stroke="#444" stroke-width="1.4" />
<text x="958.8" y="335.3" font-size="14" text-anchor="end" font-weight="bold" font-style="normal" fill="#222" >0</text>
<line x1="969.3" y1="261.1" x2="964.1" y2="261.1" stroke="#444" stroke-width="1.4" />
<text x="958.8" y="266.1" font-size="14" text-anchor="end" font-weight="bold" font-style="normal" fill="#222" >4000</text>
<line x1="969.3" y1="191.9" x2="964.1" y2="191.9" stroke="#444" stroke-width="1.4" />
<text x="958.8" y="196.8" font-size="14" text-anchor="end" font-weight="bold" font-style="normal" fill="#222" >8000</text>
<line x1="969.3" y1="122.6" x2="964.1" y2="122.6" stroke="#444" stroke-width="1.4" />
<text x="958.8" y="127.6" font-size="14" text-anchor="end" font-weight="bold" font-style="normal" fill="#222" >12000</text>
<line x1="969.3" y1="53.4" x2="964.1" y2="53.4" stroke="#444" stroke-width="1.4" />
<text x="958.8" y="58.3" font-size="14" text-anchor="end" font-weight="bold" font-style="normal" fill="#222" >16000</text>
<line x1="969.3" y1="295.8" x2="966.5" y2="295.8" stroke="#444" stroke-width="1.3" />
<line x1="969.3" y1="226.5" x2="966.5" y2="226.5" stroke="#444" stroke-width="1.3" />
<line x1="969.3" y1="157.3" x2="966.5" y2="157.3" stroke="#444" stroke-width="1.3" />
<line x1="969.3" y1="88" x2="966.5" y2="88" stroke="#444" stroke-width="1.3" />
<line x1="997.7" y1="330.4" x2="997.7" y2="335.8" stroke="#444" stroke-width="1.4" />
<line x1="1026.3" y1="330.4" x2="1026.3" y2="333.2" stroke="#444" stroke-width="1.3" />
<text x="997.7" y="351.3" font-size="13" text-anchor="middle" font-weight="bold" font-style="normal" fill="#222" >0d</text>
<line x1="1054.9" y1="330.4" x2="1054.9" y2="335.8" stroke="#444" stroke-width="1.4" />
<line x1="1083.5" y1="330.4" x2="1083.5" y2="333.2" stroke="#444" stroke-width="1.3" />
<text x="1054.9" y="351.3" font-size="13" text-anchor="middle" font-weight="bold" font-style="normal" fill="#222" >5d</text>
<line x1="1112" y1="330.4" x2="1112" y2="335.8" stroke="#444" stroke-width="1.4" />
<line x1="1140.6" y1="330.4" x2="1140.6" y2="333.2" stroke="#444" stroke-width="1.3" />
<text x="1112" y="351.3" font-size="13" text-anchor="middle" font-weight="bold" font-style="normal" fill="#222" >10d</text>
<line x1="1169.3" y1="330.4" x2="1169.3" y2="335.8" stroke="#444" stroke-width="1.4" />
<line x1="1197.9" y1="330.4" x2="1197.9" y2="333.2" stroke="#444" stroke-width="1.3" />
<text x="1169.3" y="351.3" font-size="13" text-anchor="middle" font-weight="bold" font-style="normal" fill="#222" >0d</text>
<line x1="1226.6" y1="330.4" x2="1226.6" y2="335.8" stroke="#444" stroke-width="1.4" />
<line x1="1255.2" y1="330.4" x2="1255.2" y2="333.2" stroke="#444" stroke-width="1.3" />
<text x="1226.6" y="351.3" font-size="13" text-anchor="middle" font-weight="bold" font-style="normal" fill="#222" >5d</text>
<line x1="1283.8" y1="330.4" x2="1283.8" y2="335.8" stroke="#444" stroke-width="1.4" />
<text x="1283.8" y="351.3" font-size="13" text-anchor="middle" font-weight="bold" font-style="normal" fill="#222" >10d</text>
<text x="1140.9" y="373.5" font-size="16" text-anchor="middle" font-weight="bold" font-style="normal" fill="#222" >Incubation time (d)</text>
<text x="900.6" y="190.5" font-size="15.7" text-anchor="middle" font-weight="bold" font-style="normal" fill="#222" transform="rotate(-90 900.6 190.5)">The maximum</text>
<text x="920.2" y="186.5" font-size="15.7" text-anchor="middle" font-weight="bold" font-style="normal" fill="#222" transform="rotate(-90 920.2 186.5)">fluorescence intensity (a.u.)</text>
<text x="1055.3" y="49.2" font-size="16.3" text-anchor="middle" font-weight="bold" fill="#1e1e1e" xml:space="preserve"><tspan font-style="italic">M. aeruginosa</tspan><tspan font-style="normal"> - IOM</tspan></text>
<text x="1228.7" y="49.2" font-size="16.3" text-anchor="middle" font-weight="bold" fill="#1e1e1e" xml:space="preserve"><tspan font-style="italic">M. aeruginosa</tspan><tspan font-style="normal"> - EOM</tspan></text>
<rect x="1183.1" y="66.6" width="29.1" height="14" fill="#76aed0" stroke="#1b3346" stroke-width="1.4"/>
<text x="1218.9" y="78.6" font-size="14.2" text-anchor="start" font-weight="bold" font-style="normal" fill="#222" >Component 1</text>
<rect x="1183.1" y="84.6" width="29.1" height="14" fill="#f2c7b8" stroke="#43302c" stroke-width="1.4"/>
<text x="1218.9" y="96.6" font-size="14.2" text-anchor="start" font-weight="bold" font-style="normal" fill="#222" >Component 2</text>
<rect x="1183.1" y="102.5" width="29.1" height="14.1" fill="#e7727f" stroke="#4a1f28" stroke-width="1.4"/>
<text x="1218.9" y="114.5" font-size="14.2" text-anchor="start" font-weight="bold" font-style="normal" fill="#222" >Component 3</text>
<text x="900.6" y="35.8" font-size="18" text-anchor="middle" font-weight="bold" font-style="normal" fill="#222" >(d)</text>
<rect x="971.1" y="403.7" width="340.1" height="18.4" fill="#b3b3b3"/>
<line x1="1140.9" y1="422.1" x2="1140.9" y2="698.3" stroke="#333" stroke-width="1.3" stroke-dasharray="3 2.6"/>
<rect x="976.4" y="696.2" width="45.3" height="2.1" fill="#76aed0" stroke="#1b3346" stroke-width="1.5"/>
<rect x="976.4" y="598.7" width="45.3" height="97.5" fill="#f2c7b8" stroke="#43302c" stroke-width="1.5"/>
<rect x="976.4" y="585.6" width="45.3" height="13.1" fill="#e7727f" stroke="#4a1f28" stroke-width="1.5"/>
<rect x="976.4" y="582.4" width="45.3" height="3.2" fill="#2f74a9" stroke="#0e2a42" stroke-width="1.5"/>
<rect x="1033.2" y="638" width="45.3" height="60.3" fill="#f2c7b8" stroke="#43302c" stroke-width="1.5"/>
<rect x="1033.2" y="634.2" width="45.3" height="3.8" fill="#e7727f" stroke="#4a1f28" stroke-width="1.5"/>
<rect x="1033.2" y="629.9" width="45.3" height="4.3" fill="#2f74a9" stroke="#0e2a42" stroke-width="1.5"/>
<rect x="1090.1" y="691.6" width="45.3" height="6.7" fill="#76aed0" stroke="#1b3346" stroke-width="1.5"/>
<rect x="1090.1" y="673.5" width="45.3" height="18.1" fill="#f2c7b8" stroke="#43302c" stroke-width="1.5"/>
<rect x="1090.1" y="670.3" width="45.3" height="3.2" fill="#e7727f" stroke="#4a1f28" stroke-width="1.5"/>
<rect x="1090.1" y="669.3" width="45.3" height="1" fill="#2f74a9" stroke="#0e2a42" stroke-width="1.5"/>
<rect x="1146.8" y="674.4" width="45.3" height="23.9" fill="#76aed0" stroke="#1b3346" stroke-width="1.5"/>
<rect x="1146.8" y="627.5" width="45.3" height="46.9" fill="#f2c7b8" stroke="#43302c" stroke-width="1.5"/>
<rect x="1146.8" y="484.7" width="45.3" height="142.8" fill="#e7727f" stroke="#4a1f28" stroke-width="1.5"/>
<rect x="1146.8" y="461.1" width="45.3" height="23.6" fill="#2f74a9" stroke="#0e2a42" stroke-width="1.5"/>
<rect x="1203.5" y="608.9" width="45.3" height="89.4" fill="#76aed0" stroke="#1b3346" stroke-width="1.5"/>
<rect x="1203.5" y="592.9" width="45.3" height="16" fill="#f2c7b8" stroke="#43302c" stroke-width="1.5"/>
<rect x="1203.5" y="576" width="45.3" height="16.9" fill="#e7727f" stroke="#4a1f28" stroke-width="1.5"/>
<rect x="1203.5" y="563.5" width="45.3" height="12.5" fill="#2f74a9" stroke="#0e2a42" stroke-width="1.5"/>
<rect x="1260.3" y="590" width="45.3" height="108.3" fill="#76aed0" stroke="#1b3346" stroke-width="1.5"/>
<rect x="1260.3" y="572.2" width="45.3" height="17.8" fill="#e7727f" stroke="#4a1f28" stroke-width="1.5"/>
<rect x="1260.3" y="558.9" width="45.3" height="13.3" fill="#2f74a9" stroke="#0e2a42" stroke-width="1.5"/>
<rect x="971.1" y="403.7" width="340.1" height="294.6" fill="none" stroke="#444" stroke-width="1.75"/>
<line x1="970.4" y1="422.1" x2="1311.9" y2="422.1" stroke="#1a1a1a" stroke-width="2.0" />
<line x1="1140.9" y1="403.7" x2="1140.9" y2="422.1" stroke="#2a2a2a" stroke-width="1.5" />
<line x1="971.1" y1="698.3" x2="965.9" y2="698.3" stroke="#444" stroke-width="1.4" />
<text x="960.6" y="703.2" font-size="14" text-anchor="end" font-weight="bold" font-style="normal" fill="#222" >0</text>
<line x1="971.1" y1="629.2" x2="965.9" y2="629.2" stroke="#444" stroke-width="1.4" />
<text x="960.6" y="634.2" font-size="14" text-anchor="end" font-weight="bold" font-style="normal" fill="#222" >1000</text>
<line x1="971.1" y1="560.2" x2="965.9" y2="560.2" stroke="#444" stroke-width="1.4" />
<text x="960.6" y="565.1" font-size="14" text-anchor="end" font-weight="bold" font-style="normal" fill="#222" >2000</text>
<line x1="971.1" y1="491.1" x2="965.9" y2="491.1" stroke="#444" stroke-width="1.4" />
<text x="960.6" y="496.1" font-size="14" text-anchor="end" font-weight="bold" font-style="normal" fill="#222" >3000</text>
<line x1="971.1" y1="422.1" x2="965.9" y2="422.1" stroke="#444" stroke-width="1.4" />
<text x="960.6" y="427" font-size="14" text-anchor="end" font-weight="bold" font-style="normal" fill="#222" >4000</text>
<line x1="971.1" y1="663.8" x2="968.3" y2="663.8" stroke="#444" stroke-width="1.3" />
<line x1="971.1" y1="594.7" x2="968.3" y2="594.7" stroke="#444" stroke-width="1.3" />
<line x1="971.1" y1="525.7" x2="968.3" y2="525.7" stroke="#444" stroke-width="1.3" />
<line x1="971.1" y1="456.6" x2="968.3" y2="456.6" stroke="#444" stroke-width="1.3" />
<line x1="999" y1="698.3" x2="999" y2="703.7" stroke="#444" stroke-width="1.4" />
<line x1="1027.5" y1="698.3" x2="1027.5" y2="701.1" stroke="#444" stroke-width="1.3" />
<text x="999" y="718.6" font-size="13" text-anchor="middle" font-weight="bold" font-style="normal" fill="#222" >0d</text>
<line x1="1055.9" y1="698.3" x2="1055.9" y2="703.7" stroke="#444" stroke-width="1.4" />
<line x1="1084.4" y1="698.3" x2="1084.4" y2="701.1" stroke="#444" stroke-width="1.3" />
<text x="1055.9" y="718.6" font-size="13" text-anchor="middle" font-weight="bold" font-style="normal" fill="#222" >5d</text>
<line x1="1112.8" y1="698.3" x2="1112.8" y2="703.7" stroke="#444" stroke-width="1.4" />
<line x1="1141.2" y1="698.3" x2="1141.2" y2="701.1" stroke="#444" stroke-width="1.3" />
<text x="1112.8" y="718.6" font-size="13" text-anchor="middle" font-weight="bold" font-style="normal" fill="#222" >10d</text>
<line x1="1169.5" y1="698.3" x2="1169.5" y2="703.7" stroke="#444" stroke-width="1.4" />
<line x1="1198" y1="698.3" x2="1198" y2="701.1" stroke="#444" stroke-width="1.3" />
<text x="1169.5" y="718.6" font-size="13" text-anchor="middle" font-weight="bold" font-style="normal" fill="#222" >0d</text>
<line x1="1226.2" y1="698.3" x2="1226.2" y2="703.7" stroke="#444" stroke-width="1.4" />
<line x1="1254.7" y1="698.3" x2="1254.7" y2="701.1" stroke="#444" stroke-width="1.3" />
<text x="1226.2" y="718.6" font-size="13" text-anchor="middle" font-weight="bold" font-style="normal" fill="#222" >5d</text>
<line x1="1283" y1="698.3" x2="1283" y2="703.7" stroke="#444" stroke-width="1.4" />
<text x="1283" y="718.6" font-size="13" text-anchor="middle" font-weight="bold" font-style="normal" fill="#222" >10d</text>
<text x="1140.9" y="735.8" font-size="16" text-anchor="middle" font-weight="bold" font-style="normal" fill="#222" >Incubation time (d)</text>
<text x="902.4" y="554" font-size="15.7" text-anchor="middle" font-weight="bold" font-style="normal" fill="#222" transform="rotate(-90 902.4 554)">The maximum</text>
<text x="922" y="550" font-size="15.7" text-anchor="middle" font-weight="bold" font-style="normal" fill="#222" transform="rotate(-90 922 550)">fluorescence intensity (a.u.)</text>
<text x="1056" y="417.6" font-size="13.6" text-anchor="middle" font-weight="bold" fill="#1e1e1e" xml:space="preserve"><tspan font-style="italic">Fusarium solani</tspan><tspan font-style="normal"> D7 - IOM</tspan></text>
<text x="1226" y="417.6" font-size="13.6" text-anchor="middle" font-weight="bold" fill="#1e1e1e" xml:space="preserve"><tspan font-style="italic">Fusarium solani</tspan><tspan font-style="normal"> D7 - EOM</tspan></text>
<rect x="982.2" y="432.3" width="28.5" height="14.5" fill="#76aed0" stroke="#1b3346" stroke-width="1.4"/>
<text x="1018" y="444.5" font-size="14.2" text-anchor="start" font-weight="bold" font-style="normal" fill="#222" >Component 1</text>
<rect x="982.2" y="450.3" width="28.5" height="14.6" fill="#f2c7b8" stroke="#43302c" stroke-width="1.4"/>
<text x="1018" y="462.6" font-size="14.2" text-anchor="start" font-weight="bold" font-style="normal" fill="#222" >Component 2</text>
<rect x="982.2" y="468.4" width="28.5" height="14.5" fill="#e7727f" stroke="#4a1f28" stroke-width="1.4"/>
<text x="1018" y="480.6" font-size="14.2" text-anchor="start" font-weight="bold" font-style="normal" fill="#222" >Component 3</text>
<rect x="982.2" y="486.7" width="28.5" height="14" fill="#2f74a9" stroke="#0e2a42" stroke-width="1.4"/>
<text x="1018" y="498.7" font-size="14.2" text-anchor="start" font-weight="bold" font-style="normal" fill="#222" >Component 4</text>
<text x="900.8" y="403.8" font-size="18" text-anchor="middle" font-weight="bold" font-style="normal" fill="#222" >(e)</text>
<rect x="971.4" y="764.3" width="341.2" height="33.5" fill="#b3b3b3"/>
<line x1="1141.7" y1="797.8" x2="1141.7" y2="1061.2" stroke="#333" stroke-width="1.3" stroke-dasharray="3 2.6"/>
<rect x="977.5" y="956.4" width="45.8" height="104.8" fill="#76aed0" stroke="#1b3346" stroke-width="1.5"/>
<rect x="977.5" y="906.4" width="45.8" height="50" fill="#f2c7b8" stroke="#43302c" stroke-width="1.5"/>
<rect x="977.5" y="900.6" width="45.8" height="5.8" fill="#e7727f" stroke="#4a1f28" stroke-width="1.5"/>
<rect x="1034.5" y="887.5" width="45.8" height="173.7" fill="#76aed0" stroke="#1b3346" stroke-width="1.5"/>
<rect x="1034.5" y="840" width="45.8" height="47.5" fill="#f2c7b8" stroke="#43302c" stroke-width="1.5"/>
<rect x="1034.5" y="832.7" width="45.8" height="7.3" fill="#e7727f" stroke="#4a1f28" stroke-width="1.5"/>
<rect x="1091.3" y="988.5" width="45.8" height="72.7" fill="#76aed0" stroke="#1b3346" stroke-width="1.5"/>
<rect x="1091.3" y="927.9" width="45.8" height="60.6" fill="#f2c7b8" stroke="#43302c" stroke-width="1.5"/>
<rect x="1091.3" y="923.9" width="45.8" height="4" fill="#e7727f" stroke="#4a1f28" stroke-width="1.5"/>
<rect x="1147.9" y="1023.4" width="45.8" height="37.8" fill="#76aed0" stroke="#1b3346" stroke-width="1.5"/>
<rect x="1147.9" y="1008.9" width="45.8" height="14.5" fill="#e7727f" stroke="#4a1f28" stroke-width="1.5"/>
<rect x="1204.8" y="988.5" width="45.8" height="72.7" fill="#76aed0" stroke="#1b3346" stroke-width="1.5"/>
<rect x="1204.8" y="985.5" width="45.8" height="2.9" fill="#f2c7b8" stroke="#43302c" stroke-width="1.5"/>
<rect x="1204.8" y="973.3" width="45.8" height="12.2" fill="#e7727f" stroke="#4a1f28" stroke-width="1.5"/>
<rect x="1261.8" y="956.4" width="45.8" height="104.8" fill="#76aed0" stroke="#1b3346" stroke-width="1.5"/>
<rect x="1261.8" y="939.6" width="45.8" height="16.8" fill="#e7727f" stroke="#4a1f28" stroke-width="1.5"/>
<rect x="971.4" y="764.3" width="341.2" height="296.9" fill="none" stroke="#444" stroke-width="1.75"/>
<line x1="970.7" y1="797.8" x2="1313.3" y2="797.8" stroke="#1a1a1a" stroke-width="2.0" />
<line x1="1141.7" y1="764.3" x2="1141.7" y2="797.8" stroke="#2a2a2a" stroke-width="1.5" />
<line x1="971.4" y1="1061.2" x2="966.2" y2="1061.2" stroke="#444" stroke-width="1.4" />
<text x="960.9" y="1066.1" font-size="14" text-anchor="end" font-weight="bold" font-style="normal" fill="#222" >0</text>
<line x1="971.4" y1="1013.4" x2="966.2" y2="1013.4" stroke="#444" stroke-width="1.4" />
<text x="960.9" y="1018.3" font-size="14" text-anchor="end" font-weight="bold" font-style="normal" fill="#222" >1000</text>
<line x1="971.4" y1="965.5" x2="966.2" y2="965.5" stroke="#444" stroke-width="1.4" />
<text x="960.9" y="970.4" font-size="14" text-anchor="end" font-weight="bold" font-style="normal" fill="#222" >2000</text>
<line x1="971.4" y1="917.7" x2="966.2" y2="917.7" stroke="#444" stroke-width="1.4" />
<text x="960.9" y="922.6" font-size="14" text-anchor="end" font-weight="bold" font-style="normal" fill="#222" >3000</text>
<line x1="971.4" y1="869.8" x2="966.2" y2="869.8" stroke="#444" stroke-width="1.4" />
<text x="960.9" y="874.7" font-size="14" text-anchor="end" font-weight="bold" font-style="normal" fill="#222" >4000</text>
<line x1="971.4" y1="822" x2="966.2" y2="822" stroke="#444" stroke-width="1.4" />
<text x="960.9" y="826.9" font-size="14" text-anchor="end" font-weight="bold" font-style="normal" fill="#222" >5000</text>
<line x1="971.4" y1="1037.3" x2="968.6" y2="1037.3" stroke="#444" stroke-width="1.3" />
<line x1="971.4" y1="989.4" x2="968.6" y2="989.4" stroke="#444" stroke-width="1.3" />
<line x1="971.4" y1="941.6" x2="968.6" y2="941.6" stroke="#444" stroke-width="1.3" />
<line x1="971.4" y1="893.7" x2="968.6" y2="893.7" stroke="#444" stroke-width="1.3" />
<line x1="971.4" y1="845.9" x2="968.6" y2="845.9" stroke="#444" stroke-width="1.3" />
<line x1="1000.4" y1="1061.2" x2="1000.4" y2="1066.6" stroke="#444" stroke-width="1.4" />
<line x1="1028.9" y1="1061.2" x2="1028.9" y2="1064" stroke="#444" stroke-width="1.3" />
<text x="1000.4" y="1080.1" font-size="13" text-anchor="middle" font-weight="bold" font-style="normal" fill="#222" >0d</text>
<line x1="1057.4" y1="1061.2" x2="1057.4" y2="1066.6" stroke="#444" stroke-width="1.4" />
<line x1="1085.9" y1="1061.2" x2="1085.9" y2="1064" stroke="#444" stroke-width="1.3" />
<text x="1057.4" y="1080.1" font-size="13" text-anchor="middle" font-weight="bold" font-style="normal" fill="#222" >5d</text>
<line x1="1114.2" y1="1061.2" x2="1114.2" y2="1066.6" stroke="#444" stroke-width="1.4" />
<line x1="1142.7" y1="1061.2" x2="1142.7" y2="1064" stroke="#444" stroke-width="1.3" />
<text x="1114.2" y="1080.1" font-size="13" text-anchor="middle" font-weight="bold" font-style="normal" fill="#222" >10d</text>
<line x1="1170.8" y1="1061.2" x2="1170.8" y2="1066.6" stroke="#444" stroke-width="1.4" />
<line x1="1199.3" y1="1061.2" x2="1199.3" y2="1064" stroke="#444" stroke-width="1.3" />
<text x="1170.8" y="1080.1" font-size="13" text-anchor="middle" font-weight="bold" font-style="normal" fill="#222" >0d</text>
<line x1="1227.7" y1="1061.2" x2="1227.7" y2="1066.6" stroke="#444" stroke-width="1.4" />
<line x1="1256.2" y1="1061.2" x2="1256.2" y2="1064" stroke="#444" stroke-width="1.3" />
<text x="1227.7" y="1080.1" font-size="13" text-anchor="middle" font-weight="bold" font-style="normal" fill="#222" >5d</text>
<line x1="1284.7" y1="1061.2" x2="1284.7" y2="1066.6" stroke="#444" stroke-width="1.4" />
<text x="1284.7" y="1080.1" font-size="13" text-anchor="middle" font-weight="bold" font-style="normal" fill="#222" >10d</text>
<text x="1141.7" y="1097.9" font-size="16" text-anchor="middle" font-weight="bold" font-style="normal" fill="#222" >Incubation time (d)</text>
<text x="902.7" y="915" font-size="15.7" text-anchor="middle" font-weight="bold" font-style="normal" fill="#222" transform="rotate(-90 902.7 915)">The maximum</text>
<text x="922.3" y="911" font-size="15.7" text-anchor="middle" font-weight="bold" font-style="normal" fill="#222" transform="rotate(-90 922.3 911)">fluorescence intensity (a.u.)</text>
<text x="1051.5" y="776.6" font-size="13.6" text-anchor="middle" font-weight="bold" fill="#1e1e1e" xml:space="preserve"><tspan font-style="italic">M. aeruginosa +</tspan></text>
<text x="1060" y="792.6" font-size="13.6" text-anchor="middle" font-weight="bold" fill="#1e1e1e" xml:space="preserve"><tspan font-style="italic">Fusarium solani</tspan><tspan font-style="normal"> D7- IOM</tspan></text>
<text x="1224.8" y="776.2" font-size="13.6" text-anchor="middle" font-weight="bold" fill="#1e1e1e" xml:space="preserve"><tspan font-style="italic">M. aeruginosa +</tspan></text>
<text x="1228.1" y="792.4" font-size="13.6" text-anchor="middle" font-weight="bold" fill="#1e1e1e" xml:space="preserve"><tspan font-style="italic">Fusarium solani</tspan><tspan font-style="normal"> D7- EOM</tspan></text>
<rect x="1183.1" y="809.7" width="29.1" height="14.3" fill="#76aed0" stroke="#1b3346" stroke-width="1.4"/>
<text x="1218.9" y="821.8" font-size="14.2" text-anchor="start" font-weight="bold" font-style="normal" fill="#222" >Component 1</text>
<rect x="1183.1" y="826.9" width="29.1" height="14.3" fill="#f2c7b8" stroke="#43302c" stroke-width="1.4"/>
<text x="1218.9" y="839" font-size="14.2" text-anchor="start" font-weight="bold" font-style="normal" fill="#222" >Component 2</text>
<rect x="1183.1" y="844.4" width="29.1" height="14" fill="#e7727f" stroke="#4a1f28" stroke-width="1.4"/>
<text x="1218.9" y="856.4" font-size="14.2" text-anchor="start" font-weight="bold" font-style="normal" fill="#222" >Component 3</text>
<text x="900.3" y="769.3" font-size="18" text-anchor="middle" font-weight="bold" font-style="normal" fill="#222" >(f)</text>
</svg>
</body></html>
